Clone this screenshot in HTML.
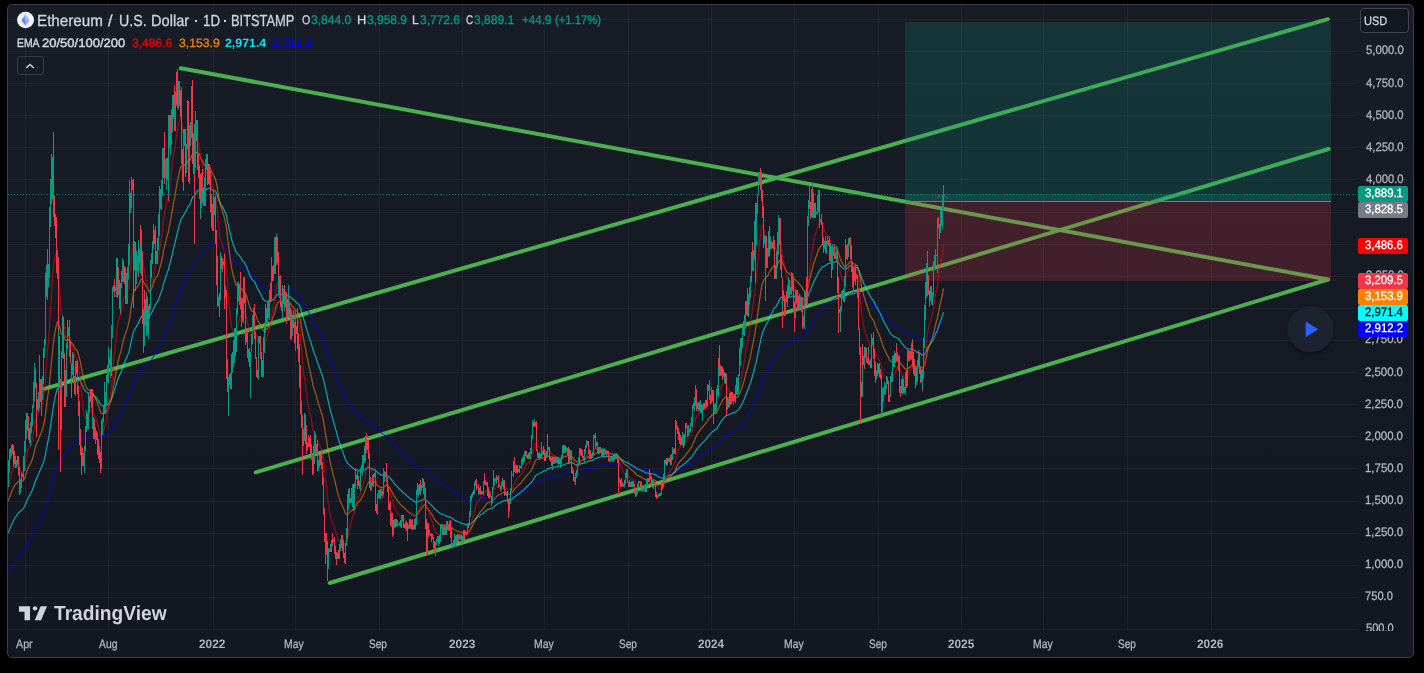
<!DOCTYPE html><html><head><meta charset="utf-8"><title>ETHUSD</title><style>
html,body{margin:0;padding:0;background:#000;}
body{width:1424px;height:673px;overflow:hidden;position:relative;font-family:"Liberation Sans",sans-serif;}
#chart{position:absolute;left:7px;top:4px;width:1405px;height:652px;border:1px solid #3a3e4a;border-radius:5px;background:linear-gradient(#181c27,#131722);}
.t{position:absolute;white-space:nowrap;line-height:1;text-rendering:geometricPrecision;-webkit-text-stroke:0.3px currentColor;}
.lb{position:absolute;left:1358px;width:50px;height:16px;border-radius:2px;}
</style></head><body>
<div id="chart"></div>
<svg width="1424" height="673" viewBox="0 0 1424 673" style="position:absolute;left:0;top:0">
<defs><clipPath id="pane"><rect x="8" y="5" width="1349" height="625"/></clipPath></defs>
<g clip-path="url(#pane)">
<g fill="#ffffff" fill-opacity="0.047" shape-rendering="crispEdges"><rect x="8" y="629" width="1349" height="1"/><rect x="8" y="597" width="1349" height="1"/><rect x="8" y="565" width="1349" height="1"/><rect x="8" y="533" width="1349" height="1"/><rect x="8" y="501" width="1349" height="1"/><rect x="8" y="468" width="1349" height="1"/><rect x="8" y="436" width="1349" height="1"/><rect x="8" y="404" width="1349" height="1"/><rect x="8" y="372" width="1349" height="1"/><rect x="8" y="340" width="1349" height="1"/><rect x="8" y="308" width="1349" height="1"/><rect x="8" y="276" width="1349" height="1"/><rect x="8" y="244" width="1349" height="1"/><rect x="8" y="212" width="1349" height="1"/><rect x="8" y="179" width="1349" height="1"/><rect x="8" y="147" width="1349" height="1"/><rect x="8" y="115" width="1349" height="1"/><rect x="8" y="83" width="1349" height="1"/><rect x="8" y="51" width="1349" height="1"/><rect x="8" y="19" width="1349" height="1"/><rect x="25" y="5" width="1" height="625"/><rect x="108" y="5" width="1" height="625"/><rect x="213" y="5" width="1" height="625"/><rect x="295" y="5" width="1" height="625"/><rect x="379" y="5" width="1" height="625"/><rect x="462" y="5" width="1" height="625"/><rect x="544" y="5" width="1" height="625"/><rect x="628" y="5" width="1" height="625"/><rect x="711" y="5" width="1" height="625"/><rect x="794" y="5" width="1" height="625"/><rect x="878" y="5" width="1" height="625"/><rect x="961" y="5" width="1" height="625"/><rect x="1043" y="5" width="1" height="625"/><rect x="1127" y="5" width="1" height="625"/><rect x="1211" y="5" width="1" height="625"/></g>
<g stroke="#4caf50" stroke-width="4" stroke-linecap="round" fill="none">
<line x1="180.8" y1="68.3" x2="1327.9" y2="279.5"/>
<line x1="44.1" y1="388.8" x2="1327.9" y2="19.2"/>
<line x1="255.7" y1="472.3" x2="1328.7" y2="149.0"/>
<line x1="329.7" y1="583.0" x2="1327.9" y2="279.5"/>
</g>
<rect x="905" y="22" width="426" height="179.5" fill="#089981" fill-opacity="0.2"/>
<rect x="905" y="194" width="426" height="7.5" fill="#089981" fill-opacity="0.2"/>
<rect x="905" y="201.5" width="426" height="79.5" fill="#f23645" fill-opacity="0.2"/>
<rect x="905" y="201" width="426" height="1" fill="#787b86"/>
<polyline points="5.5,575.7 6.2,574.9 6.9,574.1 7.6,573.3 8.3,572.3 9.0,571.2 9.6,570.0 10.3,568.8 11.0,567.6 11.7,566.4 12.4,565.2 13.1,564.1 13.7,563.0 14.4,562.0 15.1,561.0 15.8,560.0 16.5,559.1 17.2,558.1 17.8,557.2 18.5,556.3 19.2,555.5 19.9,554.9 20.6,554.1 21.2,553.4 21.9,552.6 22.6,551.8 23.3,551.0 24.0,550.1 24.7,549.1 25.3,547.8 26.0,546.5 26.7,545.3 27.4,544.0 28.1,542.8 28.8,541.7 29.4,540.7 30.1,539.7 30.8,538.6 31.5,537.4 32.2,536.2 32.9,534.9 33.5,533.5 34.2,532.0 34.9,530.4 35.6,529.0 36.3,527.6 37.0,526.4 37.6,525.2 38.3,524.0 39.0,522.7 39.7,521.4 40.4,520.1 41.1,518.9 41.7,517.7 42.4,516.3 43.1,514.8 43.8,513.2 44.5,511.5 45.2,509.5 45.8,507.4 46.5,505.0 47.2,502.5 47.9,500.2 48.6,498.0 49.3,495.5 49.9,492.7 50.6,489.7 51.3,486.7 52.0,483.7 52.7,480.5 53.4,477.7 54.0,475.1 54.7,472.6 55.4,470.1 56.1,467.9 56.8,466.0 57.5,463.9 58.1,463.1 58.8,461.8 59.5,461.0 60.2,460.4 60.9,460.1 61.6,459.0 62.2,457.8 62.9,456.5 63.6,455.5 64.3,454.8 65.0,454.2 65.7,453.4 66.3,452.3 67.0,451.1 67.7,450.0 68.4,448.7 69.1,447.7 69.7,446.7 70.4,445.9 71.1,445.1 71.8,444.4 72.5,443.6 73.2,442.8 73.8,442.1 74.5,441.6 75.2,441.0 75.9,440.2 76.6,439.4 77.3,438.9 77.9,438.4 78.6,438.1 79.3,437.8 80.0,437.8 80.7,438.0 81.4,438.1 82.0,438.3 82.7,438.6 83.4,438.8 84.1,439.0 84.8,439.1 85.5,438.9 86.1,438.7 86.8,438.5 87.5,438.3 88.2,438.0 88.9,437.6 89.6,437.2 90.2,436.8 90.9,436.4 91.6,436.0 92.3,435.9 93.0,435.7 93.7,435.6 94.3,435.6 95.0,435.6 95.7,435.5 96.4,435.6 97.1,435.7 97.8,435.8 98.4,435.9 99.1,436.1 99.8,436.4 100.5,436.6 101.2,436.6 101.9,436.5 102.5,436.3 103.2,436.1 103.9,435.9 104.6,435.6 105.3,435.3 106.0,434.9 106.6,434.3 107.3,433.7 108.0,433.1 108.7,432.4 109.4,431.7 110.1,431.1 110.7,430.3 111.4,429.3 112.1,428.1 112.8,426.7 113.5,425.3 114.2,423.9 114.8,422.5 115.5,421.2 116.2,419.7 116.9,418.2 117.6,416.8 118.2,415.5 118.9,414.2 119.6,413.0 120.3,412.0 121.0,410.8 121.7,409.4 122.3,408.0 123.0,406.7 123.7,405.3 124.4,404.0 125.1,402.9 125.8,401.8 126.4,400.5 127.1,399.3 127.8,398.1 128.5,396.7 129.2,395.2 129.9,393.3 130.5,391.3 131.2,389.3 131.9,387.3 132.6,385.3 133.3,383.3 134.0,382.0 134.6,380.6 135.3,379.5 136.0,378.5 136.7,377.4 137.4,376.2 138.1,375.2 138.7,374.0 139.4,372.8 140.1,371.4 140.8,370.1 141.5,368.9 142.2,368.0 142.8,367.5 143.5,367.2 144.2,366.5 144.9,365.9 145.6,365.4 146.3,364.9 146.9,364.2 147.6,363.8 148.3,363.5 149.0,363.0 149.7,362.4 150.4,361.5 151.0,360.6 151.7,359.6 152.4,358.4 153.1,357.2 153.8,355.9 154.5,354.7 155.1,353.6 155.8,352.6 156.5,351.6 157.2,350.5 157.9,349.5 158.6,348.3 159.2,346.9 159.9,345.4 160.6,343.9 161.3,342.5 162.0,341.0 162.7,339.2 163.3,337.4 164.0,335.8 164.7,334.2 165.4,332.6 166.1,331.0 166.7,329.3 167.4,327.8 168.1,326.4 168.8,324.6 169.5,322.6 170.2,320.9 170.8,319.1 171.5,317.0 172.2,314.9 172.9,312.8 173.6,310.8 174.3,308.9 174.9,306.9 175.6,304.8 176.3,302.5 177.0,300.4 177.7,298.4 178.4,296.3 179.0,294.3 179.7,292.4 180.4,290.5 181.1,288.9 181.8,287.6 182.5,286.4 183.1,285.4 183.8,283.9 184.5,282.5 185.2,281.2 185.9,280.1 186.6,278.7 187.2,277.4 187.9,275.8 188.6,274.8 189.3,273.5 190.0,272.2 190.7,270.8 191.3,269.1 192.0,267.5 192.7,266.2 193.4,265.1 194.1,264.1 194.8,263.0 195.4,261.7 196.1,260.5 196.8,259.1 197.5,258.2 198.2,257.2 198.9,256.4 199.5,255.6 200.2,255.2 200.9,254.6 201.6,253.9 202.3,253.3 203.0,252.7 203.6,252.2 204.3,251.6 205.0,251.0 205.7,250.1 206.4,249.2 207.1,248.4 207.7,247.7 208.4,247.0 209.1,246.3 209.8,245.6 210.5,245.2 211.2,244.9 211.8,244.6 212.5,244.4 213.2,243.9 213.9,243.5 214.6,243.1 215.2,242.7 215.9,242.7 216.6,242.9 217.3,243.3 218.0,243.8 218.7,244.4 219.3,244.9 220.0,245.2 220.7,245.4 221.4,245.6 222.1,245.8 222.8,245.9 223.4,246.1 224.1,246.5 224.8,246.9 225.5,247.4 226.2,248.0 226.9,249.1 227.5,250.5 228.2,251.8 228.9,253.1 229.6,254.4 230.3,255.7 231.0,256.9 231.6,258.0 232.3,259.0 233.0,259.9 233.7,260.7 234.4,261.5 235.1,262.3 235.7,263.1 236.4,263.6 237.1,263.9 237.8,264.2 238.5,264.5 239.2,264.8 239.8,265.1 240.5,265.4 241.2,265.9 241.9,266.4 242.6,267.0 243.3,267.4 243.9,267.6 244.6,267.8 245.3,268.4 246.0,269.1 246.7,269.8 247.4,270.7 248.0,271.5 248.7,272.4 249.4,273.3 250.1,274.1 250.8,274.9 251.5,275.5 252.1,276.0 252.8,276.5 253.5,276.8 254.2,277.2 254.9,277.7 255.6,278.5 256.2,279.3 256.9,280.2 257.6,281.2 258.3,281.9 259.0,282.5 259.7,283.1 260.3,283.9 261.0,284.6 261.7,285.4 262.4,286.2 263.1,286.9 263.7,287.5 264.4,287.9 265.1,288.2 265.8,288.5 266.5,288.8 267.2,289.0 267.8,289.3 268.5,289.5 269.2,289.5 269.9,289.6 270.6,289.7 271.3,289.6 271.9,289.4 272.6,289.3 273.3,289.1 274.0,289.0 274.7,288.6 275.4,288.2 276.0,287.7 276.7,287.4 277.4,287.1 278.1,287.1 278.8,287.1 279.5,287.1 280.1,287.0 280.8,287.2 281.5,287.5 282.2,287.7 282.9,287.7 283.6,287.8 284.2,288.0 284.9,288.1 285.6,288.2 286.3,288.3 287.0,288.6 287.7,288.8 288.3,289.0 289.0,289.2 289.7,289.4 290.4,289.7 291.1,290.2 291.8,290.6 292.4,291.0 293.1,291.2 293.8,291.5 294.5,292.0 295.2,292.4 295.9,292.8 296.5,293.1 297.2,293.3 297.9,293.8 298.6,294.4 299.3,295.0 300.0,295.9 300.6,297.0 301.3,298.2 302.0,299.5 302.7,300.9 303.4,302.3 304.1,303.6 304.7,304.7 305.4,306.0 306.1,307.4 306.8,308.8 307.5,310.2 308.2,311.5 308.8,312.8 309.5,314.1 310.2,315.3 310.9,316.7 311.6,318.0 312.2,319.5 312.9,321.0 313.6,322.3 314.3,323.6 315.0,324.7 315.7,325.9 316.3,327.1 317.0,328.4 317.7,329.8 318.4,331.1 319.1,332.4 319.8,333.6 320.4,334.9 321.1,336.2 321.8,337.5 322.5,338.9 323.2,340.4 323.9,342.1 324.5,344.1 325.2,346.0 325.9,347.9 326.6,349.9 327.3,351.9 328.0,354.1 328.6,356.0 329.3,357.9 330.0,359.8 330.7,361.7 331.4,363.6 332.1,365.3 332.7,367.0 333.4,368.8 334.1,370.5 334.8,372.2 335.5,374.1 336.2,375.9 336.8,377.7 337.5,379.4 338.2,381.2 338.9,382.9 339.6,384.6 340.3,386.2 340.9,387.8 341.6,389.3 342.3,390.7 343.0,392.3 343.7,393.9 344.4,395.6 345.0,397.1 345.7,398.6 346.4,399.9 347.1,401.1 347.8,402.1 348.5,403.0 349.1,403.9 349.8,404.9 350.5,405.8 351.2,406.7 351.9,407.6 352.6,408.4 353.2,409.3 353.9,410.3 354.6,411.1 355.3,411.7 356.0,412.3 356.7,412.9 357.3,413.6 358.0,414.2 358.7,414.9 359.4,415.6 360.1,416.3 360.7,416.9 361.4,417.4 362.1,418.0 362.8,418.4 363.5,418.8 364.2,419.2 364.8,419.5 365.5,419.7 366.2,419.9 366.9,420.1 367.6,420.4 368.3,420.7 368.9,421.1 369.6,421.7 370.3,422.3 371.0,423.0 371.7,423.6 372.4,424.2 373.0,424.7 373.7,425.3 374.4,425.8 375.1,426.5 375.8,427.3 376.5,428.1 377.1,428.9 377.8,429.6 378.5,430.2 379.2,430.8 379.9,431.5 380.6,432.1 381.2,432.7 381.9,433.3 382.6,433.9 383.3,434.4 384.0,434.8 384.7,435.2 385.3,435.5 386.0,435.9 386.7,436.3 387.4,436.9 388.1,437.5 388.8,438.1 389.4,438.8 390.1,439.6 390.8,440.4 391.5,441.2 392.2,442.0 392.9,442.9 393.5,443.7 394.2,444.5 394.9,445.3 395.6,446.1 396.3,446.8 397.0,447.6 397.6,448.4 398.3,449.1 399.0,449.8 399.7,450.6 400.4,451.3 401.1,452.0 401.7,452.7 402.4,453.3 403.1,454.0 403.8,454.7 404.5,455.4 405.2,456.1 405.8,456.8 406.5,457.5 407.2,458.2 407.9,458.9 408.6,459.6 409.2,460.3 409.9,460.9 410.6,461.5 411.3,462.1 412.0,462.7 412.7,463.3 413.3,464.0 414.0,464.6 414.7,465.1 415.4,465.7 416.1,466.1 416.8,466.3 417.4,466.6 418.1,466.9 418.8,467.1 419.5,467.2 420.2,467.5 420.9,467.7 421.5,467.9 422.2,468.1 422.9,468.2 423.6,468.4 424.3,468.6 425.0,468.8 425.6,469.4 426.3,470.2 427.0,470.8 427.7,471.3 428.4,471.9 429.1,472.6 429.7,473.2 430.4,473.8 431.1,474.4 431.8,475.1 432.5,475.7 433.2,476.4 433.8,477.1 434.5,477.8 435.2,478.5 435.9,479.2 436.6,479.8 437.3,480.3 437.9,480.9 438.6,481.5 439.3,482.1 440.0,482.7 440.7,483.1 441.4,483.5 442.0,484.0 442.7,484.4 443.4,484.9 444.1,485.3 444.8,485.8 445.5,486.2 446.1,486.7 446.8,487.1 447.5,487.5 448.2,487.9 448.9,488.3 449.6,488.6 450.2,489.0 450.9,489.4 451.6,490.0 452.3,490.5 453.0,491.0 453.7,491.6 454.3,492.1 455.0,492.5 455.7,493.0 456.4,493.4 457.1,493.8 457.7,494.3 458.4,494.7 459.1,495.1 459.8,495.6 460.5,496.0 461.2,496.4 461.8,496.8 462.5,497.2 463.2,497.6 463.9,497.9 464.6,498.3 465.3,498.6 465.9,498.9 466.6,499.3 467.3,499.5 468.0,499.8 468.7,500.1 469.4,500.2 470.0,500.3 470.7,500.3 471.4,500.2 472.1,500.1 472.8,500.1 473.5,500.0 474.1,499.9 474.8,499.7 475.5,499.5 476.2,499.4 476.9,499.3 477.6,499.1 478.2,499.1 478.9,499.0 479.6,498.9 480.3,498.8 481.0,498.7 481.7,498.7 482.3,498.6 483.0,498.5 483.7,498.3 484.4,498.2 485.1,498.0 485.8,497.9 486.4,497.7 487.1,497.6 487.8,497.6 488.5,497.5 489.2,497.5 489.9,497.5 490.5,497.5 491.2,497.5 491.9,497.5 492.6,497.4 493.3,497.2 494.0,497.1 494.6,496.9 495.3,496.7 496.0,496.5 496.7,496.4 497.4,496.2 498.1,496.0 498.7,496.0 499.4,495.9 500.1,495.8 500.8,495.7 501.5,495.6 502.2,495.5 502.8,495.3 503.5,495.2 504.2,495.2 504.9,495.2 505.6,495.1 506.2,495.1 506.9,495.1 507.6,495.2 508.3,495.3 509.0,495.5 509.7,495.5 510.3,495.4 511.0,495.3 511.7,495.1 512.4,494.9 513.1,494.6 513.8,494.3 514.4,494.1 515.1,493.8 515.8,493.6 516.5,493.3 517.2,493.1 517.9,492.9 518.5,492.7 519.2,492.4 519.9,492.2 520.6,491.9 521.3,491.7 522.0,491.4 522.6,491.0 523.3,490.7 524.0,490.4 524.7,490.0 525.4,489.7 526.1,489.3 526.7,489.0 527.4,488.7 528.1,488.4 528.8,488.0 529.5,487.7 530.2,487.4 530.8,487.0 531.5,486.5 532.2,486.0 532.9,485.4 533.6,484.8 534.3,484.2 534.9,483.6 535.6,483.0 536.3,482.6 537.0,482.3 537.7,482.0 538.4,481.8 539.0,481.5 539.7,481.3 540.4,481.0 541.1,480.7 541.8,480.5 542.5,480.2 543.1,479.9 543.8,479.6 544.5,479.4 545.2,479.2 545.9,479.0 546.6,478.7 547.2,478.3 547.9,478.0 548.6,477.7 549.3,477.5 550.0,477.3 550.7,477.1 551.3,477.0 552.0,476.8 552.7,476.7 553.4,476.5 554.1,476.3 554.8,476.2 555.4,476.0 556.1,475.8 556.8,475.7 557.5,475.5 558.2,475.4 558.8,475.2 559.5,475.1 560.2,475.0 560.9,474.8 561.6,474.7 562.3,474.4 562.9,474.2 563.6,473.9 564.3,473.7 565.0,473.4 565.7,473.2 566.4,473.0 567.0,472.8 567.7,472.6 568.4,472.5 569.1,472.3 569.8,472.1 570.5,471.9 571.1,471.8 571.8,471.7 572.5,471.8 573.2,471.8 573.9,471.9 574.6,472.0 575.2,472.1 575.9,472.1 576.6,472.1 577.3,472.1 578.0,472.1 578.7,471.9 579.3,471.7 580.0,471.5 580.7,471.3 581.4,471.1 582.1,470.9 582.8,470.8 583.4,470.7 584.1,470.6 584.8,470.4 585.5,470.1 586.2,469.9 586.9,469.6 587.5,469.3 588.2,469.1 588.9,468.9 589.6,468.8 590.3,468.6 591.0,468.5 591.6,468.4 592.3,468.2 593.0,468.0 593.7,467.7 594.4,467.4 595.1,467.2 595.7,466.9 596.4,466.7 597.1,466.5 597.8,466.3 598.5,466.1 599.2,466.0 599.8,465.8 600.5,465.6 601.2,465.5 601.9,465.3 602.6,465.2 603.3,465.1 603.9,464.9 604.6,464.8 605.3,464.7 606.0,464.6 606.7,464.5 607.3,464.4 608.0,464.3 608.7,464.3 609.4,464.2 610.1,464.2 610.8,464.1 611.4,464.1 612.1,464.0 612.8,464.0 613.5,463.9 614.2,463.8 614.9,463.7 615.5,463.7 616.2,463.6 616.9,463.5 617.6,463.5 618.3,463.7 619.0,463.8 619.6,464.0 620.3,464.2 621.0,464.4 621.7,464.6 622.4,464.8 623.1,465.0 623.7,465.2 624.4,465.4 625.1,465.5 625.8,465.6 626.5,465.6 627.2,465.7 627.8,465.9 628.5,466.1 629.2,466.3 629.9,466.5 630.6,466.6 631.3,466.8 631.9,467.0 632.6,467.1 633.3,467.3 634.0,467.5 634.7,467.7 635.4,468.0 636.0,468.2 636.7,468.5 637.4,468.6 638.1,468.8 638.8,468.9 639.5,469.0 640.1,469.2 640.8,469.3 641.5,469.5 642.2,469.7 642.9,469.9 643.6,470.1 644.2,470.3 644.9,470.5 645.6,470.6 646.3,470.8 647.0,470.9 647.7,471.0 648.3,471.1 649.0,471.1 649.7,471.1 650.4,471.2 651.1,471.3 651.8,471.4 652.4,471.5 653.1,471.6 653.8,471.7 654.5,471.9 655.2,472.0 655.8,472.2 656.5,472.4 657.2,472.7 657.9,472.9 658.6,473.1 659.3,473.3 659.9,473.6 660.6,473.7 661.3,473.9 662.0,474.0 662.7,474.1 663.4,474.1 664.0,474.1 664.7,473.9 665.4,473.8 666.1,473.7 666.8,473.6 667.5,473.5 668.1,473.3 668.8,473.2 669.5,473.1 670.2,472.9 670.9,472.8 671.6,472.7 672.2,472.5 672.9,472.3 673.6,472.1 674.3,471.9 675.0,471.7 675.7,471.2 676.3,470.7 677.0,470.3 677.7,470.0 678.4,469.6 679.1,469.3 679.8,469.0 680.4,468.7 681.1,468.5 681.8,468.2 682.5,467.9 683.2,467.7 683.9,467.4 684.5,467.1 685.2,466.8 685.9,466.4 686.6,466.0 687.3,465.6 688.0,465.3 688.6,465.0 689.3,464.6 690.0,464.2 690.7,463.8 691.4,463.4 692.1,462.9 692.7,462.3 693.4,461.8 694.1,461.2 694.8,460.6 695.5,459.9 696.2,459.3 696.8,458.7 697.5,458.2 698.2,457.7 698.9,457.2 699.6,456.7 700.3,456.2 700.9,455.7 701.6,455.3 702.3,454.8 703.0,454.3 703.7,453.9 704.3,453.4 705.0,452.9 705.7,452.4 706.4,451.9 707.1,451.4 707.8,450.8 708.4,450.2 709.1,449.6 709.8,449.1 710.5,448.6 711.2,448.1 711.9,447.5 712.5,447.0 713.2,446.7 713.9,446.3 714.6,445.9 715.3,445.5 716.0,445.2 716.6,444.7 717.3,444.1 718.0,443.3 718.7,442.5 719.4,441.8 720.1,441.1 720.7,440.4 721.4,439.7 722.1,439.0 722.8,438.4 723.5,437.7 724.2,437.2 724.8,436.6 725.5,436.0 726.2,435.6 726.9,435.3 727.6,435.0 728.3,434.7 728.9,434.3 729.6,434.0 730.3,433.6 731.0,433.3 731.7,432.9 732.4,432.6 733.0,432.3 733.7,431.9 734.4,431.6 735.1,431.3 735.8,430.9 736.5,430.4 737.1,430.0 737.8,429.6 738.5,429.1 739.2,428.4 739.9,427.7 740.6,426.9 741.2,426.2 741.9,425.3 742.6,424.4 743.3,423.4 744.0,422.4 744.7,421.4 745.3,420.3 746.0,419.2 746.7,418.1 747.4,417.0 748.1,415.9 748.8,414.7 749.4,413.5 750.1,412.3 750.8,411.0 751.5,409.4 752.2,408.0 752.8,406.6 753.5,405.1 754.2,403.5 754.9,401.7 755.6,400.1 756.3,398.3 756.9,396.3 757.6,394.3 758.3,392.2 759.0,390.0 759.7,387.9 760.4,385.8 761.0,383.8 761.7,381.9 762.4,380.2 763.1,378.8 763.8,377.5 764.5,376.1 765.1,375.3 765.8,373.9 766.5,372.7 767.2,371.7 767.9,370.5 768.6,369.2 769.2,367.9 769.9,366.6 770.6,365.4 771.3,364.2 772.0,363.0 772.7,361.8 773.3,360.6 774.0,359.5 774.7,358.6 775.4,357.8 776.1,356.8 776.8,355.8 777.4,354.7 778.1,353.5 778.8,352.2 779.5,351.0 780.2,349.9 780.9,349.0 781.5,348.2 782.2,347.8 782.9,347.4 783.6,346.9 784.3,346.4 785.0,346.1 785.6,345.6 786.3,345.1 787.0,344.7 787.7,344.2 788.4,343.6 789.1,343.0 789.7,342.5 790.4,342.0 791.1,341.4 791.8,340.8 792.5,340.2 793.2,339.7 793.8,339.4 794.5,339.1 795.2,338.7 795.9,338.3 796.6,337.9 797.3,337.5 797.9,337.1 798.6,336.8 799.3,336.5 800.0,336.1 800.7,335.8 801.3,335.5 802.0,335.3 802.7,335.2 803.4,335.1 804.1,334.8 804.8,334.4 805.4,334.1 806.1,333.7 806.8,333.3 807.5,332.3 808.2,331.0 808.9,329.8 809.5,328.5 810.2,327.4 810.9,326.2 811.6,325.0 812.3,323.7 813.0,322.5 813.6,321.3 814.3,320.2 815.0,319.1 815.7,318.1 816.4,317.0 817.1,316.0 817.7,314.8 818.4,313.6 819.1,312.7 819.8,311.8 820.5,310.8 821.2,309.9 821.8,309.1 822.5,308.4 823.2,307.8 823.9,307.2 824.6,306.6 825.3,306.1 825.9,305.5 826.6,304.9 827.3,304.2 828.0,303.6 828.7,303.0 829.4,302.5 830.0,302.0 830.7,301.6 831.4,301.2 832.1,300.8 832.8,300.3 833.5,299.8 834.1,299.3 834.8,298.8 835.5,298.4 836.2,297.9 836.9,297.5 837.6,297.4 838.2,297.4 838.9,297.5 839.6,297.7 840.3,297.9 841.0,298.0 841.7,297.9 842.3,297.9 843.0,297.9 843.7,297.8 844.4,297.7 845.1,297.5 845.8,297.0 846.4,296.6 847.1,296.2 847.8,295.7 848.5,295.2 849.2,294.6 849.8,294.0 850.5,293.6 851.2,293.4 851.9,293.1 852.6,293.0 853.3,292.8 853.9,292.7 854.6,292.5 855.3,292.3 856.0,292.1 856.7,292.0 857.4,292.0 858.0,292.2 858.7,292.5 859.4,293.1 860.1,294.0 860.8,294.9 861.5,295.9 862.1,296.4 862.8,297.0 863.5,297.7 864.2,298.3 864.9,298.9 865.6,299.4 866.2,300.0 866.9,300.6 867.6,301.1 868.3,301.7 869.0,302.3 869.7,302.9 870.3,303.5 871.0,304.0 871.7,304.4 872.4,304.7 873.1,305.0 873.8,305.5 874.4,306.2 875.1,306.9 875.8,307.6 876.5,308.2 877.2,308.8 877.9,309.4 878.5,310.0 879.2,310.6 879.9,311.2 880.6,311.9 881.3,312.7 882.0,313.7 882.6,314.5 883.3,315.3 884.0,316.0 884.7,316.7 885.4,317.4 886.1,318.1 886.7,318.7 887.4,319.4 888.1,320.1 888.8,320.9 889.5,321.6 890.2,322.3 890.8,322.8 891.5,323.3 892.2,323.7 892.9,324.1 893.6,324.5 894.3,324.8 894.9,325.0 895.6,325.4 896.3,325.6 897.0,325.9 897.7,326.2 898.3,326.5 899.0,327.0 899.7,327.6 900.4,328.2 901.1,328.8 901.8,329.4 902.4,329.9 903.1,330.5 903.8,331.1 904.5,331.6 905.2,332.2 905.9,332.6 906.5,333.0 907.2,333.4 907.9,333.6 908.6,333.8 909.3,334.0 910.0,334.2 910.6,334.4 911.3,334.6 912.0,334.7 912.7,334.9 913.4,335.2 914.1,335.6 914.7,335.9 915.4,336.4 916.1,336.8 916.8,337.2 917.5,337.5 918.2,337.6 918.8,337.8 919.5,338.1 920.2,338.5 920.9,338.9 921.6,339.3 922.3,339.8 922.9,340.1 923.6,340.1 924.3,339.9 925.0,339.6 925.7,339.2 926.4,338.6 927.0,337.8 927.7,337.2 928.4,336.8 929.1,336.4 929.8,336.0 930.5,335.6 931.1,335.2 931.8,334.8 932.5,334.4 933.2,333.8 933.9,333.1 934.6,332.4 935.2,331.6 935.9,330.8 936.6,330.1 937.3,329.5 938.0,328.4 938.7,327.4 939.3,326.5 940.0,325.5 940.7,324.4 941.4,323.4 942.1,322.5 942.8,321.3 943.4,320.0" fill="none" stroke="#0000ff" stroke-width="1.25" stroke-opacity="0.6" stroke-linejoin="round"/>
<polyline points="5.5,535.9 6.2,535.1 6.9,534.3 7.6,533.4 8.3,532.2 9.0,530.8 9.6,529.3 10.3,527.7 11.0,526.2 11.7,524.6 12.4,523.0 13.1,521.6 13.7,520.3 14.4,519.1 15.1,518.0 15.8,516.9 16.5,515.9 17.2,514.8 17.8,513.8 18.5,512.9 19.2,512.2 19.9,511.7 20.6,511.1 21.2,510.5 21.9,509.8 22.6,509.1 23.3,508.2 24.0,507.4 24.7,506.2 25.3,504.6 26.0,502.9 26.7,501.2 27.4,499.5 28.1,498.0 28.8,496.8 29.4,495.7 30.1,494.4 30.8,493.2 31.5,491.7 32.2,490.2 32.9,488.6 33.5,486.8 34.2,484.7 34.9,482.5 35.6,480.5 36.3,478.8 37.0,477.4 37.6,476.0 38.3,474.5 39.0,473.0 39.7,471.2 40.4,469.7 41.1,468.3 41.7,466.8 42.4,465.1 43.1,463.2 43.8,461.0 44.5,458.6 45.2,455.8 45.8,452.5 46.5,448.9 47.2,445.0 47.9,441.7 48.6,438.3 49.3,434.6 49.9,430.2 50.6,425.5 51.3,420.8 52.0,416.2 52.7,411.0 53.4,407.0 54.0,403.2 54.7,399.6 55.4,396.1 56.1,393.1 56.8,390.7 57.5,388.1 58.1,388.0 58.8,387.0 59.5,386.9 60.2,387.2 60.9,387.9 61.6,387.2 62.2,386.3 62.9,385.0 63.6,384.4 64.3,384.4 65.0,384.7 65.7,384.5 66.3,383.7 67.0,382.7 67.7,381.7 68.4,380.6 69.1,380.0 69.7,379.3 70.4,379.0 71.1,378.8 71.8,378.7 72.5,378.3 73.2,378.0 73.8,378.0 74.5,378.2 75.2,378.2 75.9,377.9 76.6,377.7 77.3,377.7 77.9,378.0 78.6,378.5 79.3,379.3 80.0,380.4 80.7,381.8 81.4,383.2 82.0,384.7 82.7,386.3 83.4,387.8 84.1,389.2 84.8,390.3 85.5,391.0 86.1,391.5 86.8,392.0 87.5,392.6 88.2,392.9 88.9,393.0 89.6,393.1 90.2,393.1 90.9,393.2 91.6,393.3 92.3,393.8 93.0,394.4 93.7,395.0 94.3,395.8 95.0,396.5 95.7,397.2 96.4,398.0 97.1,399.0 97.8,399.9 98.4,400.9 99.1,402.0 99.8,403.2 100.5,404.4 101.2,405.0 101.9,405.4 102.5,405.6 103.2,405.8 103.9,405.9 104.6,405.9 105.3,406.0 106.0,405.8 106.6,405.2 107.3,404.5 108.0,403.8 108.7,403.1 109.4,402.3 110.1,401.6 110.7,400.6 111.4,399.2 112.1,397.4 112.8,395.2 113.5,393.0 114.2,390.9 114.8,388.9 115.5,386.9 116.2,384.7 116.9,382.4 117.6,380.3 118.2,378.4 118.9,376.6 119.6,375.0 120.3,373.6 121.0,372.0 121.7,370.0 122.3,368.0 123.0,366.1 123.7,364.2 124.4,362.5 125.1,361.0 125.8,359.7 126.4,358.0 127.1,356.5 127.8,355.0 128.5,352.9 129.2,350.9 129.9,347.9 130.5,344.9 131.2,341.8 131.9,338.7 132.6,335.6 133.3,332.7 134.0,331.2 134.6,329.4 135.3,328.2 136.0,327.3 136.7,326.0 137.4,324.7 138.1,323.6 138.7,322.3 139.4,320.9 140.1,319.2 140.8,317.6 141.5,316.4 142.2,315.6 142.8,315.6 143.5,316.0 144.2,315.7 144.9,315.4 145.6,315.5 146.3,315.4 146.9,315.1 147.6,315.3 148.3,315.6 149.0,315.5 149.7,315.4 150.4,314.5 151.0,313.6 151.7,312.4 152.4,311.1 153.1,309.5 153.8,308.0 154.5,306.6 155.1,305.2 155.8,304.2 156.5,303.3 157.2,302.1 157.9,300.9 158.6,299.4 159.2,297.8 159.9,295.8 160.6,293.7 161.3,291.9 162.0,289.9 162.7,287.4 163.3,284.8 164.0,282.6 164.7,280.5 165.4,278.4 166.1,276.2 166.7,274.1 167.4,272.1 168.1,270.5 168.8,268.0 169.5,265.2 170.2,262.8 170.8,260.4 171.5,257.5 172.2,254.4 172.9,251.4 173.6,248.6 174.3,246.0 174.9,243.4 175.6,240.4 176.3,237.2 177.0,234.2 177.7,231.5 178.4,228.8 179.0,226.1 179.7,223.6 180.4,221.2 181.1,219.5 181.8,218.2 182.5,217.2 183.1,216.5 183.8,215.0 184.5,213.5 185.2,212.3 185.9,211.4 186.6,210.1 187.2,208.9 187.9,207.0 188.6,206.3 189.3,205.2 190.0,203.9 190.7,202.5 191.3,200.5 192.0,198.6 192.7,197.4 193.4,196.5 194.1,195.9 194.8,195.1 195.4,193.9 196.1,192.8 196.8,191.4 197.5,190.9 198.2,190.3 198.9,189.9 199.5,189.8 200.2,190.1 200.9,190.4 201.6,190.1 202.3,190.3 203.0,190.4 203.6,190.5 204.3,190.6 205.0,190.6 205.7,190.0 206.4,189.4 207.1,189.0 207.7,188.7 208.4,188.5 209.1,188.3 209.8,188.0 210.5,188.4 211.2,188.9 211.8,189.5 212.5,190.1 213.2,190.3 213.9,190.5 214.6,190.7 215.2,191.0 215.9,191.9 216.6,193.4 217.3,195.2 218.0,197.2 218.7,199.2 219.3,201.2 220.0,202.7 220.7,203.8 221.4,205.1 222.1,206.2 222.8,207.3 223.4,208.5 224.1,209.9 224.8,211.4 225.5,213.1 226.2,215.0 226.9,218.0 227.5,221.3 228.2,224.6 228.9,227.6 229.6,230.6 230.3,233.7 231.0,236.7 231.6,239.2 232.3,241.6 233.0,243.6 233.7,245.6 234.4,247.4 235.1,249.2 235.7,251.2 236.4,252.4 237.1,253.3 237.8,254.1 238.5,254.8 239.2,255.5 239.8,256.4 240.5,257.3 241.2,258.3 241.9,259.5 242.6,260.7 243.3,261.7 243.9,262.1 244.6,262.8 245.3,264.0 246.0,265.5 246.7,267.0 247.4,268.7 248.0,270.5 248.7,272.2 249.4,274.0 250.1,275.7 250.8,277.2 251.5,278.4 252.1,279.4 252.8,280.1 253.5,280.8 254.2,281.4 254.9,282.4 255.6,283.9 256.2,285.4 256.9,287.1 257.6,288.8 258.3,290.1 259.0,291.2 259.7,292.2 260.3,293.5 261.0,294.7 261.7,296.2 262.4,297.6 263.1,298.7 263.7,299.7 264.4,300.3 265.1,300.6 265.8,301.0 266.5,301.3 267.2,301.5 267.8,301.7 268.5,301.9 269.2,301.8 269.9,301.7 270.6,301.6 271.3,301.3 271.9,300.6 272.6,300.1 273.3,299.6 274.0,299.0 274.7,298.2 275.4,297.2 276.0,296.1 276.7,295.2 277.4,294.5 278.1,294.3 278.8,294.1 279.5,293.9 280.1,293.8 280.8,294.0 281.5,294.4 282.2,294.6 282.9,294.6 283.6,294.6 284.2,294.8 284.9,294.9 285.6,295.0 286.3,295.1 287.0,295.4 287.7,295.8 288.3,296.1 289.0,296.3 289.7,296.6 290.4,297.0 291.1,297.8 291.8,298.5 292.4,299.1 293.1,299.4 293.8,299.8 294.5,300.7 295.2,301.3 295.9,301.8 296.5,302.4 297.2,302.6 297.9,303.4 298.6,304.4 299.3,305.4 300.0,307.0 300.6,308.9 301.3,311.1 302.0,313.4 302.7,316.0 303.4,318.3 304.1,320.6 304.7,322.5 305.4,324.8 306.1,327.2 306.8,329.6 307.5,331.8 308.2,334.0 308.8,336.2 309.5,338.3 310.2,340.3 310.9,342.4 311.6,344.7 312.2,347.0 312.9,349.5 313.6,351.6 314.3,353.5 315.0,355.1 315.7,356.9 316.3,358.7 317.0,360.7 317.7,362.8 318.4,364.8 319.1,366.7 319.8,368.4 320.4,370.3 321.1,372.1 321.8,373.9 322.5,376.0 323.2,378.4 323.9,381.0 324.5,384.2 325.2,387.2 325.9,390.2 326.6,393.3 327.3,396.5 328.0,399.8 328.6,402.8 329.3,405.7 330.0,408.6 330.7,411.4 331.4,414.0 332.1,416.4 332.7,418.9 333.4,421.3 334.1,423.7 334.8,426.1 335.5,428.7 336.2,431.2 336.8,433.7 337.5,436.1 338.2,438.5 338.9,440.8 339.6,442.9 340.3,445.0 340.9,447.0 341.6,448.8 342.3,450.5 343.0,452.4 343.7,454.4 344.4,456.5 345.0,458.4 345.7,460.1 346.4,461.6 347.1,462.8 347.8,463.5 348.5,464.0 349.1,464.7 349.8,465.4 350.5,466.0 351.2,466.6 351.9,467.2 352.6,467.7 353.2,468.3 353.9,469.1 354.6,469.4 355.3,469.5 356.0,469.6 356.7,469.7 357.3,469.9 358.0,470.1 358.7,470.4 359.4,470.6 360.1,471.0 360.7,471.0 361.4,471.0 362.1,471.0 362.8,470.9 363.5,470.6 364.2,470.3 364.8,469.9 365.5,469.3 366.2,468.7 366.9,468.2 367.6,467.8 368.3,467.5 368.9,467.3 369.6,467.6 370.3,468.0 371.0,468.3 371.7,468.6 372.4,469.0 373.0,469.2 373.7,469.3 374.4,469.4 375.1,470.0 375.8,470.7 376.5,471.5 377.1,472.2 377.8,472.7 378.5,473.2 379.2,473.6 379.9,474.0 380.6,474.4 381.2,474.7 381.9,475.1 382.6,475.4 383.3,475.6 384.0,475.6 384.7,475.5 385.3,475.5 386.0,475.3 386.7,475.4 387.4,475.7 388.1,476.2 388.8,476.8 389.4,477.4 390.1,478.1 390.8,479.0 391.5,479.7 392.2,480.6 392.9,481.7 393.5,482.5 394.2,483.3 394.9,484.1 395.6,484.9 396.3,485.6 397.0,486.4 397.6,487.1 398.3,487.9 399.0,488.5 399.7,489.2 400.4,489.9 401.1,490.6 401.7,491.2 402.4,491.7 403.1,492.3 403.8,493.0 404.5,493.6 405.2,494.2 405.8,494.8 406.5,495.5 407.2,496.1 407.9,496.7 408.6,497.3 409.2,497.9 409.9,498.4 410.6,498.9 411.3,499.3 412.0,499.8 412.7,500.3 413.3,500.9 414.0,501.3 414.7,501.7 415.4,502.1 416.1,502.2 416.8,502.0 417.4,501.8 418.1,501.6 418.8,501.3 419.5,501.0 420.2,500.8 420.9,500.6 421.5,500.3 422.2,500.0 422.9,499.7 423.6,499.4 424.3,499.2 425.0,499.1 425.6,499.5 426.3,500.6 427.0,501.1 427.7,501.7 428.4,502.3 429.1,502.9 429.7,503.5 430.4,504.1 431.1,504.8 431.8,505.5 432.5,506.1 433.2,506.9 433.8,507.7 434.5,508.5 435.2,509.3 435.9,510.0 436.6,510.6 437.3,511.1 437.9,511.7 438.6,512.2 439.3,512.8 440.0,513.3 440.7,513.6 441.4,513.8 442.0,514.1 442.7,514.4 443.4,514.7 444.1,515.0 444.8,515.3 445.5,515.7 446.1,515.9 446.8,516.2 447.5,516.4 448.2,516.6 448.9,516.8 449.6,516.9 450.2,517.1 450.9,517.4 451.6,518.0 452.3,518.5 453.0,519.0 453.7,519.5 454.3,519.9 455.0,520.3 455.7,520.6 456.4,521.0 457.1,521.3 457.7,521.6 458.4,521.9 459.1,522.2 459.8,522.5 460.5,522.8 461.2,523.1 461.8,523.5 462.5,523.7 463.2,523.9 463.9,524.0 464.6,524.2 465.3,524.4 465.9,524.5 466.6,524.7 467.3,524.7 468.0,524.8 468.7,524.7 469.4,524.6 470.0,524.2 470.7,523.7 471.4,523.1 472.1,522.6 472.8,522.0 473.5,521.4 474.1,520.7 474.8,520.0 475.5,519.2 476.2,518.5 476.9,517.9 477.6,517.3 478.2,516.8 478.9,516.3 479.6,515.8 480.3,515.2 481.0,514.8 481.7,514.4 482.3,513.9 483.0,513.4 483.7,512.8 484.4,512.2 485.1,511.6 485.8,511.0 486.4,510.5 487.1,510.0 487.8,509.6 488.5,509.3 489.2,509.1 489.9,508.8 490.5,508.5 491.2,508.3 491.9,508.2 492.6,507.7 493.3,507.2 494.0,506.7 494.6,506.2 495.3,505.6 496.0,505.1 496.7,504.6 497.4,504.0 498.1,503.6 498.7,503.3 499.4,503.0 500.1,502.7 500.8,502.4 501.5,502.0 502.2,501.6 502.8,501.2 503.5,500.9 504.2,500.7 504.9,500.5 505.6,500.4 506.2,500.3 506.9,500.2 507.6,500.2 508.3,500.4 509.0,500.6 509.7,500.5 510.3,500.3 511.0,499.9 511.7,499.4 512.4,498.9 513.1,498.3 513.8,497.6 514.4,497.0 515.1,496.5 515.8,496.0 516.5,495.5 517.2,495.0 517.9,494.5 518.5,494.0 519.2,493.5 519.9,493.0 520.6,492.5 521.3,491.9 522.0,491.3 522.6,490.7 523.3,490.1 524.0,489.4 524.7,488.8 525.4,488.1 526.1,487.4 526.7,486.8 527.4,486.2 528.1,485.6 528.8,485.0 529.5,484.4 530.2,483.8 530.8,483.2 531.5,482.3 532.2,481.4 532.9,480.2 533.6,479.1 534.3,478.0 534.9,476.9 535.6,475.9 536.3,475.3 537.0,474.8 537.7,474.4 538.4,474.0 539.0,473.7 539.7,473.3 540.4,473.0 541.1,472.6 541.8,472.3 542.5,471.9 543.1,471.4 543.8,471.0 544.5,470.8 545.2,470.6 545.9,470.3 546.6,469.9 547.2,469.3 547.9,468.9 548.6,468.5 549.3,468.3 550.0,468.1 550.7,467.9 551.3,467.8 552.0,467.7 552.7,467.5 553.4,467.4 554.1,467.2 554.8,467.0 555.4,466.9 556.1,466.7 556.8,466.6 557.5,466.4 558.2,466.3 558.8,466.2 559.5,466.2 560.2,466.1 560.9,466.0 561.6,465.8 562.3,465.6 562.9,465.2 563.6,464.9 564.3,464.6 565.0,464.3 565.7,464.0 566.4,463.7 567.0,463.5 567.7,463.3 568.4,463.3 569.1,463.0 569.8,462.9 570.5,462.7 571.1,462.6 571.8,462.7 572.5,462.9 573.2,463.3 573.9,463.6 574.6,464.0 575.2,464.3 575.9,464.5 576.6,464.6 577.3,464.8 578.0,464.8 578.7,464.7 579.3,464.4 580.0,464.1 580.7,463.9 581.4,463.6 582.1,463.5 582.8,463.3 583.4,463.2 584.1,463.2 584.8,462.9 585.5,462.5 586.2,462.2 586.9,461.8 587.5,461.5 588.2,461.1 588.9,460.9 589.6,460.8 590.3,460.7 591.0,460.6 591.6,460.5 592.3,460.3 593.0,460.1 593.7,459.6 594.4,459.1 595.1,458.8 595.7,458.6 596.4,458.3 597.1,458.0 597.8,457.8 598.5,457.6 599.2,457.5 599.8,457.3 600.5,457.1 601.2,457.0 601.9,456.9 602.6,456.7 603.3,456.7 603.9,456.6 604.6,456.6 605.3,456.5 606.0,456.4 606.7,456.3 607.3,456.3 608.0,456.3 608.7,456.4 609.4,456.4 610.1,456.5 610.8,456.6 611.4,456.6 612.1,456.7 612.8,456.7 613.5,456.7 614.2,456.7 614.9,456.6 615.5,456.7 616.2,456.7 616.9,456.7 617.6,456.8 618.3,457.2 619.0,457.7 619.6,458.1 620.3,458.7 621.0,459.1 621.7,459.6 622.4,460.1 623.1,460.6 623.7,461.1 624.4,461.5 625.1,461.8 625.8,462.1 626.5,462.3 627.2,462.5 627.8,462.9 628.5,463.4 629.2,463.8 629.9,464.2 630.6,464.6 631.3,465.0 631.9,465.4 632.6,465.7 633.3,466.1 634.0,466.4 634.7,466.9 635.4,467.5 636.0,468.0 636.7,468.5 637.4,468.8 638.1,469.1 638.8,469.3 639.5,469.6 640.1,469.9 640.8,470.2 641.5,470.5 642.2,470.9 642.9,471.3 643.6,471.6 644.2,471.9 644.9,472.2 645.6,472.6 646.3,472.9 647.0,473.0 647.7,473.2 648.3,473.3 649.0,473.2 649.7,473.3 650.4,473.4 651.1,473.5 651.8,473.7 652.4,473.9 653.1,474.0 653.8,474.2 654.5,474.4 655.2,474.7 655.8,475.0 656.5,475.4 657.2,475.9 657.9,476.3 658.6,476.6 659.3,477.0 659.9,477.3 660.6,477.6 661.3,477.9 662.0,478.0 662.7,478.1 663.4,478.1 664.0,477.9 664.7,477.5 665.4,477.3 666.1,477.0 666.8,476.7 667.5,476.3 668.1,476.0 668.8,475.7 669.5,475.4 670.2,475.1 670.9,474.8 671.6,474.5 672.2,474.2 672.9,473.7 673.6,473.2 674.3,472.8 675.0,472.3 675.7,471.3 676.3,470.5 677.0,469.7 677.7,468.9 678.4,468.2 679.1,467.7 679.8,467.1 680.4,466.6 681.1,466.2 681.8,465.7 682.5,465.1 683.2,464.7 683.9,464.3 684.5,463.7 685.2,463.1 685.9,462.3 686.6,461.7 687.3,461.1 688.0,460.5 688.6,459.9 689.3,459.3 690.0,458.7 690.7,458.0 691.4,457.3 692.1,456.3 692.7,455.3 693.4,454.4 694.1,453.5 694.8,452.4 695.5,451.2 696.2,450.1 696.8,449.2 697.5,448.3 698.2,447.6 698.9,446.7 699.6,445.9 700.3,445.2 700.9,444.4 701.6,443.7 702.3,443.1 703.0,442.3 703.7,441.6 704.3,440.9 705.0,440.2 705.7,439.4 706.4,438.7 707.1,437.9 707.8,437.0 708.4,436.0 709.1,435.2 709.8,434.4 710.5,433.7 711.2,433.1 711.9,432.3 712.5,431.5 713.2,431.1 713.9,430.7 714.6,430.2 715.3,429.8 716.0,429.4 716.6,428.7 717.3,428.0 718.0,426.7 718.7,425.4 719.4,424.3 720.1,423.2 720.7,422.2 721.4,421.2 722.1,420.2 722.8,419.3 723.5,418.4 724.2,417.6 724.8,416.8 725.5,416.1 726.2,415.7 726.9,415.5 727.6,415.3 728.3,415.0 728.9,414.8 729.6,414.5 730.3,414.1 731.0,413.8 731.7,413.4 732.4,413.2 733.0,412.9 733.7,412.6 734.4,412.4 735.1,412.1 735.8,411.7 736.5,411.2 737.1,410.8 737.8,410.3 738.5,409.6 739.2,408.7 739.9,407.7 740.6,406.6 741.2,405.5 741.9,404.2 742.6,402.7 743.3,401.2 744.0,399.7 744.7,398.2 745.3,396.3 746.0,394.6 746.7,392.9 747.4,391.3 748.1,389.6 748.8,387.7 749.4,385.8 750.1,384.0 750.8,381.9 751.5,379.5 752.2,377.2 752.8,375.0 753.5,372.6 754.2,370.0 754.9,367.2 755.6,364.7 756.3,361.8 756.9,358.6 757.6,355.4 758.3,351.9 759.0,348.4 759.7,344.9 760.4,341.7 761.0,338.5 761.7,335.6 762.4,333.2 763.1,331.4 763.8,329.7 764.5,327.9 765.1,327.1 765.8,325.5 766.5,324.0 767.2,322.9 767.9,321.5 768.6,319.9 769.2,318.2 769.9,316.7 770.6,315.3 771.3,313.9 772.0,312.5 772.7,311.2 773.3,309.8 774.0,308.5 774.7,307.7 775.4,307.1 776.1,306.3 776.8,305.2 777.4,304.0 778.1,302.6 778.8,301.0 779.5,299.6 780.2,298.4 780.9,297.6 781.5,297.2 782.2,297.4 782.9,297.5 783.6,297.5 784.3,297.6 785.0,297.8 785.6,297.9 786.3,297.9 787.0,297.9 787.7,297.8 788.4,297.5 789.1,297.4 789.7,297.2 790.4,297.1 791.1,296.9 791.8,296.4 792.5,296.2 793.2,296.1 793.8,296.3 794.5,296.6 795.2,296.7 795.9,296.7 796.6,296.7 797.3,296.7 797.9,296.8 798.6,297.0 799.3,297.1 800.0,297.2 800.7,297.3 801.3,297.4 802.0,297.8 802.7,298.3 803.4,298.8 804.1,298.9 804.8,299.0 805.4,298.9 806.1,298.9 806.8,298.9 807.5,297.4 808.2,295.6 808.9,293.8 809.5,292.1 810.2,290.5 810.9,289.0 811.6,287.2 812.3,285.4 813.0,283.7 813.6,282.3 814.3,280.8 815.0,279.4 815.7,278.1 816.4,276.8 817.1,275.5 817.7,274.0 818.4,272.5 819.1,271.4 819.8,270.4 820.5,269.3 821.2,268.4 821.8,267.5 822.5,267.0 823.2,266.6 823.9,266.3 824.6,265.9 825.3,265.6 825.9,265.2 826.6,264.8 827.3,264.3 828.0,263.9 828.7,263.4 829.4,263.3 830.0,263.1 830.7,262.9 831.4,262.9 832.1,262.9 832.8,262.6 833.5,262.4 834.1,262.1 834.8,262.0 835.5,261.8 836.2,261.6 836.9,261.5 837.6,262.0 838.2,262.7 838.9,263.7 839.6,264.6 840.3,265.7 841.0,266.5 841.7,267.0 842.3,267.6 843.0,268.1 843.7,268.7 844.4,269.0 845.1,269.1 845.8,268.7 846.4,268.4 847.1,268.2 847.8,267.9 848.5,267.3 849.2,266.7 849.8,266.2 850.5,265.9 851.2,265.9 851.9,265.9 852.6,266.3 853.3,266.4 853.9,266.6 854.6,266.8 855.3,266.9 856.0,267.1 856.7,267.3 857.4,267.8 858.0,268.6 858.7,269.8 859.4,271.4 860.1,273.6 860.8,275.8 861.5,278.1 862.1,279.5 862.8,281.1 863.5,282.7 864.2,284.4 864.9,285.7 865.6,287.1 866.2,288.4 866.9,289.8 867.6,291.1 868.3,292.5 869.0,293.9 869.7,295.3 870.3,296.6 871.0,297.7 871.7,298.5 872.4,299.3 873.1,300.1 873.8,301.2 874.4,302.5 875.1,304.0 875.8,305.5 876.5,306.8 877.2,308.0 877.9,309.2 878.5,310.5 879.2,311.6 879.9,312.8 880.6,314.1 881.3,315.7 882.0,317.5 882.6,319.1 883.3,320.5 884.0,321.9 884.7,323.2 885.4,324.5 886.1,325.7 886.7,326.8 887.4,327.9 888.1,329.2 888.8,330.6 889.5,331.9 890.2,333.0 890.8,333.8 891.5,334.6 892.2,335.2 892.9,335.7 893.6,336.2 894.3,336.5 894.9,336.9 895.6,337.2 896.3,337.5 897.0,337.8 897.7,338.1 898.3,338.6 899.0,339.4 899.7,340.3 900.4,341.3 901.1,342.3 901.8,343.1 902.4,343.9 903.1,344.7 903.8,345.6 904.5,346.4 905.2,347.2 905.9,347.7 906.5,348.3 907.2,348.7 907.9,348.8 908.6,349.0 909.3,349.1 910.0,349.2 910.6,349.3 911.3,349.3 912.0,349.2 912.7,349.4 913.4,349.7 914.1,350.1 914.7,350.5 915.4,351.1 916.1,351.7 916.8,352.2 917.5,352.4 918.2,352.5 918.8,352.5 919.5,352.9 920.2,353.4 920.9,353.8 921.6,354.3 922.3,354.9 922.9,355.3 923.6,355.1 924.3,354.4 925.0,353.5 925.7,352.3 926.4,350.9 927.0,349.1 927.7,347.6 928.4,346.6 929.1,345.7 929.8,344.7 930.5,343.7 931.1,342.8 931.8,341.8 932.5,340.9 933.2,339.6 933.9,338.1 934.6,336.5 935.2,334.9 935.9,333.3 936.6,331.8 937.3,330.5 938.0,328.4 938.7,326.4 939.3,324.5 940.0,322.6 940.7,320.5 941.4,318.6 942.1,316.8 942.8,314.5 943.4,312.1" fill="none" stroke="#00ffff" stroke-width="1.25" stroke-opacity="0.6" stroke-linejoin="round"/>
<polyline points="5.5,502.7 6.2,502.4 6.9,502.2 7.6,501.6 8.3,500.4 9.0,498.9 9.6,497.1 10.3,495.3 11.0,493.5 11.7,491.6 12.4,489.9 13.1,488.4 13.7,487.0 14.4,486.1 15.1,485.1 15.8,484.3 16.5,483.5 17.2,482.6 17.8,481.9 18.5,481.4 19.2,481.2 19.9,481.5 20.6,481.5 21.2,481.3 21.9,481.1 22.6,480.9 23.3,480.3 24.0,479.7 24.7,478.4 25.3,476.3 26.0,474.0 26.7,471.9 27.4,469.7 28.1,467.9 28.8,466.6 29.4,465.6 30.1,464.4 30.8,463.1 31.5,461.4 32.2,459.6 32.9,457.5 33.5,455.2 34.2,452.4 34.9,449.1 35.6,446.6 36.3,444.5 37.0,443.0 37.6,441.6 38.3,440.1 39.0,438.3 39.7,436.3 40.4,434.6 41.1,433.1 41.7,431.7 42.4,429.7 43.1,427.3 43.8,424.3 44.5,421.0 45.2,416.9 45.8,411.9 46.5,406.3 47.2,400.3 47.9,395.5 48.6,390.7 49.3,385.1 49.9,378.4 50.6,371.1 51.3,364.0 52.0,357.0 52.7,349.2 53.4,343.5 54.0,338.5 54.7,333.9 55.4,329.7 56.1,326.3 56.8,324.2 57.5,321.7 58.1,324.0 58.8,324.5 59.5,326.8 60.2,329.7 60.9,333.4 61.6,334.2 62.2,334.4 62.9,333.9 63.6,334.7 64.3,336.7 65.0,339.2 65.7,340.4 66.3,340.7 67.0,340.3 67.7,340.0 68.4,339.6 69.1,339.9 69.7,340.1 70.4,341.0 71.1,342.2 71.8,343.3 72.5,344.0 73.2,344.7 73.8,346.1 74.5,347.8 75.2,348.9 75.9,349.4 76.6,350.1 77.3,351.3 77.9,352.8 78.6,354.9 79.3,357.3 80.0,360.5 80.7,364.0 81.4,367.5 82.0,371.1 82.7,374.7 83.4,378.1 84.1,381.2 84.8,383.8 85.5,385.5 86.1,386.7 86.8,387.8 87.5,389.1 88.2,389.9 88.9,390.2 89.6,390.4 90.2,390.7 90.9,391.0 91.6,391.1 92.3,392.3 93.0,393.4 93.7,394.7 94.3,396.3 95.0,397.7 95.7,399.0 96.4,400.6 97.1,402.4 97.8,404.1 98.4,405.8 99.1,407.9 99.8,409.9 100.5,412.1 101.2,413.1 101.9,413.4 102.5,413.7 103.2,413.6 103.9,413.5 104.6,413.3 105.3,413.1 106.0,412.6 106.6,411.1 107.3,409.5 108.0,407.9 108.7,406.2 109.4,404.5 110.1,403.2 110.7,401.1 111.4,398.4 112.1,394.7 112.8,390.5 113.5,386.4 114.2,382.5 114.8,378.9 115.5,375.3 116.2,371.3 116.9,367.3 117.6,363.8 118.2,360.6 118.9,357.8 119.6,355.3 120.3,353.4 121.0,350.8 121.7,347.8 122.3,344.8 123.0,341.9 123.7,339.0 124.4,336.6 125.1,334.7 125.8,333.2 126.4,330.9 127.1,328.9 127.8,327.0 128.5,323.9 129.2,321.2 129.9,316.5 130.5,311.7 131.2,306.8 131.9,302.0 132.6,297.5 133.3,293.2 134.0,291.6 134.6,289.8 135.3,288.9 136.0,288.6 136.7,287.7 137.4,286.5 138.1,285.9 138.7,284.7 139.4,283.4 140.1,281.5 140.8,279.9 141.5,278.9 142.2,278.9 142.8,280.2 143.5,282.5 144.2,283.1 144.9,283.9 145.6,285.2 146.3,286.3 146.9,286.9 147.6,288.3 148.3,290.1 149.0,290.8 149.7,291.5 150.4,290.6 151.0,289.8 151.7,288.4 152.4,286.8 153.1,284.6 153.8,282.6 154.5,280.8 155.1,279.0 155.8,278.2 156.5,277.2 157.2,275.9 157.9,274.7 158.6,272.7 159.2,270.5 159.9,267.6 160.6,264.7 161.3,262.1 162.0,259.3 162.7,255.5 163.3,251.8 164.0,248.7 164.7,245.8 165.4,243.0 166.1,240.2 166.7,237.3 167.4,234.9 168.1,233.1 168.8,229.5 169.5,225.5 170.2,222.3 170.8,219.2 171.5,215.0 172.2,210.7 172.9,206.4 173.6,202.7 174.3,199.4 174.9,196.0 175.6,191.9 176.3,187.4 177.0,183.4 177.7,180.1 178.4,176.7 179.0,173.5 179.7,170.6 180.4,167.8 181.1,166.6 181.8,166.0 182.5,166.3 183.1,166.8 183.8,165.8 184.5,164.7 185.2,164.3 185.9,164.4 186.6,163.7 187.2,163.0 187.9,161.0 188.6,161.6 189.3,161.1 190.0,160.3 190.7,159.3 191.3,156.9 192.0,154.9 192.7,154.3 193.4,154.2 194.1,154.6 194.8,154.7 195.4,153.9 196.1,153.2 196.8,152.0 197.5,152.5 198.2,152.9 198.9,153.6 199.5,154.8 200.2,156.8 200.9,158.6 201.6,159.3 202.3,160.9 203.0,162.2 203.6,163.6 204.3,164.8 205.0,165.7 205.7,165.6 206.4,165.5 207.1,165.5 207.7,165.9 208.4,166.4 209.1,166.8 209.8,167.1 210.5,168.6 211.2,170.5 211.8,172.3 212.5,174.2 213.2,175.2 213.9,176.2 214.6,177.1 215.2,178.3 215.9,180.6 216.6,184.1 217.3,187.9 218.0,192.3 218.7,196.4 219.3,200.3 220.0,203.4 220.7,205.7 221.4,208.0 222.1,210.2 222.8,212.2 223.4,214.3 224.1,216.9 224.8,219.7 225.5,222.6 226.2,226.0 226.9,231.4 227.5,237.5 228.2,243.4 228.9,248.7 229.6,253.8 230.3,259.0 231.0,263.8 231.6,267.8 232.3,271.4 233.0,274.3 233.7,277.0 234.4,279.3 235.1,281.7 235.7,284.3 236.4,285.4 237.1,285.8 237.8,286.1 238.5,286.3 239.2,286.6 239.8,287.1 240.5,287.5 241.2,288.4 241.9,289.6 242.6,290.9 243.3,291.6 243.9,291.3 244.6,291.5 245.3,292.7 246.0,294.5 246.7,296.3 247.4,298.7 248.0,301.1 248.7,303.2 249.4,305.5 250.1,307.6 250.8,309.4 251.5,310.4 252.1,311.1 252.8,311.4 253.5,311.5 254.2,311.4 254.9,312.3 255.6,314.1 256.2,315.9 256.9,318.1 257.6,320.3 258.3,321.6 259.0,322.5 259.7,323.3 260.3,324.6 261.0,325.8 261.7,327.5 262.4,329.0 263.1,330.1 263.7,330.8 264.4,330.8 265.1,330.2 265.8,329.7 266.5,329.3 267.2,328.5 267.8,327.9 268.5,327.1 269.2,326.0 269.9,324.8 270.6,323.8 271.3,322.3 271.9,320.1 272.6,318.3 273.3,316.6 274.0,314.9 274.7,312.6 275.4,310.0 276.0,307.3 276.7,305.2 277.4,303.3 278.1,302.6 278.8,301.9 279.5,301.2 280.1,300.7 280.8,300.9 281.5,301.3 282.2,301.5 282.9,301.1 283.6,301.0 284.2,301.1 284.9,301.1 285.6,301.0 286.3,301.0 287.0,301.4 287.7,301.8 288.3,302.2 289.0,302.4 289.7,302.7 290.4,303.4 291.1,304.6 291.8,305.7 292.4,306.6 293.1,306.9 293.8,307.5 294.5,308.9 295.2,309.9 295.9,310.5 296.5,311.2 297.2,311.4 297.9,312.5 298.6,314.3 299.3,315.9 300.0,318.5 300.6,322.0 301.3,325.8 302.0,329.8 302.7,334.2 303.4,338.1 304.1,341.8 304.7,344.8 305.4,348.4 306.1,352.2 306.8,356.0 307.5,359.4 308.2,362.7 308.8,365.8 309.5,368.9 310.2,371.7 310.9,374.7 311.6,377.8 312.2,381.2 312.9,384.8 313.6,387.5 314.3,389.8 315.0,391.7 315.7,393.7 316.3,395.9 317.0,398.3 317.7,401.0 318.4,403.5 319.1,405.7 319.8,407.6 320.4,409.8 321.1,411.9 321.8,413.9 322.5,416.5 323.2,419.7 323.9,423.2 324.5,427.8 325.2,432.1 325.9,436.2 326.6,440.5 327.3,445.0 328.0,449.8 328.6,453.7 329.3,457.4 330.0,461.0 330.7,464.5 331.4,467.7 332.1,470.4 332.7,473.2 333.4,475.8 334.1,478.4 334.8,481.0 335.5,484.0 336.2,486.8 336.8,489.5 337.5,492.1 338.2,494.6 338.9,497.1 339.6,499.1 340.3,501.0 340.9,502.7 341.6,504.0 342.3,505.4 343.0,506.9 343.7,508.8 344.4,510.8 345.0,512.4 345.7,513.7 346.4,514.6 347.1,514.8 347.8,514.2 348.5,513.2 349.1,512.6 349.8,512.1 350.5,511.5 351.2,510.9 351.9,510.4 352.6,509.5 353.2,509.3 353.9,509.2 354.6,508.2 355.3,506.8 356.0,505.6 356.7,504.4 357.3,503.5 358.0,502.5 358.7,501.8 359.4,501.0 360.1,500.5 360.7,499.3 361.4,498.2 362.1,497.2 362.8,496.0 363.5,494.5 364.2,493.0 364.8,491.3 365.5,489.2 366.2,487.2 366.9,485.6 367.6,484.1 368.3,482.8 368.9,481.8 369.6,481.8 370.3,482.0 371.0,482.1 371.7,482.2 372.4,482.4 373.0,482.2 373.7,482.0 374.4,481.8 375.1,482.5 375.8,483.4 376.5,484.4 377.1,485.3 377.8,485.8 378.5,486.1 379.2,486.4 379.9,486.8 380.6,487.1 381.2,487.3 381.9,487.4 382.6,487.7 383.3,487.5 384.0,487.0 384.7,486.4 385.3,485.9 386.0,485.2 386.7,485.0 387.4,485.3 388.1,485.8 388.8,486.5 389.4,487.4 390.1,488.4 390.8,489.8 391.5,490.8 392.2,492.2 392.9,493.8 393.5,495.0 394.2,496.1 394.9,497.2 395.6,498.1 396.3,499.1 397.0,500.1 397.6,501.0 398.3,501.9 399.0,502.7 399.7,503.6 400.4,504.4 401.1,505.1 401.7,505.7 402.4,506.2 403.1,506.8 403.8,507.5 404.5,508.2 405.2,508.8 405.8,509.4 406.5,510.2 407.2,510.9 407.9,511.6 408.6,512.1 409.2,512.7 409.9,513.1 410.6,513.5 411.3,513.8 412.0,514.1 412.7,514.7 413.3,515.1 414.0,515.5 414.7,515.7 415.4,515.9 416.1,515.5 416.8,514.6 417.4,513.8 418.1,512.9 418.8,511.9 419.5,510.9 420.2,510.1 420.9,509.4 421.5,508.4 422.2,507.5 422.9,506.5 423.6,505.6 424.3,505.1 425.0,504.6 425.6,505.3 426.3,507.1 427.0,507.9 427.7,508.7 428.4,509.7 429.1,510.6 429.7,511.5 430.4,512.5 431.1,513.5 431.8,514.4 432.5,515.3 433.2,516.5 433.8,517.7 434.5,519.0 435.2,520.1 435.9,521.0 436.6,521.8 437.3,522.4 437.9,523.1 438.6,523.7 439.3,524.4 440.0,524.9 440.7,525.0 441.4,525.1 442.0,525.3 442.7,525.4 443.4,525.5 444.1,525.7 444.8,525.9 445.5,526.2 446.1,526.3 446.8,526.3 447.5,526.3 448.2,526.3 448.9,526.4 449.6,526.3 450.2,526.3 450.9,526.6 451.6,527.3 452.3,528.0 453.0,528.6 453.7,529.2 454.3,529.6 455.0,530.0 455.7,530.3 456.4,530.6 457.1,530.8 457.7,531.0 458.4,531.3 459.1,531.6 459.8,531.8 460.5,532.0 461.2,532.3 461.8,532.6 462.5,532.8 463.2,532.7 463.9,532.7 464.6,532.7 465.3,532.6 465.9,532.6 466.6,532.6 467.3,532.4 468.0,532.2 468.7,531.8 469.4,531.2 470.0,530.2 470.7,529.0 471.4,527.7 472.1,526.4 472.8,525.1 473.5,523.8 474.1,522.4 474.8,520.9 475.5,519.3 476.2,517.9 476.9,516.7 477.6,515.5 478.2,514.7 478.9,513.8 479.6,512.8 480.3,511.8 481.0,511.1 481.7,510.4 482.3,509.7 483.0,508.8 483.7,507.8 484.4,506.8 485.1,505.8 485.8,504.9 486.4,504.0 487.1,503.4 487.8,502.9 488.5,502.6 489.2,502.3 489.9,502.0 490.5,501.8 491.2,501.6 491.9,501.6 492.6,501.0 493.3,500.1 494.0,499.4 494.6,498.7 495.3,497.9 496.0,497.1 496.7,496.4 497.4,495.7 498.1,495.2 498.7,494.9 499.4,494.6 500.1,494.3 500.8,494.0 501.5,493.7 502.2,493.2 502.8,492.7 503.5,492.4 504.2,492.4 504.9,492.4 505.6,492.5 506.2,492.5 506.9,492.6 507.6,493.0 508.3,493.6 509.0,494.2 509.7,494.4 510.3,494.2 511.0,493.7 511.7,493.0 512.4,492.3 513.1,491.3 513.8,490.2 514.4,489.3 515.1,488.6 515.8,487.8 516.5,487.1 517.2,486.5 517.9,485.9 518.5,485.3 519.2,484.7 519.9,483.9 520.6,483.3 521.3,482.6 522.0,481.7 522.6,480.8 523.3,480.0 524.0,479.1 524.7,478.2 525.4,477.2 526.1,476.3 526.7,475.5 527.4,474.8 528.1,474.1 528.8,473.4 529.5,472.6 530.2,471.9 530.8,471.1 531.5,469.9 532.2,468.5 532.9,466.8 533.6,465.1 534.3,463.4 534.9,461.9 535.6,460.4 536.3,459.8 537.0,459.4 537.7,459.3 538.4,459.1 539.0,459.0 539.7,458.9 540.4,458.8 541.1,458.6 541.8,458.5 542.5,458.2 543.1,457.9 543.8,457.7 544.5,457.7 545.2,457.8 545.9,457.7 546.6,457.5 547.2,456.7 547.9,456.4 548.6,456.2 549.3,456.2 550.0,456.2 550.7,456.3 551.3,456.6 552.0,456.8 552.7,457.0 553.4,457.0 554.1,457.1 554.8,457.2 555.4,457.2 556.1,457.4 556.8,457.4 557.5,457.5 558.2,457.6 558.8,457.8 559.5,458.0 560.2,458.1 560.9,458.3 561.6,458.2 562.3,458.0 562.9,457.6 563.6,457.3 564.3,457.0 565.0,456.7 565.7,456.5 566.4,456.2 567.0,456.0 567.7,455.9 568.4,456.1 569.1,455.9 569.8,455.9 570.5,455.8 571.1,455.9 571.8,456.4 572.5,457.1 573.2,458.0 573.9,458.9 574.6,459.8 575.2,460.6 575.9,461.1 576.6,461.5 577.3,462.0 578.0,462.1 578.7,461.9 579.3,461.5 580.0,461.1 580.7,460.7 581.4,460.4 582.1,460.1 582.8,460.0 583.4,460.0 584.1,459.9 584.8,459.5 585.5,458.9 586.2,458.4 586.9,457.9 587.5,457.3 588.2,456.7 588.9,456.5 589.6,456.5 590.3,456.4 591.0,456.4 591.6,456.4 592.3,456.2 593.0,455.8 593.7,455.1 594.4,454.3 595.1,453.9 595.7,453.6 596.4,453.2 597.1,452.8 597.8,452.7 598.5,452.5 599.2,452.4 599.8,452.2 600.5,452.2 601.2,452.1 601.9,452.0 602.6,452.0 603.3,452.0 603.9,452.1 604.6,452.1 605.3,452.2 606.0,452.2 606.7,452.2 607.3,452.2 608.0,452.5 608.7,452.8 609.4,453.0 610.1,453.3 610.8,453.6 611.4,453.8 612.1,454.0 612.8,454.1 613.5,454.2 614.2,454.2 614.9,454.3 615.5,454.4 616.2,454.5 616.9,454.7 617.6,454.9 618.3,455.8 619.0,456.8 619.6,457.7 620.3,458.8 621.0,459.7 621.7,460.7 622.4,461.7 623.1,462.6 623.7,463.5 624.4,464.2 625.1,464.7 625.8,465.1 626.5,465.4 627.2,465.8 627.8,466.4 628.5,467.1 629.2,467.9 629.9,468.5 630.6,469.1 631.3,469.7 631.9,470.3 632.6,470.8 633.3,471.3 634.0,471.8 634.7,472.5 635.4,473.4 636.0,474.2 636.7,474.9 637.4,475.3 638.1,475.6 638.8,475.9 639.5,476.1 640.1,476.4 640.8,476.8 641.5,477.2 642.2,477.7 642.9,478.1 643.6,478.5 644.2,478.9 644.9,479.2 645.6,479.6 646.3,479.9 647.0,480.0 647.7,479.9 648.3,479.9 649.0,479.6 649.7,479.4 650.4,479.4 651.1,479.5 651.8,479.6 652.4,479.7 653.1,479.8 653.8,479.9 654.5,480.1 655.2,480.3 655.8,480.8 656.5,481.4 657.2,482.0 657.9,482.6 658.6,483.0 659.3,483.5 659.9,483.9 660.6,484.3 661.3,484.5 662.0,484.4 662.7,484.4 663.4,484.1 664.0,483.5 664.7,482.6 665.4,481.8 666.1,481.1 666.8,480.4 667.5,479.6 668.1,478.8 668.8,478.0 669.5,477.4 670.2,476.7 670.9,476.1 671.6,475.4 672.2,474.7 672.9,473.8 673.6,472.8 674.3,471.9 675.0,471.1 675.7,469.2 676.3,467.5 677.0,466.1 677.7,464.7 678.4,463.5 679.1,462.6 679.8,461.7 680.4,460.9 681.1,460.2 681.8,459.5 682.5,458.6 683.2,458.0 683.9,457.5 684.5,456.6 685.2,455.6 685.9,454.5 686.6,453.5 687.3,452.6 688.0,451.8 688.6,451.0 689.3,450.2 690.0,449.2 690.7,448.3 691.4,447.2 692.1,445.8 692.7,444.2 693.4,442.8 694.1,441.4 694.8,439.7 695.5,437.8 696.2,436.1 696.8,434.9 697.5,433.8 698.2,432.9 698.9,431.7 699.6,430.8 700.3,429.9 700.9,429.0 701.6,428.2 702.3,427.5 703.0,426.7 703.7,425.8 704.3,425.1 705.0,424.2 705.7,423.3 706.4,422.5 707.1,421.7 707.8,420.5 708.4,419.2 709.1,418.2 709.8,417.4 710.5,416.7 711.2,416.0 711.9,415.1 712.5,414.3 713.2,414.2 713.9,414.0 714.6,413.7 715.3,413.6 716.0,413.4 716.6,412.6 717.3,411.8 718.0,409.9 718.7,408.0 719.4,406.5 720.1,405.0 720.7,403.7 721.4,402.5 722.1,401.2 722.8,400.1 723.5,399.2 724.2,398.4 724.8,397.6 725.5,396.9 726.2,396.9 726.9,397.2 727.6,397.4 728.3,397.7 728.9,397.9 729.6,398.0 730.3,397.9 731.0,397.8 731.7,397.7 732.4,397.8 733.0,398.0 733.7,398.0 734.4,398.0 735.1,398.1 735.8,397.8 736.5,397.4 737.1,397.2 737.8,396.7 738.5,395.8 739.2,394.6 739.9,393.1 740.6,391.5 741.2,389.9 741.9,387.9 742.6,385.7 743.3,383.3 744.0,381.1 744.7,378.8 745.3,375.9 746.0,373.2 746.7,370.7 747.4,368.5 748.1,365.9 748.8,363.1 749.4,360.4 750.1,357.9 750.8,354.7 751.5,350.9 752.2,347.5 752.8,344.3 753.5,340.8 754.2,337.0 754.9,332.7 755.6,329.0 756.3,324.7 756.9,319.9 757.6,314.9 758.3,309.6 759.0,304.4 759.7,299.2 760.4,294.6 761.0,290.1 761.7,286.4 762.4,283.5 763.1,281.9 763.8,280.4 764.5,278.8 765.1,279.2 765.8,277.8 766.5,276.8 767.2,276.4 767.9,275.4 768.6,274.2 769.2,272.5 769.9,271.4 770.6,270.4 771.3,269.4 772.0,268.3 772.7,267.4 773.3,266.4 774.0,265.5 774.7,265.7 775.4,266.1 776.1,266.1 776.8,265.6 777.4,264.8 778.1,263.6 778.8,261.8 779.5,260.7 780.2,259.8 780.9,259.8 781.5,260.5 782.2,262.3 782.9,263.8 783.6,265.0 784.3,266.5 785.0,268.3 785.6,269.5 786.3,270.7 787.0,271.7 787.7,272.6 788.4,273.0 789.1,273.7 789.7,274.3 790.4,274.9 791.1,275.3 791.8,275.3 792.5,275.8 793.2,276.3 793.8,277.5 794.5,278.9 795.2,279.7 795.9,280.4 796.6,281.0 797.3,281.7 797.9,282.4 798.6,283.3 799.3,284.0 800.0,284.8 800.7,285.5 801.3,286.1 802.0,287.4 802.7,288.9 803.4,290.2 804.1,290.8 804.8,291.2 805.4,291.4 806.1,291.6 806.8,291.9 807.5,289.3 808.2,286.0 808.9,282.8 809.5,279.9 810.2,277.2 810.9,274.6 811.6,271.7 812.3,268.7 813.0,266.1 813.6,263.9 814.3,261.7 815.0,259.7 815.7,257.8 816.4,256.1 817.1,254.3 817.7,252.1 818.4,250.0 819.1,248.7 819.8,247.6 820.5,246.5 821.2,245.5 821.8,244.6 822.5,244.6 823.2,244.7 823.9,244.9 824.6,244.9 825.3,245.1 825.9,245.2 826.6,245.1 827.3,245.0 828.0,244.8 828.7,244.8 829.4,245.2 830.0,245.5 830.7,245.9 831.4,246.6 832.1,247.0 832.8,247.2 833.5,247.3 834.1,247.4 834.8,247.7 835.5,247.9 836.2,248.1 836.9,248.4 837.6,249.8 838.2,251.8 838.9,254.1 839.6,256.4 840.3,258.8 841.0,260.6 841.7,261.9 842.3,263.2 843.0,264.5 843.7,265.7 844.4,266.4 845.1,266.8 845.8,266.0 846.4,265.6 847.1,265.2 847.8,264.8 848.5,263.7 849.2,262.7 849.8,261.8 850.5,261.4 851.2,261.6 851.9,261.8 852.6,262.7 853.3,263.2 853.9,263.7 854.6,264.2 855.3,264.3 856.0,264.9 856.7,265.4 857.4,266.4 858.0,268.1 858.7,270.6 859.4,273.6 860.1,277.9 860.8,282.1 861.5,286.4 862.1,288.9 862.8,291.6 863.5,294.5 864.2,297.2 864.9,299.4 865.6,301.6 866.2,303.5 866.9,305.7 867.6,307.8 868.3,309.8 869.0,311.9 869.7,314.0 870.3,315.9 871.0,317.2 871.7,318.2 872.4,319.0 873.1,319.7 873.8,321.1 874.4,322.9 875.1,325.1 875.8,327.2 876.5,328.9 877.2,330.5 877.9,332.1 878.5,333.6 879.2,334.9 879.9,336.3 880.6,338.0 881.3,340.3 882.0,342.9 882.6,345.0 883.3,346.8 884.0,348.5 884.7,350.1 885.4,351.6 886.1,352.9 886.7,354.0 887.4,355.1 888.1,356.6 888.8,358.3 889.5,359.8 890.2,360.8 890.8,361.4 891.5,361.9 892.2,362.0 892.9,362.0 893.6,361.8 894.3,361.5 894.9,361.3 895.6,361.0 896.3,360.5 897.0,360.2 897.7,360.1 898.3,360.1 899.0,360.8 899.7,361.8 900.4,363.0 901.1,364.0 901.8,364.9 902.4,365.5 903.1,366.2 903.8,367.2 904.5,368.0 905.2,368.8 905.9,368.9 906.5,369.2 907.2,369.1 907.9,368.6 908.6,368.1 909.3,367.6 910.0,367.1 910.6,366.6 911.3,366.0 912.0,365.0 912.7,364.8 913.4,364.8 914.1,365.0 914.7,365.3 915.4,365.9 916.1,366.5 916.8,366.8 917.5,366.7 918.2,366.2 918.8,365.8 919.5,366.0 920.2,366.4 920.9,366.9 921.6,367.3 922.3,368.0 922.9,368.2 923.6,367.3 924.3,365.5 925.0,363.3 925.7,360.5 926.4,357.3 927.0,353.5 927.7,350.5 928.4,348.3 929.1,346.4 929.8,344.5 930.5,342.5 931.1,340.8 931.8,338.9 932.5,337.2 933.2,334.8 933.9,332.0 934.6,329.0 935.2,326.2 935.9,323.4 936.6,320.7 937.3,318.6 938.0,314.9 938.7,311.5 939.3,308.4 940.0,305.2 940.7,301.7 941.4,298.7 942.1,296.0 942.8,292.2 943.4,288.4" fill="none" stroke="#ff8000" stroke-width="1.25" stroke-opacity="0.6" stroke-linejoin="round"/>
<polyline points="5.5,488.1 6.2,488.6 6.9,489.5 7.6,489.2 8.3,487.6 9.0,485.2 9.6,482.2 10.3,479.2 11.0,476.4 11.7,473.4 12.4,470.9 13.1,469.1 13.7,467.6 14.4,467.1 15.1,466.5 15.8,466.3 16.5,466.1 17.2,465.6 17.8,465.5 18.5,465.9 19.2,466.9 19.9,469.1 20.6,470.2 21.2,470.9 21.9,471.3 22.6,471.8 23.3,471.2 24.0,470.6 24.7,468.3 25.3,464.1 26.0,459.8 26.7,455.9 27.4,452.2 28.1,449.5 28.8,448.1 29.4,447.4 30.1,446.1 30.8,444.7 31.5,442.4 32.2,439.8 32.9,436.6 33.5,433.0 34.2,428.2 34.9,422.7 35.6,419.1 36.3,416.7 37.0,415.7 37.6,414.9 38.3,413.6 39.0,411.9 39.7,409.4 40.4,407.9 41.1,406.9 41.7,405.8 42.4,403.6 43.1,400.2 43.8,395.6 44.5,390.3 45.2,383.1 45.8,374.3 46.5,364.3 47.2,353.7 47.9,346.4 48.6,339.4 49.3,330.8 49.9,319.6 50.6,307.5 51.3,296.3 52.0,285.8 52.7,273.5 53.4,267.1 54.0,262.2 54.7,258.3 55.4,255.1 56.1,254.1 56.8,255.9 57.5,256.2 58.1,268.0 58.8,274.7 59.5,284.9 60.2,296.0 60.9,308.2 61.6,312.6 62.2,315.0 62.9,315.8 63.6,319.5 64.3,325.6 65.0,332.8 65.7,336.5 66.3,337.5 67.0,336.7 67.7,336.5 68.4,335.7 69.1,336.9 69.7,337.7 70.4,340.1 71.1,343.1 71.8,345.8 72.5,347.1 73.2,348.5 73.8,351.4 74.5,355.1 75.2,357.1 75.9,357.6 76.6,358.6 77.3,360.7 77.9,363.3 78.6,367.5 79.3,372.1 80.0,378.4 80.7,385.3 81.4,391.7 82.0,398.1 82.7,404.3 83.4,409.7 84.1,414.3 84.8,417.4 85.5,418.3 86.1,418.1 86.8,417.7 87.5,418.2 88.2,417.4 88.9,415.5 89.6,413.6 90.2,412.0 90.9,410.6 91.6,409.2 92.3,410.4 93.0,411.3 93.7,412.8 94.3,414.8 95.0,416.6 95.7,418.0 96.4,419.9 97.1,422.4 97.8,424.6 98.4,427.0 99.1,430.0 99.8,432.8 100.5,435.8 101.2,436.0 101.9,434.6 102.5,433.2 103.2,431.2 103.9,429.4 104.6,427.3 105.3,425.6 106.0,423.0 106.6,418.4 107.3,413.9 108.0,409.6 108.7,405.3 109.4,401.3 110.1,398.4 110.7,393.8 111.4,387.8 112.1,379.9 112.8,371.1 113.5,362.9 114.2,355.8 114.8,349.5 115.5,343.6 116.2,337.0 116.9,330.4 117.6,325.5 118.2,321.3 118.9,318.2 119.6,316.0 120.3,315.1 121.0,312.6 121.7,308.8 122.3,305.2 123.0,302.0 123.7,298.7 124.4,296.8 125.1,295.9 125.8,295.9 126.4,294.0 127.1,292.6 127.8,291.3 128.5,287.4 129.2,284.2 129.9,276.3 130.5,268.5 131.2,260.8 131.9,253.4 132.6,247.0 133.3,241.5 134.0,242.6 134.6,242.8 135.3,245.2 136.0,248.6 136.7,250.1 137.4,250.8 138.1,252.7 138.7,252.9 139.4,252.9 140.1,251.2 140.8,250.3 141.5,250.6 142.2,253.4 142.8,258.8 143.5,266.5 144.2,269.5 144.9,272.7 145.6,277.0 146.3,280.4 146.9,282.3 147.6,286.3 148.3,290.7 149.0,292.5 149.7,294.0 150.4,291.6 151.0,289.6 151.7,286.2 152.4,282.4 153.1,277.5 153.8,273.4 154.5,269.8 155.1,266.6 155.8,265.7 156.5,264.6 157.2,262.5 157.9,260.9 158.6,257.5 159.2,253.4 159.9,248.0 160.6,242.8 161.3,238.7 162.0,234.2 162.7,227.4 163.3,220.9 164.0,216.3 164.7,212.4 165.4,208.9 166.1,205.2 166.7,201.5 167.4,199.1 168.1,198.3 168.8,192.9 169.5,186.6 170.2,182.5 170.8,178.7 171.5,172.4 172.2,165.9 172.9,159.9 173.6,155.2 174.3,151.7 174.9,148.0 175.6,142.7 176.3,136.4 177.0,131.6 177.7,128.5 178.4,125.2 179.0,122.3 179.7,120.1 180.4,118.2 181.1,119.9 181.8,123.0 182.5,127.7 183.1,132.6 183.8,133.5 184.5,133.9 185.2,135.8 185.9,138.9 186.6,139.6 187.2,140.1 187.9,137.5 188.6,141.1 189.3,141.8 190.0,141.8 190.7,141.1 191.3,137.1 192.0,134.0 192.7,134.5 193.4,136.1 194.1,138.8 194.8,140.6 195.4,140.0 196.1,139.6 196.8,138.0 197.5,140.7 198.2,142.8 198.9,145.3 199.5,148.9 200.2,154.6 200.9,159.0 201.6,160.8 202.3,164.4 203.0,167.3 203.6,170.3 204.3,172.6 205.0,174.0 205.7,172.9 206.4,171.9 207.1,171.3 207.7,171.7 208.4,172.3 209.1,172.9 209.8,173.1 210.5,176.2 211.2,179.9 211.8,183.4 212.5,187.0 213.2,188.1 213.9,189.4 214.6,190.3 215.2,191.9 215.9,196.4 216.6,203.2 217.3,210.8 218.0,219.1 218.7,226.5 219.3,233.3 220.0,237.6 220.7,239.8 221.4,242.3 222.1,244.2 222.8,246.1 223.4,247.7 224.1,250.9 224.8,254.4 225.5,258.3 226.2,263.1 226.9,272.8 227.5,283.5 228.2,293.4 228.9,301.7 229.6,309.1 230.3,316.3 231.0,322.6 231.6,326.6 232.3,329.7 233.0,331.3 233.7,332.5 234.4,332.8 235.1,333.5 235.7,334.9 236.4,332.6 237.1,329.3 237.8,325.8 238.5,322.4 239.2,319.7 239.8,317.7 240.5,316.0 241.2,315.5 241.9,315.8 242.6,316.3 243.3,315.5 243.9,312.6 244.6,311.1 245.3,312.2 246.0,314.7 246.7,317.1 247.4,321.0 248.0,324.6 248.7,327.5 249.4,330.7 250.1,333.5 250.8,335.3 251.5,335.4 252.1,334.7 252.8,333.2 253.5,331.2 254.2,329.2 254.9,329.8 255.6,332.4 256.2,334.9 256.9,338.5 257.6,341.8 258.3,343.2 259.0,343.1 259.7,343.0 260.3,344.4 261.0,345.5 261.7,347.8 262.4,349.4 263.1,350.1 263.7,350.0 264.4,348.0 265.1,345.0 265.8,342.4 266.5,340.2 267.2,337.3 267.8,334.9 268.5,332.4 269.2,329.1 269.9,325.9 270.6,323.3 271.3,319.8 271.9,314.6 272.6,310.9 273.3,307.5 274.0,304.1 274.7,299.7 275.4,294.4 276.0,289.4 276.7,286.1 277.4,283.2 278.1,283.5 278.8,283.7 279.5,283.7 280.1,284.0 280.8,286.1 281.5,288.5 282.2,290.2 282.9,290.4 283.6,291.1 284.2,292.2 284.9,293.2 285.6,293.8 286.3,294.4 287.0,295.9 287.7,297.5 288.3,298.7 289.0,299.7 289.7,300.7 290.4,302.5 291.1,305.6 291.8,308.2 292.4,310.0 293.1,310.6 293.8,311.6 294.5,314.6 295.2,316.4 295.9,317.3 296.5,318.4 297.2,318.2 297.9,320.3 298.6,323.8 299.3,326.7 300.0,332.1 300.6,339.2 301.3,346.9 302.0,354.5 302.7,362.8 303.4,369.7 304.1,375.6 304.7,379.7 305.4,385.0 306.1,390.9 306.8,396.4 307.5,400.9 308.2,404.8 308.8,408.5 309.5,411.8 310.2,414.6 310.9,417.7 311.6,421.3 312.2,425.3 312.9,429.9 313.6,432.2 314.3,433.5 315.0,433.8 315.7,434.8 316.3,436.3 317.0,438.3 317.7,440.9 318.4,443.2 319.1,444.7 319.8,445.6 320.4,447.3 321.1,448.8 321.8,450.2 322.5,453.1 323.2,457.3 323.9,462.3 324.5,469.7 325.2,476.2 325.9,481.9 326.6,488.1 327.3,494.4 328.0,501.3 328.6,505.8 329.3,510.1 330.0,513.8 330.7,517.2 331.4,519.9 332.1,521.5 332.7,523.3 333.4,524.9 334.1,526.5 334.8,528.4 335.5,531.1 336.2,533.5 336.8,535.5 337.5,537.6 338.2,539.3 338.9,540.9 339.6,541.6 340.3,542.2 340.9,542.4 341.6,541.9 342.3,541.5 343.0,541.7 343.7,543.1 344.4,544.8 345.0,545.3 345.7,545.4 346.4,544.5 347.1,542.1 347.8,538.0 348.5,533.5 349.1,530.1 349.8,527.1 350.5,524.3 351.2,521.7 351.9,519.4 352.6,516.4 353.2,515.1 353.9,514.4 354.6,511.5 355.3,507.8 356.0,504.8 356.7,502.0 357.3,499.9 358.0,497.8 358.7,496.5 359.4,495.3 360.1,494.5 360.7,492.2 361.4,490.2 362.1,488.5 362.8,486.3 363.5,483.7 364.2,481.0 364.8,478.1 365.5,474.3 366.2,470.9 366.9,468.5 367.6,466.5 368.3,465.0 368.9,464.3 369.6,465.9 370.3,467.9 371.0,469.6 371.7,471.0 372.4,472.4 373.0,473.0 373.7,473.3 374.4,473.6 375.1,476.1 375.8,478.9 376.5,481.9 377.1,484.4 377.8,485.6 378.5,486.4 379.2,487.0 379.9,487.9 380.6,488.4 381.2,488.8 381.9,489.1 382.6,489.5 383.3,489.0 384.0,487.6 384.7,486.2 385.3,484.8 386.0,483.2 386.7,483.0 387.4,483.8 388.1,485.2 388.8,487.1 389.4,489.1 390.1,491.5 390.8,494.4 391.5,496.6 392.2,499.3 392.9,502.5 393.5,504.7 394.2,506.4 394.9,508.0 395.6,509.3 396.3,510.7 397.0,511.8 397.6,513.0 398.3,514.0 399.0,514.9 399.7,515.7 400.4,516.5 401.1,517.2 401.7,517.4 402.4,517.5 403.1,518.0 403.8,518.6 404.5,519.2 405.2,519.7 405.8,520.1 406.5,521.0 407.2,521.6 407.9,522.2 408.6,522.6 409.2,523.0 409.9,523.0 410.6,523.0 411.3,522.9 412.0,522.8 412.7,523.2 413.3,523.6 414.0,523.6 414.7,523.3 415.4,523.1 416.1,521.4 416.8,518.7 417.4,516.3 418.1,514.0 418.8,511.3 419.5,509.0 420.2,507.4 420.9,505.7 421.5,503.8 422.2,501.9 422.9,500.1 423.6,498.6 424.3,498.0 425.0,497.5 425.6,499.8 426.3,504.8 427.0,506.9 427.7,509.0 428.4,511.2 429.1,513.3 429.7,515.3 430.4,517.2 431.1,519.3 431.8,521.0 432.5,522.6 433.2,524.8 433.8,526.8 434.5,529.1 435.2,530.9 435.9,532.1 436.6,532.8 437.3,533.3 437.9,533.8 438.6,534.3 439.3,535.2 440.0,535.3 440.7,534.5 441.4,534.0 442.0,533.5 442.7,532.9 443.4,532.5 444.1,532.4 444.8,532.2 445.5,532.2 446.1,532.0 446.8,531.5 447.5,531.0 448.2,530.6 448.9,530.3 449.6,529.7 450.2,529.3 450.9,529.8 451.6,531.2 452.3,532.4 453.0,533.5 453.7,534.5 454.3,535.1 455.0,535.5 455.7,535.7 456.4,535.8 457.1,535.9 457.7,536.0 458.4,536.2 459.1,536.4 459.8,536.5 460.5,536.6 461.2,536.7 461.8,537.0 462.5,537.1 463.2,536.5 463.9,536.1 464.6,535.7 465.3,535.4 465.9,535.0 466.6,534.8 467.3,534.2 468.0,533.4 468.7,532.5 469.4,530.8 470.0,528.5 470.7,525.7 471.4,522.8 472.1,520.1 472.8,517.5 473.5,515.2 474.1,512.5 474.8,509.8 475.5,507.0 476.2,504.9 476.9,503.1 477.6,501.6 478.2,500.9 478.9,500.0 479.6,499.0 480.3,497.9 481.0,497.4 481.7,497.1 482.3,496.6 483.0,495.7 483.7,494.4 484.4,493.3 485.1,492.2 485.8,491.2 486.4,490.5 487.1,490.4 487.8,490.3 488.5,490.7 489.2,491.1 489.9,491.5 490.5,492.0 491.2,492.5 491.9,493.2 492.6,492.6 493.3,491.3 494.0,490.5 494.6,489.5 495.3,488.5 496.0,487.5 496.7,486.7 497.4,485.9 498.1,485.6 498.7,485.7 499.4,485.8 500.1,486.1 500.8,486.2 501.5,486.0 502.2,485.6 502.8,485.1 503.5,485.1 504.2,485.7 504.9,486.5 505.6,487.2 506.2,487.9 506.9,488.4 507.6,489.7 508.3,491.5 509.0,493.3 509.7,493.9 510.3,493.5 511.0,492.3 511.7,490.6 512.4,489.1 513.1,487.1 513.8,484.8 514.4,483.2 515.1,482.0 515.8,480.8 516.5,479.7 517.2,478.8 517.9,478.1 518.5,477.4 519.2,476.7 519.9,475.7 520.6,474.8 521.3,473.9 522.0,472.7 522.6,471.4 523.3,470.3 524.0,469.1 524.7,467.7 525.4,466.4 526.1,465.1 526.7,464.3 527.4,463.6 528.1,463.0 528.8,462.3 529.5,461.5 530.2,461.0 530.8,460.0 531.5,458.0 532.2,455.9 532.9,452.8 533.6,450.2 534.3,447.4 534.9,445.2 535.6,443.1 536.3,443.3 537.0,444.0 537.7,445.2 538.4,446.1 539.0,447.0 539.7,448.0 540.4,448.9 541.1,449.4 541.8,449.8 542.5,450.0 543.1,449.9 543.8,450.2 544.5,451.0 545.2,451.8 545.9,452.2 546.6,452.3 547.2,450.8 547.9,450.7 548.6,450.6 549.3,451.1 550.0,451.8 550.7,452.4 551.3,453.4 552.0,454.2 552.7,454.9 553.4,455.3 554.1,455.6 554.8,455.9 555.4,456.2 556.1,456.6 556.8,456.8 557.5,457.1 558.2,457.5 558.8,457.8 559.5,458.3 560.2,458.7 560.9,459.0 561.6,458.7 562.3,458.1 562.9,457.2 563.6,456.6 564.3,455.9 565.0,455.2 565.7,454.7 566.4,454.2 567.0,454.0 567.7,453.9 568.4,454.6 569.1,454.3 569.8,454.5 570.5,454.4 571.1,454.6 571.8,456.0 572.5,457.7 573.2,459.8 573.9,461.8 574.6,463.7 575.2,465.3 575.9,466.1 576.6,466.6 577.3,467.2 578.0,467.1 578.7,466.2 579.3,464.8 580.0,463.4 580.7,462.2 581.4,461.3 582.1,460.7 582.8,460.3 583.4,460.2 584.1,460.0 584.8,459.0 585.5,457.7 586.2,456.6 586.9,455.4 587.5,454.2 588.2,453.1 588.9,452.9 589.6,453.2 590.3,453.3 591.0,453.6 591.6,453.9 592.3,453.7 593.0,452.9 593.7,451.4 594.4,450.0 595.1,449.4 595.7,449.0 596.4,448.4 597.1,448.0 597.8,448.2 598.5,448.2 599.2,448.3 599.8,448.3 600.5,448.5 601.2,448.8 601.9,448.9 602.6,449.0 603.3,449.4 603.9,449.9 604.6,450.1 605.3,450.4 606.0,450.6 606.7,450.8 607.3,451.1 608.0,451.7 608.7,452.5 609.4,453.1 610.1,453.8 610.8,454.4 611.4,454.9 612.1,455.2 612.8,455.5 613.5,455.4 614.2,455.5 614.9,455.5 615.5,455.7 616.2,455.8 616.9,456.0 617.6,456.6 618.3,458.6 619.0,460.7 619.6,462.6 620.3,464.7 621.0,466.4 621.7,468.1 622.4,469.8 623.1,471.2 623.7,472.5 624.4,473.4 625.1,473.7 625.8,474.0 626.5,473.8 627.2,473.9 627.8,474.7 628.5,475.7 629.2,476.6 629.9,477.4 630.6,478.0 631.3,478.5 631.9,479.1 632.6,479.5 633.3,479.9 634.0,480.3 634.7,481.2 635.4,482.5 636.0,483.6 636.7,484.3 637.4,484.4 638.1,484.3 638.8,484.1 639.5,484.0 640.1,484.0 640.8,484.1 641.5,484.4 642.2,484.9 642.9,485.3 643.6,485.5 644.2,485.8 644.9,486.0 645.6,486.3 646.3,486.4 647.0,485.9 647.7,485.3 648.3,484.7 649.0,483.4 649.7,482.7 650.4,482.2 651.1,482.2 651.8,482.2 652.4,482.2 653.1,482.1 653.8,482.3 654.5,482.6 655.2,482.8 655.8,483.8 656.5,484.9 657.2,486.0 657.9,487.1 658.6,487.7 659.3,488.4 659.9,489.0 660.6,489.3 661.3,489.3 662.0,488.8 662.7,488.4 663.4,487.3 664.0,485.4 664.7,483.1 665.4,481.2 666.1,479.4 666.8,477.8 667.5,476.1 668.1,474.6 668.8,473.2 669.5,472.0 670.2,470.8 670.9,470.0 671.6,469.0 672.2,467.8 672.9,466.2 673.6,464.6 674.3,463.2 675.0,462.1 675.7,458.2 676.3,455.3 677.0,453.0 677.7,450.9 678.4,449.3 679.1,448.3 679.8,447.6 680.4,447.1 681.1,446.6 681.8,446.3 682.5,445.2 683.2,445.1 683.9,445.1 684.5,444.1 685.2,443.0 685.9,441.4 686.6,440.1 687.3,439.3 688.0,438.7 688.6,437.9 689.3,437.1 690.0,436.1 690.7,435.1 691.4,433.7 692.1,431.5 692.7,429.0 693.4,427.1 694.1,425.2 694.8,422.7 695.5,419.6 696.2,417.3 696.8,416.1 697.5,415.3 698.2,414.7 698.9,413.6 699.6,413.0 700.3,412.6 700.9,412.1 701.6,411.9 702.3,411.6 703.0,411.2 703.7,410.6 704.3,410.2 705.0,409.5 705.7,408.8 706.4,408.2 707.1,407.6 707.8,406.0 708.4,404.3 709.1,403.1 709.8,402.6 710.5,402.3 711.2,402.2 711.9,401.2 712.5,400.7 713.2,401.6 713.9,402.3 714.6,402.8 715.3,403.6 716.0,404.1 716.6,403.0 717.3,402.0 718.0,398.2 718.7,394.8 719.4,392.4 720.1,390.1 720.7,388.4 721.4,386.8 722.1,385.2 722.8,384.1 723.5,383.4 724.2,383.1 724.8,382.5 725.5,382.1 726.2,383.5 726.9,385.7 727.6,387.3 728.3,388.8 728.9,390.2 729.6,391.2 730.3,391.6 731.0,392.0 731.7,392.3 732.4,393.1 733.0,394.0 733.7,394.3 734.4,394.8 735.1,395.1 735.8,394.7 736.5,394.2 737.1,393.8 737.8,393.1 738.5,391.3 739.2,388.7 739.9,385.6 740.6,382.4 741.2,379.5 741.9,375.6 742.6,371.3 743.3,367.0 744.0,363.1 744.7,359.4 745.3,354.2 746.0,349.6 746.7,345.9 747.4,342.7 748.1,338.9 748.8,334.8 749.4,330.9 750.1,327.5 750.8,322.7 751.5,316.6 752.2,311.7 752.8,307.2 753.5,302.2 754.2,296.6 754.9,290.0 755.6,285.1 756.3,278.8 756.9,271.6 757.6,264.2 758.3,256.1 759.0,248.4 759.7,241.1 760.4,235.5 761.0,230.2 761.7,226.9 762.4,225.6 763.1,227.1 763.8,228.7 764.5,229.9 765.1,235.4 765.8,236.1 766.5,237.8 767.2,240.5 767.9,241.5 768.6,241.7 769.2,240.9 769.9,241.2 770.6,241.5 771.3,241.8 772.0,241.9 772.7,242.2 773.3,242.0 774.0,242.2 774.7,245.0 775.4,247.8 776.1,249.6 776.8,250.0 777.4,249.5 778.1,248.0 778.8,245.3 779.5,244.1 780.2,243.5 780.9,245.0 781.5,248.1 782.2,253.8 782.9,258.2 783.6,261.7 784.3,265.7 785.0,269.9 785.6,272.7 786.3,275.4 787.0,277.4 787.7,279.1 788.4,279.5 789.1,280.4 789.7,281.4 790.4,282.0 791.1,282.5 791.8,281.8 792.5,282.3 793.2,282.9 793.8,285.2 794.5,287.7 795.2,289.0 795.9,289.7 796.6,290.3 797.3,291.1 797.9,292.0 798.6,293.3 799.3,294.0 800.0,295.0 800.7,295.6 801.3,296.3 802.0,298.3 802.7,300.9 803.4,303.1 804.1,303.1 804.8,303.0 805.4,302.4 806.1,301.9 806.8,301.7 807.5,294.2 808.2,285.9 808.9,278.2 809.5,271.5 810.2,265.6 810.9,260.5 811.6,254.8 812.3,249.0 813.0,244.6 813.6,241.3 814.3,238.1 815.0,235.5 815.7,233.4 816.4,231.4 817.1,229.4 817.7,226.6 818.4,223.8 819.1,223.1 819.8,222.9 820.5,222.5 821.2,222.3 821.8,222.4 822.5,224.5 823.2,226.7 823.9,228.8 824.6,230.5 825.3,232.3 825.9,233.8 826.6,234.7 827.3,235.4 828.0,235.9 828.7,236.6 829.4,238.4 830.0,239.8 830.7,241.2 831.4,243.3 832.1,244.8 832.8,245.4 833.5,245.9 834.1,246.2 834.8,247.0 835.5,247.5 836.2,248.2 836.9,248.8 837.6,252.2 838.2,256.8 838.9,262.0 839.6,266.8 840.3,271.6 841.0,274.9 841.7,276.7 842.3,278.3 843.0,279.9 843.7,281.6 844.4,281.7 845.1,281.3 845.8,277.9 846.4,275.8 847.1,273.9 847.8,272.0 848.5,268.7 849.2,265.7 849.8,263.3 850.5,262.2 851.2,262.7 851.9,262.9 852.6,265.1 853.3,266.0 853.9,267.0 854.6,267.9 855.3,267.9 856.0,268.9 856.7,269.8 857.4,271.8 858.0,275.4 858.7,280.6 859.4,287.1 860.1,296.2 860.8,304.6 861.5,313.0 862.1,316.5 862.8,320.5 863.5,324.6 864.2,328.5 864.9,330.8 865.6,333.0 866.2,334.9 866.9,337.2 867.6,339.3 868.3,341.1 869.0,343.3 869.7,345.3 870.3,347.0 871.0,347.3 871.7,346.7 872.4,345.9 873.1,345.2 873.8,346.0 874.4,348.2 875.1,351.0 875.8,353.6 876.5,355.2 877.2,356.5 877.9,357.9 878.5,359.1 879.2,359.9 879.9,361.0 880.6,362.7 881.3,365.9 882.0,369.9 882.6,372.3 883.3,374.2 884.0,375.8 884.7,377.0 885.4,378.1 886.1,378.6 886.7,378.8 887.4,379.1 888.1,380.6 888.8,382.4 889.5,383.7 890.2,383.9 890.8,383.3 891.5,382.3 892.2,380.6 892.9,378.9 893.6,376.8 894.3,374.7 894.9,372.7 895.6,371.1 896.3,368.9 897.0,367.4 897.7,366.4 898.3,365.8 899.0,367.0 899.7,368.8 900.4,371.0 901.1,372.7 901.8,374.0 902.4,374.6 903.1,375.5 903.8,376.9 904.5,378.1 905.2,379.0 905.9,378.4 906.5,378.2 907.2,377.1 907.9,375.1 908.6,373.3 909.3,371.5 910.0,369.8 910.6,368.4 911.3,366.7 912.0,364.3 912.7,364.0 913.4,364.1 914.1,364.6 914.7,365.4 915.4,366.8 916.1,368.2 916.8,368.7 917.5,368.3 918.2,367.0 918.8,365.8 919.5,366.3 920.2,367.4 920.9,368.3 921.6,369.3 922.3,370.8 922.9,371.0 923.6,368.5 924.3,364.0 925.0,358.7 925.7,352.4 926.4,345.5 927.0,337.5 927.7,331.7 928.4,328.1 929.1,325.5 929.8,322.9 930.5,319.9 931.1,317.9 931.8,315.7 932.5,313.6 933.2,310.2 933.9,305.6 934.6,300.8 935.2,296.7 935.9,292.8 936.6,289.2 937.3,287.0 938.0,281.0 938.7,275.9 939.3,271.8 940.0,267.5 940.7,262.7 941.4,259.1 942.1,256.3 942.8,250.9 943.4,245.5" fill="none" stroke="#ff0000" stroke-width="1.25" stroke-opacity="0.55" stroke-linejoin="round"/>
<g shape-rendering="crispEdges"><rect x="6" y="488.3" width="1" height="13.2" fill="#f23645"/><rect x="6" y="492.9" width="1" height="4.5" fill="#f23645"/><rect x="7" y="485.3" width="1" height="14.6" fill="#089981"/><rect x="8" y="459.8" width="1" height="27.5" fill="#089981"/><rect x="8" y="461.5" width="1" height="12.2" fill="#089981"/><rect x="9" y="448.5" width="1" height="24.7" fill="#089981"/><rect x="10" y="447.9" width="1" height="10.9" fill="#089981"/><rect x="11" y="445.9" width="1" height="5.5" fill="#089981"/><rect x="11" y="445.4" width="1" height="10.1" fill="#089981"/><rect x="12" y="443.9" width="1" height="9.9" fill="#f23645"/><rect x="13" y="445.4" width="1" height="9.3" fill="#f23645"/><rect x="13" y="449.0" width="1" height="17.8" fill="#f23645"/><rect x="14" y="451.4" width="1" height="12.1" fill="#f23645"/><rect x="15" y="458.1" width="1" height="9.5" fill="#089981"/><rect x="15" y="456.1" width="1" height="9.6" fill="#f23645"/><rect x="16" y="459.5" width="1" height="8.1" fill="#089981"/><rect x="17" y="456.1" width="1" height="8.2" fill="#089981"/><rect x="17" y="460.6" width="1" height="4.5" fill="#f23645"/><rect x="18" y="456.1" width="1" height="18.5" fill="#f23645"/><rect x="19" y="466.8" width="1" height="11.0" fill="#f23645"/><rect x="19" y="474.8" width="1" height="19.9" fill="#f23645"/><rect x="20" y="479.3" width="1" height="14.1" fill="#089981"/><rect x="21" y="477.1" width="1" height="10.9" fill="#089981"/><rect x="21" y="471.9" width="1" height="8.4" fill="#089981"/><rect x="22" y="473.6" width="1" height="3.1" fill="#f23645"/><rect x="23" y="456.0" width="1" height="24.6" fill="#089981"/><rect x="23" y="456.5" width="1" height="17.3" fill="#089981"/><rect x="24" y="440.6" width="1" height="30.6" fill="#089981"/><rect x="25" y="420.3" width="1" height="31.3" fill="#089981"/><rect x="26" y="414.5" width="1" height="24.5" fill="#089981"/><rect x="26" y="412.8" width="1" height="10.4" fill="#089981"/><rect x="27" y="412.8" width="1" height="17.7" fill="#089981"/><rect x="28" y="416.4" width="1" height="16.4" fill="#f23645"/><rect x="28" y="419.7" width="1" height="20.2" fill="#f23645"/><rect x="29" y="428.1" width="1" height="14.8" fill="#f23645"/><rect x="30" y="427.7" width="1" height="15.3" fill="#089981"/><rect x="30" y="422.1" width="1" height="24.2" fill="#089981"/><rect x="31" y="413.0" width="1" height="19.5" fill="#089981"/><rect x="32" y="414.7" width="1" height="11.0" fill="#089981"/><rect x="32" y="404.5" width="1" height="13.9" fill="#089981"/><rect x="33" y="381.9" width="1" height="25.8" fill="#089981"/><rect x="34" y="374.3" width="1" height="26.6" fill="#089981"/><rect x="34" y="363.2" width="1" height="23.2" fill="#089981"/><rect x="35" y="368.5" width="1" height="19.4" fill="#f23645"/><rect x="36" y="382.9" width="1" height="17.6" fill="#f23645"/><rect x="36" y="392.3" width="1" height="44.5" fill="#f23645"/><rect x="37" y="399.4" width="1" height="10.8" fill="#f23645"/><rect x="38" y="392.4" width="1" height="19.9" fill="#089981"/><rect x="39" y="391.0" width="1" height="13.3" fill="#089981"/><rect x="39" y="354.6" width="1" height="53.0" fill="#089981"/><rect x="40" y="378.7" width="1" height="23.6" fill="#f23645"/><rect x="41" y="378.8" width="1" height="23.5" fill="#f23645"/><rect x="41" y="387.1" width="1" height="29.1" fill="#089981"/><rect x="42" y="376.2" width="1" height="23.6" fill="#089981"/><rect x="43" y="368.0" width="1" height="15.7" fill="#089981"/><rect x="43" y="347.9" width="1" height="26.6" fill="#089981"/><rect x="44" y="338.6" width="1" height="19.7" fill="#089981"/><rect x="45" y="309.1" width="1" height="35.5" fill="#089981"/><rect x="45" y="272.8" width="1" height="55.3" fill="#089981"/><rect x="46" y="264.6" width="1" height="32.0" fill="#089981"/><rect x="47" y="250.0" width="1" height="50.2" fill="#089981"/><rect x="47" y="249.4" width="1" height="30.9" fill="#f23645"/><rect x="48" y="264.0" width="1" height="22.7" fill="#089981"/><rect x="49" y="245.7" width="1" height="32.5" fill="#089981"/><rect x="49" y="206.8" width="1" height="57.7" fill="#089981"/><rect x="50" y="178.8" width="1" height="48.1" fill="#089981"/><rect x="51" y="180.8" width="1" height="16.5" fill="#089981"/><rect x="51" y="154.3" width="1" height="49.6" fill="#089981"/><rect x="52" y="156.8" width="1" height="41.7" fill="#089981"/><rect x="53" y="132.2" width="1" height="84.5" fill="#f23645"/><rect x="54" y="194.9" width="1" height="25.8" fill="#f23645"/><rect x="54" y="205.4" width="1" height="21.0" fill="#f23645"/><rect x="55" y="213.7" width="1" height="24.2" fill="#f23645"/><rect x="56" y="217.1" width="1" height="33.3" fill="#f23645"/><rect x="56" y="243.0" width="1" height="29.8" fill="#f23645"/><rect x="57" y="250.0" width="1" height="29.4" fill="#089981"/><rect x="58" y="256.7" width="1" height="193.0" fill="#f23645"/><rect x="58" y="330.1" width="1" height="58.4" fill="#089981"/><rect x="59" y="336.1" width="1" height="48.8" fill="#f23645"/><rect x="60" y="379.1" width="1" height="25.9" fill="#f23645"/><rect x="60" y="401.0" width="1" height="70.5" fill="#f23645"/><rect x="61" y="350.8" width="1" height="79.1" fill="#089981"/><rect x="62" y="325.3" width="1" height="32.5" fill="#089981"/><rect x="62" y="315.7" width="1" height="27.3" fill="#089981"/><rect x="63" y="317.1" width="1" height="41.7" fill="#f23645"/><rect x="64" y="353.4" width="1" height="37.3" fill="#f23645"/><rect x="64" y="380.9" width="1" height="26.4" fill="#f23645"/><rect x="65" y="370.2" width="1" height="37.1" fill="#089981"/><rect x="66" y="343.2" width="1" height="54.2" fill="#089981"/><rect x="67" y="321.7" width="1" height="27.6" fill="#089981"/><rect x="67" y="319.6" width="1" height="18.6" fill="#f23645"/><rect x="68" y="326.7" width="1" height="9.0" fill="#089981"/><rect x="69" y="319.6" width="1" height="30.7" fill="#f23645"/><rect x="69" y="344.5" width="1" height="12.6" fill="#089981"/><rect x="70" y="340.6" width="1" height="22.8" fill="#f23645"/><rect x="71" y="362.8" width="1" height="12.1" fill="#f23645"/><rect x="71" y="366.4" width="1" height="31.9" fill="#f23645"/><rect x="72" y="352.4" width="1" height="22.9" fill="#089981"/><rect x="73" y="354.3" width="1" height="9.4" fill="#f23645"/><rect x="73" y="354.1" width="1" height="28.4" fill="#f23645"/><rect x="74" y="376.4" width="1" height="17.1" fill="#f23645"/><rect x="75" y="375.3" width="1" height="20.7" fill="#089981"/><rect x="75" y="361.2" width="1" height="17.5" fill="#089981"/><rect x="76" y="361.1" width="1" height="12.9" fill="#f23645"/><rect x="77" y="360.3" width="1" height="21.5" fill="#f23645"/><rect x="77" y="375.6" width="1" height="18.7" fill="#f23645"/><rect x="78" y="385.7" width="1" height="29.9" fill="#f23645"/><rect x="79" y="401.0" width="1" height="29.5" fill="#f23645"/><rect x="79" y="406.8" width="1" height="38.2" fill="#f23645"/><rect x="80" y="429.1" width="1" height="25.7" fill="#f23645"/><rect x="81" y="445.6" width="1" height="29.7" fill="#f23645"/><rect x="82" y="447.6" width="1" height="14.3" fill="#f23645"/><rect x="82" y="447.6" width="1" height="18.8" fill="#f23645"/><rect x="83" y="452.8" width="1" height="13.0" fill="#089981"/><rect x="84" y="457.9" width="1" height="14.9" fill="#089981"/><rect x="84" y="445.8" width="1" height="18.1" fill="#089981"/><rect x="85" y="426.0" width="1" height="25.3" fill="#089981"/><rect x="86" y="415.6" width="1" height="16.8" fill="#089981"/><rect x="86" y="410.2" width="1" height="18.5" fill="#089981"/><rect x="87" y="412.5" width="1" height="16.1" fill="#f23645"/><rect x="88" y="401.2" width="1" height="27.4" fill="#089981"/><rect x="88" y="392.6" width="1" height="21.9" fill="#089981"/><rect x="89" y="395.6" width="1" height="16.7" fill="#089981"/><rect x="90" y="394.2" width="1" height="8.0" fill="#f23645"/><rect x="90" y="389.2" width="1" height="10.1" fill="#f23645"/><rect x="91" y="389.2" width="1" height="19.1" fill="#089981"/><rect x="92" y="389.2" width="1" height="37.0" fill="#f23645"/><rect x="92" y="415.4" width="1" height="13.4" fill="#089981"/><rect x="93" y="416.5" width="1" height="22.2" fill="#f23645"/><rect x="94" y="418.8" width="1" height="19.9" fill="#f23645"/><rect x="95" y="430.0" width="1" height="7.8" fill="#089981"/><rect x="95" y="427.2" width="1" height="16.5" fill="#089981"/><rect x="96" y="430.9" width="1" height="8.7" fill="#f23645"/><rect x="97" y="432.5" width="1" height="22.6" fill="#f23645"/><rect x="97" y="432.5" width="1" height="14.7" fill="#089981"/><rect x="98" y="439.0" width="1" height="19.5" fill="#f23645"/><rect x="99" y="446.4" width="1" height="14.2" fill="#f23645"/><rect x="99" y="457.2" width="1" height="5.3" fill="#f23645"/><rect x="100" y="452.4" width="1" height="20.4" fill="#f23645"/><rect x="101" y="435.1" width="1" height="33.8" fill="#089981"/><rect x="101" y="419.7" width="1" height="18.6" fill="#089981"/><rect x="102" y="418.4" width="1" height="16.6" fill="#089981"/><rect x="103" y="411.6" width="1" height="10.1" fill="#089981"/><rect x="103" y="406.3" width="1" height="6.3" fill="#089981"/><rect x="104" y="381.6" width="1" height="31.9" fill="#089981"/><rect x="105" y="391.8" width="1" height="20.4" fill="#f23645"/><rect x="105" y="391.5" width="1" height="22.1" fill="#089981"/><rect x="106" y="375.0" width="1" height="29.7" fill="#089981"/><rect x="107" y="364.6" width="1" height="17.5" fill="#089981"/><rect x="108" y="362.9" width="1" height="20.2" fill="#089981"/><rect x="108" y="346.9" width="1" height="31.5" fill="#089981"/><rect x="109" y="358.3" width="1" height="6.6" fill="#089981"/><rect x="110" y="356.4" width="1" height="22.0" fill="#f23645"/><rect x="110" y="349.0" width="1" height="26.6" fill="#089981"/><rect x="111" y="324.5" width="1" height="51.3" fill="#089981"/><rect x="112" y="292.2" width="1" height="46.0" fill="#089981"/><rect x="112" y="286.8" width="1" height="25.2" fill="#089981"/><rect x="113" y="284.8" width="1" height="7.3" fill="#089981"/><rect x="114" y="278.9" width="1" height="12.5" fill="#f23645"/><rect x="114" y="278.9" width="1" height="17.9" fill="#f23645"/><rect x="115" y="286.8" width="1" height="4.2" fill="#089981"/><rect x="116" y="267.8" width="1" height="29.0" fill="#089981"/><rect x="116" y="257.9" width="1" height="20.3" fill="#089981"/><rect x="117" y="257.9" width="1" height="40.1" fill="#f23645"/><rect x="118" y="267.0" width="1" height="27.1" fill="#f23645"/><rect x="118" y="273.4" width="1" height="21.5" fill="#f23645"/><rect x="119" y="280.2" width="1" height="28.5" fill="#f23645"/><rect x="120" y="286.4" width="1" height="27.5" fill="#f23645"/><rect x="120" y="283.2" width="1" height="27.3" fill="#089981"/><rect x="121" y="271.2" width="1" height="17.2" fill="#089981"/><rect x="122" y="257.9" width="1" height="23.8" fill="#089981"/><rect x="123" y="270.6" width="1" height="11.0" fill="#f23645"/><rect x="123" y="261.0" width="1" height="17.2" fill="#089981"/><rect x="124" y="265.5" width="1" height="18.5" fill="#f23645"/><rect x="125" y="267.8" width="1" height="35.9" fill="#f23645"/><rect x="125" y="284.5" width="1" height="13.0" fill="#f23645"/><rect x="126" y="272.6" width="1" height="31.7" fill="#089981"/><rect x="127" y="269.7" width="1" height="21.6" fill="#f23645"/><rect x="127" y="266.6" width="1" height="37.7" fill="#089981"/><rect x="128" y="243.5" width="1" height="35.5" fill="#089981"/><rect x="129" y="241.5" width="1" height="23.2" fill="#f23645"/><rect x="129" y="179.6" width="1" height="83.3" fill="#089981"/><rect x="130" y="192.8" width="1" height="19.8" fill="#089981"/><rect x="131" y="176.5" width="1" height="31.8" fill="#089981"/><rect x="131" y="179.7" width="1" height="19.1" fill="#089981"/><rect x="132" y="179.6" width="1" height="9.9" fill="#f23645"/><rect x="133" y="181.0" width="1" height="19.0" fill="#f23645"/><rect x="133" y="178.5" width="1" height="129.9" fill="#f23645"/><rect x="134" y="241.3" width="1" height="28.6" fill="#089981"/><rect x="135" y="241.8" width="1" height="48.7" fill="#f23645"/><rect x="136" y="250.5" width="1" height="33.9" fill="#f23645"/><rect x="136" y="250.7" width="1" height="32.5" fill="#089981"/><rect x="137" y="255.8" width="1" height="14.8" fill="#089981"/><rect x="138" y="244.2" width="1" height="33.2" fill="#f23645"/><rect x="138" y="240.4" width="1" height="33.0" fill="#089981"/><rect x="139" y="248.6" width="1" height="14.6" fill="#089981"/><rect x="140" y="225.1" width="1" height="47.7" fill="#089981"/><rect x="140" y="225.1" width="1" height="21.2" fill="#f23645"/><rect x="141" y="229.9" width="1" height="46.0" fill="#f23645"/><rect x="142" y="250.9" width="1" height="31.6" fill="#f23645"/><rect x="142" y="265.4" width="1" height="59.0" fill="#f23645"/><rect x="143" y="308.9" width="1" height="44.4" fill="#f23645"/><rect x="144" y="293.4" width="1" height="52.6" fill="#089981"/><rect x="144" y="290.1" width="1" height="19.3" fill="#f23645"/><rect x="145" y="299.1" width="1" height="26.5" fill="#f23645"/><rect x="146" y="308.7" width="1" height="9.9" fill="#089981"/><rect x="146" y="292.0" width="1" height="43.5" fill="#089981"/><rect x="147" y="296.9" width="1" height="37.5" fill="#f23645"/><rect x="148" y="306.3" width="1" height="28.9" fill="#f23645"/><rect x="148" y="309.4" width="1" height="29.4" fill="#089981"/><rect x="149" y="304.1" width="1" height="14.8" fill="#089981"/><rect x="150" y="260.0" width="1" height="49.5" fill="#089981"/><rect x="151" y="261.3" width="1" height="16.7" fill="#f23645"/><rect x="151" y="252.8" width="1" height="19.1" fill="#089981"/><rect x="152" y="241.3" width="1" height="22.8" fill="#089981"/><rect x="153" y="223.8" width="1" height="25.2" fill="#089981"/><rect x="153" y="229.3" width="1" height="14.6" fill="#f23645"/><rect x="154" y="229.7" width="1" height="13.9" fill="#f23645"/><rect x="155" y="232.4" width="1" height="8.8" fill="#f23645"/><rect x="155" y="226.4" width="1" height="37.7" fill="#f23645"/><rect x="156" y="250.6" width="1" height="13.5" fill="#089981"/><rect x="157" y="238.0" width="1" height="26.1" fill="#089981"/><rect x="157" y="239.9" width="1" height="8.2" fill="#f23645"/><rect x="158" y="213.8" width="1" height="36.0" fill="#089981"/><rect x="159" y="212.0" width="1" height="24.0" fill="#089981"/><rect x="159" y="185.7" width="1" height="39.7" fill="#089981"/><rect x="160" y="188.6" width="1" height="20.0" fill="#089981"/><rect x="161" y="179.9" width="1" height="30.2" fill="#f23645"/><rect x="161" y="183.7" width="1" height="19.6" fill="#089981"/><rect x="162" y="147.6" width="1" height="48.2" fill="#089981"/><rect x="163" y="147.6" width="1" height="30.7" fill="#089981"/><rect x="164" y="131.8" width="1" height="45.3" fill="#f23645"/><rect x="164" y="171.7" width="1" height="12.0" fill="#f23645"/><rect x="165" y="159.2" width="1" height="19.2" fill="#089981"/><rect x="166" y="158.1" width="1" height="31.6" fill="#089981"/><rect x="166" y="158.1" width="1" height="14.6" fill="#089981"/><rect x="167" y="158.1" width="1" height="22.3" fill="#f23645"/><rect x="168" y="169.0" width="1" height="32.2" fill="#f23645"/><rect x="168" y="114.8" width="1" height="80.7" fill="#089981"/><rect x="169" y="114.8" width="1" height="33.4" fill="#089981"/><rect x="170" y="114.8" width="1" height="30.4" fill="#f23645"/><rect x="170" y="130.8" width="1" height="24.1" fill="#089981"/><rect x="171" y="109.1" width="1" height="36.2" fill="#089981"/><rect x="172" y="95.4" width="1" height="36.1" fill="#089981"/><rect x="172" y="99.5" width="1" height="31.4" fill="#089981"/><rect x="173" y="94.5" width="1" height="23.5" fill="#f23645"/><rect x="174" y="84.5" width="1" height="46.4" fill="#f23645"/><rect x="174" y="107.8" width="1" height="14.6" fill="#089981"/><rect x="175" y="92.0" width="1" height="39.0" fill="#089981"/><rect x="176" y="72.2" width="1" height="28.9" fill="#089981"/><rect x="176" y="72.2" width="1" height="32.6" fill="#f23645"/><rect x="177" y="68.5" width="1" height="39.0" fill="#f23645"/><rect x="178" y="80.7" width="1" height="29.1" fill="#089981"/><rect x="179" y="80.7" width="1" height="14.2" fill="#089981"/><rect x="179" y="87.5" width="1" height="18.6" fill="#f23645"/><rect x="180" y="89.6" width="1" height="27.8" fill="#f23645"/><rect x="181" y="87.3" width="1" height="50.0" fill="#f23645"/><rect x="181" y="133.7" width="1" height="30.7" fill="#f23645"/><rect x="182" y="148.7" width="1" height="33.3" fill="#f23645"/><rect x="183" y="160.5" width="1" height="30.7" fill="#f23645"/><rect x="183" y="129.3" width="1" height="51.8" fill="#089981"/><rect x="184" y="129.3" width="1" height="16.3" fill="#089981"/><rect x="185" y="129.3" width="1" height="44.6" fill="#f23645"/><rect x="185" y="147.1" width="1" height="30.0" fill="#f23645"/><rect x="186" y="144.4" width="1" height="28.7" fill="#089981"/><rect x="187" y="131.1" width="1" height="18.1" fill="#089981"/><rect x="187" y="100.4" width="1" height="49.0" fill="#089981"/><rect x="188" y="101.4" width="1" height="80.3" fill="#f23645"/><rect x="189" y="145.4" width="1" height="38.9" fill="#089981"/><rect x="189" y="124.5" width="1" height="33.5" fill="#089981"/><rect x="190" y="121.7" width="1" height="23.9" fill="#089981"/><rect x="191" y="85.9" width="1" height="51.9" fill="#089981"/><rect x="192" y="79.8" width="1" height="31.4" fill="#f23645"/><rect x="192" y="101.4" width="1" height="62.2" fill="#f23645"/><rect x="193" y="132.7" width="1" height="41.6" fill="#f23645"/><rect x="194" y="145.4" width="1" height="98.8" fill="#f23645"/><rect x="194" y="123.9" width="1" height="50.3" fill="#089981"/><rect x="195" y="110.9" width="1" height="56.9" fill="#089981"/><rect x="196" y="119.7" width="1" height="21.4" fill="#f23645"/><rect x="196" y="120.2" width="1" height="18.9" fill="#089981"/><rect x="197" y="119.8" width="1" height="50.3" fill="#f23645"/><rect x="198" y="154.8" width="1" height="16.3" fill="#089981"/><rect x="198" y="154.2" width="1" height="24.1" fill="#f23645"/><rect x="199" y="164.5" width="1" height="34.5" fill="#f23645"/><rect x="200" y="174.2" width="1" height="44.7" fill="#f23645"/><rect x="200" y="198.6" width="1" height="18.5" fill="#089981"/><rect x="201" y="173.2" width="1" height="34.8" fill="#089981"/><rect x="202" y="169.3" width="1" height="33.9" fill="#f23645"/><rect x="202" y="190.4" width="1" height="11.9" fill="#089981"/><rect x="203" y="188.2" width="1" height="18.1" fill="#f23645"/><rect x="204" y="176.8" width="1" height="29.5" fill="#089981"/><rect x="205" y="186.2" width="1" height="20.1" fill="#089981"/><rect x="205" y="159.0" width="1" height="36.4" fill="#089981"/><rect x="206" y="154.2" width="1" height="16.0" fill="#089981"/><rect x="207" y="154.2" width="1" height="18.8" fill="#f23645"/><rect x="207" y="163.0" width="1" height="22.1" fill="#f23645"/><rect x="208" y="164.3" width="1" height="20.0" fill="#f23645"/><rect x="209" y="170.6" width="1" height="10.7" fill="#089981"/><rect x="209" y="164.1" width="1" height="20.8" fill="#089981"/><rect x="210" y="170.6" width="1" height="41.5" fill="#f23645"/><rect x="211" y="194.9" width="1" height="32.8" fill="#f23645"/><rect x="211" y="212.7" width="1" height="6.6" fill="#f23645"/><rect x="212" y="203.6" width="1" height="27.8" fill="#f23645"/><rect x="213" y="195.8" width="1" height="35.6" fill="#089981"/><rect x="213" y="191.0" width="1" height="18.8" fill="#f23645"/><rect x="214" y="196.8" width="1" height="18.6" fill="#089981"/><rect x="215" y="196.0" width="1" height="16.6" fill="#f23645"/><rect x="215" y="204.0" width="1" height="40.4" fill="#f23645"/><rect x="216" y="229.5" width="1" height="55.6" fill="#f23645"/><rect x="217" y="255.6" width="1" height="32.0" fill="#f23645"/><rect x="217" y="280.3" width="1" height="26.2" fill="#f23645"/><rect x="218" y="296.9" width="1" height="9.5" fill="#089981"/><rect x="219" y="292.8" width="1" height="24.6" fill="#f23645"/><rect x="220" y="256.6" width="1" height="43.6" fill="#089981"/><rect x="220" y="251.8" width="1" height="34.7" fill="#089981"/><rect x="221" y="255.6" width="1" height="13.8" fill="#f23645"/><rect x="222" y="259.4" width="1" height="13.0" fill="#089981"/><rect x="222" y="258.0" width="1" height="11.8" fill="#f23645"/><rect x="223" y="260.6" width="1" height="4.2" fill="#f23645"/><rect x="224" y="254.4" width="1" height="42.0" fill="#f23645"/><rect x="224" y="266.7" width="1" height="42.4" fill="#f23645"/><rect x="225" y="286.0" width="1" height="12.1" fill="#f23645"/><rect x="226" y="289.8" width="1" height="28.2" fill="#f23645"/><rect x="226" y="308.1" width="1" height="71.0" fill="#f23645"/><rect x="227" y="358.7" width="1" height="33.2" fill="#f23645"/><rect x="228" y="384.5" width="1" height="5.8" fill="#f23645"/><rect x="228" y="376.9" width="1" height="39.4" fill="#089981"/><rect x="229" y="373.7" width="1" height="11.2" fill="#089981"/><rect x="230" y="373.7" width="1" height="15.7" fill="#f23645"/><rect x="230" y="373.3" width="1" height="13.6" fill="#089981"/><rect x="231" y="354.1" width="1" height="35.3" fill="#089981"/><rect x="232" y="352.0" width="1" height="20.9" fill="#089981"/><rect x="233" y="341.2" width="1" height="25.6" fill="#089981"/><rect x="233" y="340.4" width="1" height="10.8" fill="#089981"/><rect x="234" y="327.8" width="1" height="35.0" fill="#089981"/><rect x="235" y="327.8" width="1" height="27.6" fill="#f23645"/><rect x="235" y="333.2" width="1" height="22.3" fill="#f23645"/><rect x="236" y="308.3" width="1" height="43.5" fill="#089981"/><rect x="237" y="293.8" width="1" height="20.7" fill="#089981"/><rect x="237" y="281.9" width="1" height="16.0" fill="#089981"/><rect x="238" y="281.9" width="1" height="18.6" fill="#089981"/><rect x="239" y="283.7" width="1" height="21.0" fill="#f23645"/><rect x="239" y="283.7" width="1" height="16.0" fill="#f23645"/><rect x="240" y="272.4" width="1" height="36.9" fill="#f23645"/><rect x="241" y="297.9" width="1" height="17.8" fill="#f23645"/><rect x="241" y="309.4" width="1" height="17.2" fill="#f23645"/><rect x="242" y="298.1" width="1" height="23.2" fill="#f23645"/><rect x="243" y="284.4" width="1" height="38.9" fill="#089981"/><rect x="243" y="276.7" width="1" height="33.2" fill="#089981"/><rect x="244" y="276.7" width="1" height="26.7" fill="#f23645"/><rect x="245" y="294.5" width="1" height="44.1" fill="#f23645"/><rect x="245" y="318.4" width="1" height="26.2" fill="#f23645"/><rect x="246" y="329.5" width="1" height="12.6" fill="#f23645"/><rect x="247" y="333.0" width="1" height="25.0" fill="#f23645"/><rect x="248" y="354.3" width="1" height="7.3" fill="#f23645"/><rect x="248" y="348.9" width="1" height="13.5" fill="#089981"/><rect x="249" y="347.5" width="1" height="19.3" fill="#f23645"/><rect x="250" y="359.0" width="1" height="39.3" fill="#089981"/><rect x="250" y="351.7" width="1" height="15.1" fill="#089981"/><rect x="251" y="333.9" width="1" height="18.4" fill="#089981"/><rect x="252" y="317.7" width="1" height="26.4" fill="#089981"/><rect x="252" y="315.1" width="1" height="21.7" fill="#089981"/><rect x="253" y="308.1" width="1" height="20.9" fill="#089981"/><rect x="254" y="309.2" width="1" height="3.8" fill="#089981"/><rect x="254" y="304.2" width="1" height="34.3" fill="#f23645"/><rect x="255" y="331.8" width="1" height="27.5" fill="#f23645"/><rect x="256" y="356.7" width="1" height="16.4" fill="#f23645"/><rect x="256" y="356.8" width="1" height="19.9" fill="#f23645"/><rect x="257" y="369.7" width="1" height="8.0" fill="#f23645"/><rect x="258" y="353.5" width="1" height="26.3" fill="#089981"/><rect x="258" y="335.7" width="1" height="41.8" fill="#089981"/><rect x="259" y="335.7" width="1" height="7.6" fill="#089981"/><rect x="260" y="335.7" width="1" height="23.3" fill="#f23645"/><rect x="261" y="351.5" width="1" height="25.3" fill="#089981"/><rect x="261" y="354.9" width="1" height="21.9" fill="#f23645"/><rect x="262" y="360.4" width="1" height="16.4" fill="#089981"/><rect x="263" y="348.4" width="1" height="28.4" fill="#089981"/><rect x="263" y="336.6" width="1" height="27.6" fill="#089981"/><rect x="264" y="326.2" width="1" height="27.1" fill="#089981"/><rect x="265" y="304.2" width="1" height="28.4" fill="#089981"/><rect x="265" y="315.9" width="1" height="7.8" fill="#f23645"/><rect x="266" y="307.5" width="1" height="16.5" fill="#089981"/><rect x="267" y="304.2" width="1" height="19.8" fill="#089981"/><rect x="267" y="300.9" width="1" height="23.1" fill="#f23645"/><rect x="268" y="300.0" width="1" height="18.1" fill="#089981"/><rect x="269" y="289.7" width="1" height="30.6" fill="#089981"/><rect x="269" y="289.5" width="1" height="14.9" fill="#089981"/><rect x="270" y="283.1" width="1" height="18.0" fill="#f23645"/><rect x="271" y="281.3" width="1" height="18.5" fill="#089981"/><rect x="271" y="257.0" width="1" height="33.2" fill="#089981"/><rect x="272" y="265.7" width="1" height="15.5" fill="#f23645"/><rect x="273" y="274.3" width="1" height="7.0" fill="#089981"/><rect x="273" y="264.6" width="1" height="12.6" fill="#089981"/><rect x="274" y="236.6" width="1" height="36.9" fill="#089981"/><rect x="275" y="237.3" width="1" height="37.0" fill="#089981"/><rect x="276" y="233.9" width="1" height="23.8" fill="#089981"/><rect x="276" y="236.9" width="1" height="28.1" fill="#f23645"/><rect x="277" y="236.6" width="1" height="26.8" fill="#f23645"/><rect x="278" y="251.9" width="1" height="37.2" fill="#f23645"/><rect x="278" y="275.4" width="1" height="19.7" fill="#089981"/><rect x="279" y="276.3" width="1" height="21.5" fill="#089981"/><rect x="280" y="275.4" width="1" height="27.4" fill="#f23645"/><rect x="280" y="275.4" width="1" height="31.4" fill="#f23645"/><rect x="281" y="301.6" width="1" height="9.8" fill="#f23645"/><rect x="282" y="302.0" width="1" height="17.0" fill="#089981"/><rect x="282" y="284.6" width="1" height="28.6" fill="#089981"/><rect x="283" y="289.3" width="1" height="14.2" fill="#f23645"/><rect x="284" y="285.3" width="1" height="26.1" fill="#f23645"/><rect x="284" y="296.4" width="1" height="12.7" fill="#089981"/><rect x="285" y="292.4" width="1" height="14.5" fill="#089981"/><rect x="286" y="295.5" width="1" height="28.3" fill="#f23645"/><rect x="286" y="292.4" width="1" height="26.6" fill="#f23645"/><rect x="287" y="298.8" width="1" height="20.2" fill="#f23645"/><rect x="288" y="285.3" width="1" height="31.9" fill="#089981"/><rect x="289" y="305.3" width="1" height="13.0" fill="#089981"/><rect x="289" y="302.9" width="1" height="10.5" fill="#f23645"/><rect x="290" y="307.6" width="1" height="31.5" fill="#f23645"/><rect x="291" y="310.8" width="1" height="29.6" fill="#f23645"/><rect x="291" y="324.0" width="1" height="16.4" fill="#089981"/><rect x="292" y="316.5" width="1" height="19.4" fill="#089981"/><rect x="293" y="309.7" width="1" height="18.2" fill="#089981"/><rect x="293" y="313.3" width="1" height="13.6" fill="#f23645"/><rect x="294" y="321.6" width="1" height="21.5" fill="#f23645"/><rect x="295" y="322.5" width="1" height="28.0" fill="#089981"/><rect x="295" y="309.5" width="1" height="28.2" fill="#089981"/><rect x="296" y="326.3" width="1" height="7.8" fill="#f23645"/><rect x="297" y="308.2" width="1" height="28.0" fill="#089981"/><rect x="297" y="308.9" width="1" height="40.1" fill="#f23645"/><rect x="298" y="333.1" width="1" height="28.7" fill="#f23645"/><rect x="299" y="344.3" width="1" height="20.7" fill="#089981"/><rect x="299" y="347.5" width="1" height="40.8" fill="#f23645"/><rect x="300" y="365.2" width="1" height="48.5" fill="#f23645"/><rect x="301" y="401.3" width="1" height="26.6" fill="#f23645"/><rect x="302" y="415.2" width="1" height="16.3" fill="#f23645"/><rect x="302" y="420.9" width="1" height="54.4" fill="#f23645"/><rect x="303" y="428.9" width="1" height="17.4" fill="#089981"/><rect x="304" y="418.4" width="1" height="22.5" fill="#089981"/><rect x="304" y="413.1" width="1" height="22.5" fill="#089981"/><rect x="305" y="415.3" width="1" height="28.2" fill="#f23645"/><rect x="306" y="425.4" width="1" height="25.4" fill="#f23645"/><rect x="306" y="439.3" width="1" height="14.2" fill="#f23645"/><rect x="307" y="443.4" width="1" height="6.7" fill="#089981"/><rect x="308" y="440.3" width="1" height="6.3" fill="#089981"/><rect x="308" y="435.4" width="1" height="11.9" fill="#f23645"/><rect x="309" y="438.2" width="1" height="9.1" fill="#089981"/><rect x="310" y="438.9" width="1" height="5.6" fill="#089981"/><rect x="310" y="435.4" width="1" height="18.2" fill="#f23645"/><rect x="311" y="443.7" width="1" height="16.0" fill="#f23645"/><rect x="312" y="455.4" width="1" height="13.4" fill="#f23645"/><rect x="312" y="458.0" width="1" height="16.5" fill="#f23645"/><rect x="313" y="445.8" width="1" height="28.2" fill="#089981"/><rect x="314" y="442.2" width="1" height="21.8" fill="#089981"/><rect x="314" y="431.4" width="1" height="25.9" fill="#089981"/><rect x="315" y="434.3" width="1" height="19.9" fill="#f23645"/><rect x="316" y="443.9" width="1" height="9.8" fill="#f23645"/><rect x="317" y="439.6" width="1" height="22.8" fill="#f23645"/><rect x="317" y="455.7" width="1" height="14.8" fill="#f23645"/><rect x="318" y="460.2" width="1" height="10.3" fill="#089981"/><rect x="319" y="456.5" width="1" height="10.8" fill="#089981"/><rect x="319" y="454.5" width="1" height="8.4" fill="#089981"/><rect x="320" y="454.0" width="1" height="11.1" fill="#f23645"/><rect x="321" y="461.1" width="1" height="7.5" fill="#089981"/><rect x="321" y="449.8" width="1" height="17.2" fill="#f23645"/><rect x="322" y="461.9" width="1" height="23.0" fill="#f23645"/><rect x="323" y="477.3" width="1" height="21.1" fill="#f23645"/><rect x="323" y="495.0" width="1" height="19.7" fill="#f23645"/><rect x="324" y="507.6" width="1" height="34.0" fill="#f23645"/><rect x="325" y="535.1" width="1" height="6.9" fill="#089981"/><rect x="325" y="532.5" width="1" height="31.4" fill="#089981"/><rect x="326" y="533.3" width="1" height="22.0" fill="#f23645"/><rect x="327" y="540.6" width="1" height="15.9" fill="#f23645"/><rect x="327" y="550.6" width="1" height="30.1" fill="#f23645"/><rect x="328" y="548.3" width="1" height="20.2" fill="#089981"/><rect x="329" y="549.0" width="1" height="3.2" fill="#f23645"/><rect x="330" y="543.9" width="1" height="8.2" fill="#089981"/><rect x="330" y="549.2" width="1" height="3.1" fill="#f23645"/><rect x="331" y="540.1" width="1" height="12.2" fill="#089981"/><rect x="332" y="533.1" width="1" height="13.3" fill="#089981"/><rect x="332" y="534.2" width="1" height="8.6" fill="#f23645"/><rect x="333" y="539.4" width="1" height="2.3" fill="#089981"/><rect x="334" y="537.2" width="1" height="9.5" fill="#f23645"/><rect x="334" y="536.6" width="1" height="17.4" fill="#f23645"/><rect x="335" y="546.4" width="1" height="12.4" fill="#f23645"/><rect x="336" y="552.0" width="1" height="13.3" fill="#f23645"/><rect x="336" y="554.9" width="1" height="4.2" fill="#089981"/><rect x="337" y="552.7" width="1" height="6.4" fill="#f23645"/><rect x="338" y="553.3" width="1" height="5.9" fill="#089981"/><rect x="338" y="549.8" width="1" height="8.7" fill="#f23645"/><rect x="339" y="544.0" width="1" height="14.5" fill="#089981"/><rect x="340" y="546.9" width="1" height="4.1" fill="#089981"/><rect x="340" y="538.6" width="1" height="11.3" fill="#089981"/><rect x="341" y="535.4" width="1" height="12.6" fill="#089981"/><rect x="342" y="536.3" width="1" height="5.1" fill="#f23645"/><rect x="342" y="534.7" width="1" height="16.0" fill="#f23645"/><rect x="343" y="540.3" width="1" height="17.2" fill="#f23645"/><rect x="344" y="553.0" width="1" height="9.9" fill="#f23645"/><rect x="345" y="548.2" width="1" height="15.8" fill="#089981"/><rect x="345" y="542.5" width="1" height="9.6" fill="#089981"/><rect x="346" y="527.6" width="1" height="18.7" fill="#089981"/><rect x="347" y="516.7" width="1" height="22.3" fill="#089981"/><rect x="347" y="493.9" width="1" height="29.4" fill="#089981"/><rect x="348" y="489.2" width="1" height="20.3" fill="#089981"/><rect x="349" y="488.4" width="1" height="14.2" fill="#f23645"/><rect x="349" y="493.0" width="1" height="9.6" fill="#f23645"/><rect x="350" y="497.7" width="1" height="4.9" fill="#089981"/><rect x="351" y="487.7" width="1" height="14.9" fill="#089981"/><rect x="351" y="496.1" width="1" height="4.6" fill="#f23645"/><rect x="352" y="483.9" width="1" height="22.8" fill="#089981"/><rect x="353" y="483.9" width="1" height="24.5" fill="#f23645"/><rect x="353" y="500.7" width="1" height="10.6" fill="#f23645"/><rect x="354" y="483.4" width="1" height="26.1" fill="#089981"/><rect x="355" y="468.1" width="1" height="20.0" fill="#089981"/><rect x="355" y="472.2" width="1" height="7.7" fill="#f23645"/><rect x="356" y="474.9" width="1" height="3.8" fill="#089981"/><rect x="357" y="470.8" width="1" height="18.0" fill="#f23645"/><rect x="358" y="475.9" width="1" height="9.6" fill="#089981"/><rect x="358" y="477.0" width="1" height="9.4" fill="#f23645"/><rect x="359" y="481.1" width="1" height="7.4" fill="#089981"/><rect x="360" y="476.1" width="1" height="11.0" fill="#f23645"/><rect x="360" y="467.8" width="1" height="22.7" fill="#089981"/><rect x="361" y="464.7" width="1" height="8.4" fill="#089981"/><rect x="362" y="460.9" width="1" height="14.6" fill="#f23645"/><rect x="362" y="454.8" width="1" height="20.2" fill="#089981"/><rect x="363" y="455.2" width="1" height="13.3" fill="#089981"/><rect x="364" y="452.2" width="1" height="10.6" fill="#089981"/><rect x="364" y="445.7" width="1" height="15.4" fill="#089981"/><rect x="365" y="436.2" width="1" height="24.9" fill="#089981"/><rect x="366" y="435.3" width="1" height="15.8" fill="#f23645"/><rect x="366" y="433.0" width="1" height="19.8" fill="#f23645"/><rect x="367" y="439.9" width="1" height="10.0" fill="#f23645"/><rect x="368" y="440.4" width="1" height="11.5" fill="#f23645"/><rect x="368" y="448.6" width="1" height="10.4" fill="#f23645"/><rect x="369" y="453.1" width="1" height="34.8" fill="#f23645"/><rect x="370" y="476.6" width="1" height="13.1" fill="#f23645"/><rect x="370" y="481.3" width="1" height="6.2" fill="#089981"/><rect x="371" y="483.0" width="1" height="8.3" fill="#089981"/><rect x="372" y="474.8" width="1" height="11.1" fill="#f23645"/><rect x="373" y="474.3" width="1" height="12.5" fill="#089981"/><rect x="373" y="473.9" width="1" height="5.5" fill="#089981"/><rect x="374" y="473.0" width="1" height="3.6" fill="#089981"/><rect x="375" y="471.4" width="1" height="30.5" fill="#f23645"/><rect x="375" y="498.3" width="1" height="12.2" fill="#f23645"/><rect x="376" y="503.6" width="1" height="9.7" fill="#f23645"/><rect x="377" y="504.6" width="1" height="8.4" fill="#089981"/><rect x="377" y="494.1" width="1" height="20.4" fill="#089981"/><rect x="378" y="489.8" width="1" height="7.8" fill="#089981"/><rect x="379" y="490.1" width="1" height="8.7" fill="#089981"/><rect x="379" y="491.4" width="1" height="7.4" fill="#f23645"/><rect x="380" y="489.1" width="1" height="9.7" fill="#089981"/><rect x="381" y="489.1" width="1" height="6.3" fill="#089981"/><rect x="381" y="489.1" width="1" height="6.7" fill="#089981"/><rect x="382" y="490.6" width="1" height="7.5" fill="#f23645"/><rect x="383" y="480.9" width="1" height="13.9" fill="#089981"/><rect x="383" y="468.1" width="1" height="17.1" fill="#089981"/><rect x="384" y="471.4" width="1" height="10.6" fill="#089981"/><rect x="385" y="471.7" width="1" height="5.7" fill="#089981"/><rect x="386" y="463.3" width="1" height="16.1" fill="#089981"/><rect x="386" y="462.9" width="1" height="18.6" fill="#f23645"/><rect x="387" y="478.0" width="1" height="14.3" fill="#f23645"/><rect x="388" y="487.2" width="1" height="19.8" fill="#f23645"/><rect x="388" y="496.5" width="1" height="13.5" fill="#f23645"/><rect x="389" y="503.0" width="1" height="7.1" fill="#f23645"/><rect x="390" y="504.1" width="1" height="16.5" fill="#f23645"/><rect x="390" y="500.9" width="1" height="23.8" fill="#f23645"/><rect x="391" y="513.4" width="1" height="13.2" fill="#089981"/><rect x="392" y="513.4" width="1" height="13.1" fill="#f23645"/><rect x="392" y="523.8" width="1" height="13.2" fill="#f23645"/><rect x="393" y="520.3" width="1" height="14.9" fill="#089981"/><rect x="394" y="522.0" width="1" height="6.4" fill="#089981"/><rect x="394" y="519.3" width="1" height="4.9" fill="#089981"/><rect x="395" y="519.3" width="1" height="7.2" fill="#089981"/><rect x="396" y="519.3" width="1" height="5.2" fill="#f23645"/><rect x="396" y="522.4" width="1" height="4.1" fill="#089981"/><rect x="397" y="519.6" width="1" height="6.8" fill="#f23645"/><rect x="398" y="523.5" width="1" height="1.0" fill="#089981"/><rect x="399" y="521.5" width="1" height="4.9" fill="#089981"/><rect x="399" y="522.4" width="1" height="1.9" fill="#f23645"/><rect x="400" y="520.2" width="1" height="6.3" fill="#089981"/><rect x="401" y="522.7" width="1" height="1.6" fill="#089981"/><rect x="401" y="515.4" width="1" height="12.2" fill="#089981"/><rect x="402" y="515.4" width="1" height="5.4" fill="#089981"/><rect x="403" y="515.4" width="1" height="13.0" fill="#f23645"/><rect x="403" y="516.6" width="1" height="8.6" fill="#f23645"/><rect x="404" y="523.7" width="1" height="4.3" fill="#f23645"/><rect x="405" y="521.3" width="1" height="6.1" fill="#f23645"/><rect x="405" y="521.3" width="1" height="7.3" fill="#089981"/><rect x="406" y="521.7" width="1" height="9.6" fill="#f23645"/><rect x="407" y="524.5" width="1" height="6.3" fill="#089981"/><rect x="407" y="523.3" width="1" height="17.6" fill="#f23645"/><rect x="408" y="524.7" width="1" height="3.9" fill="#089981"/><rect x="409" y="526.0" width="1" height="2.3" fill="#f23645"/><rect x="409" y="519.3" width="1" height="8.4" fill="#089981"/><rect x="410" y="519.4" width="1" height="9.8" fill="#f23645"/><rect x="411" y="521.4" width="1" height="8.0" fill="#089981"/><rect x="411" y="520.0" width="1" height="6.6" fill="#089981"/><rect x="412" y="519.3" width="1" height="10.9" fill="#f23645"/><rect x="413" y="525.4" width="1" height="3.3" fill="#089981"/><rect x="414" y="523.2" width="1" height="7.0" fill="#089981"/><rect x="414" y="519.3" width="1" height="9.4" fill="#089981"/><rect x="415" y="517.9" width="1" height="11.3" fill="#f23645"/><rect x="416" y="500.8" width="1" height="23.8" fill="#089981"/><rect x="416" y="490.4" width="1" height="16.3" fill="#089981"/><rect x="417" y="483.4" width="1" height="12.0" fill="#f23645"/><rect x="418" y="490.5" width="1" height="3.9" fill="#089981"/><rect x="418" y="484.9" width="1" height="12.0" fill="#089981"/><rect x="419" y="484.1" width="1" height="10.3" fill="#f23645"/><rect x="420" y="479.6" width="1" height="15.6" fill="#f23645"/><rect x="420" y="486.9" width="1" height="7.2" fill="#089981"/><rect x="421" y="485.1" width="1" height="6.2" fill="#089981"/><rect x="422" y="483.7" width="1" height="4.6" fill="#089981"/><rect x="422" y="478.0" width="1" height="7.3" fill="#089981"/><rect x="423" y="478.6" width="1" height="15.6" fill="#f23645"/><rect x="424" y="481.7" width="1" height="14.6" fill="#f23645"/><rect x="424" y="484.7" width="1" height="13.3" fill="#089981"/><rect x="425" y="487.8" width="1" height="40.8" fill="#f23645"/><rect x="426" y="518.6" width="1" height="37.6" fill="#f23645"/><rect x="427" y="523.2" width="1" height="32.0" fill="#089981"/><rect x="427" y="523.2" width="1" height="5.4" fill="#f23645"/><rect x="428" y="523.2" width="1" height="13.5" fill="#f23645"/><rect x="429" y="531.3" width="1" height="2.8" fill="#f23645"/><rect x="429" y="530.1" width="1" height="5.3" fill="#f23645"/><rect x="430" y="534.0" width="1" height="1.5" fill="#f23645"/><rect x="431" y="535.2" width="1" height="5.0" fill="#f23645"/><rect x="431" y="532.8" width="1" height="8.8" fill="#089981"/><rect x="432" y="534.4" width="1" height="4.4" fill="#f23645"/><rect x="433" y="536.7" width="1" height="11.4" fill="#f23645"/><rect x="433" y="543.7" width="1" height="3.1" fill="#089981"/><rect x="434" y="540.7" width="1" height="11.1" fill="#f23645"/><rect x="435" y="546.9" width="1" height="8.7" fill="#089981"/><rect x="435" y="542.3" width="1" height="8.7" fill="#089981"/><rect x="436" y="538.5" width="1" height="6.3" fill="#089981"/><rect x="437" y="536.3" width="1" height="5.8" fill="#089981"/><rect x="437" y="538.4" width="1" height="2.5" fill="#089981"/><rect x="438" y="536.3" width="1" height="9.3" fill="#089981"/><rect x="439" y="538.5" width="1" height="5.3" fill="#f23645"/><rect x="439" y="534.7" width="1" height="9.6" fill="#089981"/><rect x="440" y="525.3" width="1" height="16.8" fill="#089981"/><rect x="441" y="523.9" width="1" height="5.0" fill="#f23645"/><rect x="442" y="523.9" width="1" height="8.3" fill="#f23645"/><rect x="442" y="523.9" width="1" height="11.4" fill="#089981"/><rect x="443" y="526.8" width="1" height="8.5" fill="#f23645"/><rect x="444" y="523.9" width="1" height="11.4" fill="#f23645"/><rect x="444" y="529.7" width="1" height="3.2" fill="#089981"/><rect x="445" y="526.5" width="1" height="8.8" fill="#f23645"/><rect x="446" y="521.3" width="1" height="14.0" fill="#089981"/><rect x="446" y="523.2" width="1" height="9.5" fill="#089981"/><rect x="447" y="520.6" width="1" height="9.6" fill="#089981"/><rect x="448" y="525.8" width="1" height="4.5" fill="#f23645"/><rect x="448" y="524.4" width="1" height="6.3" fill="#f23645"/><rect x="449" y="521.3" width="1" height="8.9" fill="#089981"/><rect x="450" y="520.3" width="1" height="5.9" fill="#f23645"/><rect x="450" y="521.9" width="1" height="15.8" fill="#f23645"/><rect x="451" y="528.2" width="1" height="19.0" fill="#f23645"/><rect x="452" y="544.0" width="1" height="3.2" fill="#f23645"/><rect x="452" y="543.1" width="1" height="4.1" fill="#089981"/><rect x="453" y="540.3" width="1" height="4.1" fill="#f23645"/><rect x="454" y="534.4" width="1" height="12.8" fill="#089981"/><rect x="455" y="536.0" width="1" height="11.0" fill="#089981"/><rect x="455" y="536.3" width="1" height="10.9" fill="#089981"/><rect x="456" y="535.3" width="1" height="6.3" fill="#089981"/><rect x="457" y="534.4" width="1" height="7.0" fill="#089981"/><rect x="457" y="534.4" width="1" height="7.1" fill="#f23645"/><rect x="458" y="534.4" width="1" height="7.2" fill="#f23645"/><rect x="459" y="535.9" width="1" height="3.3" fill="#089981"/><rect x="459" y="535.0" width="1" height="4.4" fill="#089981"/><rect x="460" y="535.0" width="1" height="4.6" fill="#089981"/><rect x="461" y="535.0" width="1" height="7.3" fill="#f23645"/><rect x="461" y="533.5" width="1" height="10.0" fill="#f23645"/><rect x="462" y="536.3" width="1" height="4.7" fill="#089981"/><rect x="463" y="530.3" width="1" height="12.6" fill="#089981"/><rect x="463" y="529.6" width="1" height="2.1" fill="#089981"/><rect x="464" y="529.9" width="1" height="9.7" fill="#f23645"/><rect x="465" y="530.8" width="1" height="3.7" fill="#089981"/><rect x="465" y="530.5" width="1" height="3.9" fill="#f23645"/><rect x="466" y="532.0" width="1" height="2.5" fill="#f23645"/><rect x="467" y="528.0" width="1" height="6.4" fill="#089981"/><rect x="467" y="522.6" width="1" height="6.1" fill="#089981"/><rect x="468" y="522.8" width="1" height="5.5" fill="#089981"/><rect x="469" y="511.4" width="1" height="12.7" fill="#089981"/><rect x="470" y="502.9" width="1" height="14.4" fill="#089981"/><rect x="470" y="495.7" width="1" height="13.3" fill="#089981"/><rect x="471" y="494.3" width="1" height="6.2" fill="#089981"/><rect x="472" y="494.2" width="1" height="1.3" fill="#f23645"/><rect x="472" y="491.6" width="1" height="4.9" fill="#089981"/><rect x="473" y="490.0" width="1" height="5.0" fill="#f23645"/><rect x="474" y="482.3" width="1" height="11.3" fill="#089981"/><rect x="474" y="483.5" width="1" height="8.8" fill="#089981"/><rect x="475" y="479.8" width="1" height="5.8" fill="#089981"/><rect x="476" y="479.4" width="1" height="8.2" fill="#f23645"/><rect x="476" y="483.3" width="1" height="6.7" fill="#f23645"/><rect x="477" y="486.6" width="1" height="1.7" fill="#089981"/><rect x="478" y="484.3" width="1" height="10.9" fill="#f23645"/><rect x="478" y="491.5" width="1" height="3.1" fill="#089981"/><rect x="479" y="487.9" width="1" height="5.9" fill="#089981"/><rect x="480" y="485.7" width="1" height="7.6" fill="#089981"/><rect x="480" y="487.0" width="1" height="7.8" fill="#f23645"/><rect x="481" y="490.8" width="1" height="2.7" fill="#f23645"/><rect x="482" y="491.2" width="1" height="3.2" fill="#089981"/><rect x="483" y="484.9" width="1" height="10.3" fill="#089981"/><rect x="483" y="481.1" width="1" height="7.7" fill="#089981"/><rect x="484" y="473.4" width="1" height="10.1" fill="#f23645"/><rect x="485" y="479.9" width="1" height="2.9" fill="#089981"/><rect x="485" y="479.9" width="1" height="5.3" fill="#f23645"/><rect x="486" y="481.6" width="1" height="3.9" fill="#f23645"/><rect x="487" y="481.8" width="1" height="7.4" fill="#f23645"/><rect x="487" y="483.3" width="1" height="12.5" fill="#f23645"/><rect x="488" y="486.9" width="1" height="10.7" fill="#f23645"/><rect x="489" y="490.8" width="1" height="8.4" fill="#f23645"/><rect x="489" y="495.2" width="1" height="2.9" fill="#f23645"/><rect x="490" y="493.9" width="1" height="2.8" fill="#f23645"/><rect x="491" y="496.4" width="1" height="5.8" fill="#f23645"/><rect x="491" y="496.4" width="1" height="9.8" fill="#f23645"/><rect x="492" y="486.7" width="1" height="15.9" fill="#089981"/><rect x="493" y="477.8" width="1" height="11.3" fill="#089981"/><rect x="493" y="470.2" width="1" height="14.8" fill="#f23645"/><rect x="494" y="477.8" width="1" height="7.8" fill="#089981"/><rect x="495" y="477.9" width="1" height="2.9" fill="#089981"/><rect x="496" y="475.3" width="1" height="8.6" fill="#089981"/><rect x="496" y="477.8" width="1" height="2.2" fill="#f23645"/><rect x="497" y="477.3" width="1" height="2.6" fill="#089981"/><rect x="498" y="475.3" width="1" height="8.3" fill="#f23645"/><rect x="498" y="481.1" width="1" height="6.5" fill="#f23645"/><rect x="499" y="484.9" width="1" height="2.2" fill="#f23645"/><rect x="500" y="486.4" width="1" height="4.9" fill="#f23645"/><rect x="500" y="486.1" width="1" height="3.6" fill="#089981"/><rect x="501" y="481.9" width="1" height="7.7" fill="#089981"/><rect x="502" y="478.4" width="1" height="7.3" fill="#089981"/><rect x="502" y="477.8" width="1" height="5.3" fill="#089981"/><rect x="503" y="479.7" width="1" height="9.2" fill="#f23645"/><rect x="504" y="479.6" width="1" height="16.1" fill="#f23645"/><rect x="504" y="491.1" width="1" height="4.0" fill="#f23645"/><rect x="505" y="490.6" width="1" height="4.7" fill="#089981"/><rect x="506" y="493.9" width="1" height="1.8" fill="#089981"/><rect x="506" y="492.0" width="1" height="3.7" fill="#089981"/><rect x="507" y="491.4" width="1" height="11.9" fill="#f23645"/><rect x="508" y="499.4" width="1" height="10.7" fill="#f23645"/><rect x="508" y="508.6" width="1" height="9.1" fill="#f23645"/><rect x="509" y="497.5" width="1" height="13.3" fill="#089981"/><rect x="510" y="488.2" width="1" height="16.0" fill="#089981"/><rect x="511" y="479.8" width="1" height="10.9" fill="#089981"/><rect x="511" y="471.0" width="1" height="10.3" fill="#089981"/><rect x="512" y="474.3" width="1" height="1.0" fill="#089981"/><rect x="513" y="465.4" width="1" height="11.9" fill="#089981"/><rect x="513" y="461.0" width="1" height="7.3" fill="#089981"/><rect x="514" y="457.4" width="1" height="14.5" fill="#f23645"/><rect x="515" y="467.3" width="1" height="5.6" fill="#f23645"/><rect x="515" y="464.9" width="1" height="8.0" fill="#089981"/><rect x="516" y="464.9" width="1" height="8.0" fill="#f23645"/><rect x="517" y="464.9" width="1" height="7.1" fill="#f23645"/><rect x="517" y="468.2" width="1" height="4.7" fill="#f23645"/><rect x="518" y="469.3" width="1" height="2.9" fill="#089981"/><rect x="519" y="468.9" width="1" height="4.0" fill="#089981"/><rect x="519" y="465.4" width="1" height="5.0" fill="#089981"/><rect x="520" y="466.0" width="1" height="1.5" fill="#089981"/><rect x="521" y="464.0" width="1" height="2.9" fill="#089981"/><rect x="521" y="459.2" width="1" height="9.3" fill="#089981"/><rect x="522" y="457.1" width="1" height="8.3" fill="#089981"/><rect x="523" y="454.8" width="1" height="8.2" fill="#f23645"/><rect x="524" y="450.6" width="1" height="10.0" fill="#089981"/><rect x="524" y="454.4" width="1" height="6.8" fill="#089981"/><rect x="525" y="450.6" width="1" height="4.9" fill="#089981"/><rect x="526" y="450.6" width="1" height="3.4" fill="#f23645"/><rect x="526" y="451.7" width="1" height="6.6" fill="#f23645"/><rect x="527" y="455.4" width="1" height="3.5" fill="#f23645"/><rect x="528" y="453.0" width="1" height="3.9" fill="#089981"/><rect x="528" y="454.7" width="1" height="4.2" fill="#089981"/><rect x="529" y="451.8" width="1" height="7.1" fill="#089981"/><rect x="530" y="450.5" width="1" height="8.4" fill="#f23645"/><rect x="530" y="447.5" width="1" height="9.4" fill="#089981"/><rect x="531" y="434.9" width="1" height="18.9" fill="#089981"/><rect x="532" y="430.2" width="1" height="8.5" fill="#089981"/><rect x="532" y="420.1" width="1" height="18.5" fill="#089981"/><rect x="533" y="421.8" width="1" height="5.4" fill="#f23645"/><rect x="534" y="418.8" width="1" height="8.4" fill="#089981"/><rect x="534" y="421.4" width="1" height="5.2" fill="#f23645"/><rect x="535" y="422.0" width="1" height="4.1" fill="#089981"/><rect x="536" y="420.5" width="1" height="25.4" fill="#f23645"/><rect x="536" y="444.2" width="1" height="7.2" fill="#f23645"/><rect x="537" y="450.4" width="1" height="7.8" fill="#f23645"/><rect x="538" y="453.2" width="1" height="4.9" fill="#089981"/><rect x="539" y="453.2" width="1" height="6.1" fill="#089981"/><rect x="539" y="451.5" width="1" height="8.7" fill="#f23645"/><rect x="540" y="454.4" width="1" height="3.7" fill="#089981"/><rect x="541" y="442.0" width="1" height="16.4" fill="#089981"/><rect x="541" y="446.6" width="1" height="10.3" fill="#f23645"/><rect x="542" y="451.0" width="1" height="3.8" fill="#089981"/><rect x="543" y="448.3" width="1" height="6.2" fill="#089981"/><rect x="543" y="446.1" width="1" height="8.2" fill="#f23645"/><rect x="544" y="449.0" width="1" height="11.8" fill="#f23645"/><rect x="545" y="454.9" width="1" height="6.5" fill="#f23645"/><rect x="545" y="453.4" width="1" height="8.0" fill="#089981"/><rect x="546" y="450.9" width="1" height="6.8" fill="#089981"/><rect x="547" y="435.8" width="1" height="20.0" fill="#089981"/><rect x="547" y="434.3" width="1" height="22.8" fill="#f23645"/><rect x="548" y="447.1" width="1" height="3.1" fill="#089981"/><rect x="549" y="446.7" width="1" height="12.8" fill="#f23645"/><rect x="549" y="454.1" width="1" height="4.9" fill="#f23645"/><rect x="550" y="457.1" width="1" height="3.9" fill="#f23645"/><rect x="551" y="458.1" width="1" height="7.8" fill="#f23645"/><rect x="552" y="456.5" width="1" height="13.7" fill="#089981"/><rect x="552" y="456.5" width="1" height="7.5" fill="#f23645"/><rect x="553" y="456.5" width="1" height="7.5" fill="#089981"/><rect x="554" y="456.5" width="1" height="7.5" fill="#089981"/><rect x="554" y="456.5" width="1" height="3.1" fill="#f23645"/><rect x="555" y="456.5" width="1" height="6.3" fill="#089981"/><rect x="556" y="457.1" width="1" height="5.4" fill="#f23645"/><rect x="556" y="456.5" width="1" height="5.9" fill="#089981"/><rect x="557" y="458.1" width="1" height="5.6" fill="#f23645"/><rect x="558" y="457.6" width="1" height="4.1" fill="#f23645"/><rect x="558" y="457.1" width="1" height="8.1" fill="#089981"/><rect x="559" y="458.9" width="1" height="5.2" fill="#f23645"/><rect x="560" y="462.2" width="1" height="3.1" fill="#089981"/><rect x="560" y="458.8" width="1" height="8.9" fill="#089981"/><rect x="561" y="454.5" width="1" height="9.2" fill="#089981"/><rect x="562" y="452.1" width="1" height="7.0" fill="#089981"/><rect x="562" y="446.4" width="1" height="6.7" fill="#089981"/><rect x="563" y="445.4" width="1" height="7.2" fill="#f23645"/><rect x="564" y="445.4" width="1" height="7.2" fill="#089981"/><rect x="564" y="446.1" width="1" height="5.3" fill="#089981"/><rect x="565" y="446.1" width="1" height="6.5" fill="#f23645"/><rect x="566" y="446.9" width="1" height="4.5" fill="#089981"/><rect x="567" y="448.3" width="1" height="3.9" fill="#f23645"/><rect x="567" y="451.2" width="1" height="4.1" fill="#f23645"/><rect x="568" y="447.2" width="1" height="16.8" fill="#f23645"/><rect x="569" y="450.9" width="1" height="13.1" fill="#089981"/><rect x="569" y="448.7" width="1" height="11.5" fill="#f23645"/><rect x="570" y="450.2" width="1" height="10.0" fill="#089981"/><rect x="571" y="450.8" width="1" height="12.3" fill="#f23645"/><rect x="571" y="456.6" width="1" height="16.2" fill="#f23645"/><rect x="572" y="467.0" width="1" height="6.7" fill="#f23645"/><rect x="573" y="469.8" width="1" height="10.6" fill="#f23645"/><rect x="573" y="478.6" width="1" height="2.2" fill="#f23645"/><rect x="574" y="476.9" width="1" height="5.2" fill="#f23645"/><rect x="575" y="479.5" width="1" height="5.5" fill="#089981"/><rect x="575" y="473.4" width="1" height="6.5" fill="#089981"/><rect x="576" y="470.1" width="1" height="8.1" fill="#089981"/><rect x="577" y="469.6" width="1" height="3.2" fill="#f23645"/><rect x="577" y="465.0" width="1" height="10.4" fill="#089981"/><rect x="578" y="457.4" width="1" height="8.2" fill="#089981"/><rect x="579" y="448.0" width="1" height="15.7" fill="#089981"/><rect x="580" y="448.4" width="1" height="3.0" fill="#089981"/><rect x="580" y="448.1" width="1" height="6.4" fill="#f23645"/><rect x="581" y="449.1" width="1" height="7.2" fill="#f23645"/><rect x="582" y="450.1" width="1" height="4.8" fill="#f23645"/><rect x="582" y="453.2" width="1" height="4.6" fill="#f23645"/><rect x="583" y="456.4" width="1" height="3.7" fill="#f23645"/><rect x="584" y="454.8" width="1" height="6.7" fill="#089981"/><rect x="584" y="448.8" width="1" height="12.6" fill="#089981"/><rect x="585" y="444.7" width="1" height="8.0" fill="#089981"/><rect x="586" y="442.8" width="1" height="3.4" fill="#f23645"/><rect x="586" y="439.6" width="1" height="8.6" fill="#089981"/><rect x="587" y="440.5" width="1" height="4.0" fill="#089981"/><rect x="588" y="441.3" width="1" height="4.8" fill="#089981"/><rect x="588" y="442.1" width="1" height="12.1" fill="#f23645"/><rect x="589" y="449.7" width="1" height="9.3" fill="#f23645"/><rect x="590" y="450.1" width="1" height="8.6" fill="#089981"/><rect x="590" y="452.1" width="1" height="6.9" fill="#f23645"/><rect x="591" y="454.3" width="1" height="4.6" fill="#089981"/><rect x="592" y="452.0" width="1" height="6.0" fill="#089981"/><rect x="593" y="443.0" width="1" height="12.2" fill="#089981"/><rect x="593" y="435.1" width="1" height="12.3" fill="#089981"/><rect x="594" y="434.6" width="1" height="3.1" fill="#089981"/><rect x="595" y="433.0" width="1" height="13.6" fill="#f23645"/><rect x="595" y="444.2" width="1" height="4.3" fill="#089981"/><rect x="596" y="441.5" width="1" height="4.1" fill="#089981"/><rect x="597" y="441.5" width="1" height="3.5" fill="#f23645"/><rect x="597" y="443.3" width="1" height="9.4" fill="#f23645"/><rect x="598" y="446.7" width="1" height="7.1" fill="#089981"/><rect x="599" y="446.7" width="1" height="7.1" fill="#089981"/><rect x="599" y="447.9" width="1" height="3.9" fill="#089981"/><rect x="600" y="447.3" width="1" height="5.5" fill="#f23645"/><rect x="601" y="449.0" width="1" height="4.1" fill="#f23645"/><rect x="601" y="449.2" width="1" height="6.6" fill="#089981"/><rect x="602" y="448.1" width="1" height="7.6" fill="#089981"/><rect x="603" y="449.2" width="1" height="6.5" fill="#f23645"/><rect x="603" y="451.4" width="1" height="4.3" fill="#089981"/><rect x="604" y="448.2" width="1" height="7.2" fill="#089981"/><rect x="605" y="451.9" width="1" height="1.9" fill="#f23645"/><rect x="605" y="450.0" width="1" height="3.4" fill="#089981"/><rect x="606" y="450.0" width="1" height="6.0" fill="#f23645"/><rect x="607" y="450.6" width="1" height="3.5" fill="#f23645"/><rect x="608" y="450.6" width="1" height="10.4" fill="#f23645"/><rect x="608" y="454.9" width="1" height="5.6" fill="#f23645"/><rect x="609" y="457.8" width="1" height="4.3" fill="#089981"/><rect x="610" y="458.5" width="1" height="3.3" fill="#f23645"/><rect x="610" y="457.0" width="1" height="4.6" fill="#089981"/><rect x="611" y="456.6" width="1" height="3.8" fill="#089981"/><rect x="612" y="457.1" width="1" height="4.4" fill="#089981"/><rect x="612" y="456.4" width="1" height="5.7" fill="#089981"/><rect x="613" y="453.8" width="1" height="8.3" fill="#089981"/><rect x="614" y="453.2" width="1" height="5.7" fill="#f23645"/><rect x="614" y="453.2" width="1" height="6.3" fill="#089981"/><rect x="615" y="454.7" width="1" height="4.0" fill="#f23645"/><rect x="616" y="453.2" width="1" height="5.7" fill="#089981"/><rect x="616" y="456.6" width="1" height="2.5" fill="#f23645"/><rect x="617" y="453.9" width="1" height="8.9" fill="#f23645"/><rect x="618" y="459.4" width="1" height="35.3" fill="#f23645"/><rect x="618" y="475.9" width="1" height="6.4" fill="#f23645"/><rect x="619" y="477.9" width="1" height="4.8" fill="#f23645"/><rect x="620" y="480.1" width="1" height="6.7" fill="#f23645"/><rect x="621" y="480.0" width="1" height="6.7" fill="#089981"/><rect x="621" y="477.9" width="1" height="8.9" fill="#f23645"/><rect x="622" y="481.9" width="1" height="4.0" fill="#f23645"/><rect x="623" y="484.9" width="1" height="1.9" fill="#089981"/><rect x="623" y="484.2" width="1" height="1.7" fill="#089981"/><rect x="624" y="479.8" width="1" height="7.1" fill="#089981"/><rect x="625" y="475.0" width="1" height="8.5" fill="#089981"/><rect x="625" y="473.4" width="1" height="8.5" fill="#f23645"/><rect x="626" y="468.8" width="1" height="9.6" fill="#089981"/><rect x="627" y="469.7" width="1" height="6.9" fill="#f23645"/><rect x="627" y="473.4" width="1" height="9.3" fill="#f23645"/><rect x="628" y="482.1" width="1" height="4.7" fill="#f23645"/><rect x="629" y="479.9" width="1" height="7.0" fill="#089981"/><rect x="629" y="479.9" width="1" height="6.5" fill="#089981"/><rect x="630" y="482.3" width="1" height="4.4" fill="#089981"/><rect x="631" y="481.2" width="1" height="4.2" fill="#089981"/><rect x="631" y="482.8" width="1" height="4.0" fill="#f23645"/><rect x="632" y="481.2" width="1" height="5.7" fill="#089981"/><rect x="633" y="481.2" width="1" height="6.1" fill="#f23645"/><rect x="633" y="482.4" width="1" height="3.6" fill="#f23645"/><rect x="634" y="483.9" width="1" height="9.6" fill="#f23645"/><rect x="635" y="488.4" width="1" height="8.8" fill="#f23645"/><rect x="636" y="492.0" width="1" height="4.0" fill="#089981"/><rect x="636" y="489.5" width="1" height="6.5" fill="#089981"/><rect x="637" y="483.9" width="1" height="9.6" fill="#089981"/><rect x="638" y="481.2" width="1" height="6.3" fill="#089981"/><rect x="638" y="481.2" width="1" height="4.9" fill="#089981"/><rect x="639" y="481.2" width="1" height="2.1" fill="#089981"/><rect x="640" y="481.2" width="1" height="6.7" fill="#f23645"/><rect x="640" y="481.2" width="1" height="5.0" fill="#f23645"/><rect x="641" y="482.0" width="1" height="9.2" fill="#f23645"/><rect x="642" y="486.8" width="1" height="4.5" fill="#f23645"/><rect x="642" y="486.8" width="1" height="4.8" fill="#089981"/><rect x="643" y="487.0" width="1" height="2.8" fill="#089981"/><rect x="644" y="487.1" width="1" height="4.8" fill="#089981"/><rect x="644" y="486.4" width="1" height="4.1" fill="#089981"/><rect x="645" y="484.2" width="1" height="7.7" fill="#f23645"/><rect x="646" y="486.4" width="1" height="5.5" fill="#089981"/><rect x="646" y="478.5" width="1" height="13.4" fill="#089981"/><rect x="647" y="478.1" width="1" height="6.2" fill="#089981"/><rect x="648" y="477.9" width="1" height="3.6" fill="#f23645"/><rect x="649" y="468.9" width="1" height="13.0" fill="#089981"/><rect x="649" y="470.3" width="1" height="7.1" fill="#f23645"/><rect x="650" y="473.1" width="1" height="5.5" fill="#f23645"/><rect x="651" y="476.6" width="1" height="8.4" fill="#f23645"/><rect x="651" y="479.9" width="1" height="7.0" fill="#f23645"/><rect x="652" y="480.4" width="1" height="3.3" fill="#089981"/><rect x="653" y="479.9" width="1" height="3.8" fill="#089981"/><rect x="653" y="479.9" width="1" height="8.6" fill="#f23645"/><rect x="654" y="481.8" width="1" height="4.6" fill="#f23645"/><rect x="655" y="481.8" width="1" height="4.7" fill="#f23645"/><rect x="655" y="482.7" width="1" height="14.5" fill="#f23645"/><rect x="656" y="491.5" width="1" height="7.0" fill="#f23645"/><rect x="657" y="495.3" width="1" height="2.0" fill="#f23645"/><rect x="657" y="496.6" width="1" height="1.0" fill="#089981"/><rect x="658" y="493.7" width="1" height="3.6" fill="#089981"/><rect x="659" y="493.4" width="1" height="3.0" fill="#f23645"/><rect x="659" y="493.7" width="1" height="1.5" fill="#089981"/><rect x="660" y="492.6" width="1" height="3.8" fill="#089981"/><rect x="661" y="486.4" width="1" height="7.0" fill="#089981"/><rect x="661" y="481.8" width="1" height="13.3" fill="#089981"/><rect x="662" y="482.0" width="1" height="6.5" fill="#f23645"/><rect x="663" y="474.4" width="1" height="12.2" fill="#089981"/><rect x="664" y="462.5" width="1" height="18.0" fill="#089981"/><rect x="664" y="459.7" width="1" height="10.0" fill="#089981"/><rect x="665" y="460.2" width="1" height="3.3" fill="#f23645"/><rect x="666" y="457.8" width="1" height="8.4" fill="#089981"/><rect x="666" y="458.6" width="1" height="4.9" fill="#f23645"/><rect x="667" y="457.8" width="1" height="7.5" fill="#089981"/><rect x="668" y="458.5" width="1" height="3.4" fill="#089981"/><rect x="668" y="457.8" width="1" height="4.5" fill="#089981"/><rect x="669" y="457.8" width="1" height="4.2" fill="#f23645"/><rect x="670" y="457.8" width="1" height="7.5" fill="#089981"/><rect x="670" y="455.2" width="1" height="8.3" fill="#f23645"/><rect x="671" y="454.1" width="1" height="10.7" fill="#089981"/><rect x="672" y="455.5" width="1" height="4.3" fill="#089981"/><rect x="672" y="447.4" width="1" height="10.5" fill="#089981"/><rect x="673" y="448.6" width="1" height="5.0" fill="#089981"/><rect x="674" y="448.4" width="1" height="5.5" fill="#f23645"/><rect x="674" y="449.9" width="1" height="3.4" fill="#f23645"/><rect x="675" y="420.1" width="1" height="33.7" fill="#089981"/><rect x="676" y="421.4" width="1" height="8.0" fill="#f23645"/><rect x="677" y="425.6" width="1" height="8.6" fill="#f23645"/><rect x="677" y="429.8" width="1" height="4.5" fill="#f23645"/><rect x="678" y="428.0" width="1" height="11.5" fill="#f23645"/><rect x="679" y="432.1" width="1" height="11.7" fill="#f23645"/><rect x="679" y="436.3" width="1" height="4.4" fill="#f23645"/><rect x="680" y="434.9" width="1" height="10.1" fill="#f23645"/><rect x="681" y="437.1" width="1" height="5.4" fill="#f23645"/><rect x="681" y="441.9" width="1" height="3.1" fill="#f23645"/><rect x="682" y="432.4" width="1" height="12.9" fill="#089981"/><rect x="683" y="435.1" width="1" height="13.1" fill="#f23645"/><rect x="683" y="438.3" width="1" height="9.9" fill="#f23645"/><rect x="684" y="434.3" width="1" height="11.7" fill="#089981"/><rect x="685" y="423.7" width="1" height="11.0" fill="#089981"/><rect x="685" y="423.3" width="1" height="14.6" fill="#089981"/><rect x="686" y="423.3" width="1" height="5.1" fill="#f23645"/><rect x="687" y="425.7" width="1" height="6.4" fill="#f23645"/><rect x="687" y="426.5" width="1" height="10.2" fill="#f23645"/><rect x="688" y="424.9" width="1" height="11.2" fill="#089981"/><rect x="689" y="429.4" width="1" height="3.8" fill="#f23645"/><rect x="690" y="422.7" width="1" height="9.7" fill="#089981"/><rect x="690" y="424.2" width="1" height="2.2" fill="#089981"/><rect x="691" y="416.8" width="1" height="9.3" fill="#089981"/><rect x="692" y="409.5" width="1" height="17.9" fill="#089981"/><rect x="692" y="405.1" width="1" height="9.2" fill="#089981"/><rect x="693" y="402.7" width="1" height="5.9" fill="#f23645"/><rect x="694" y="399.9" width="1" height="10.9" fill="#089981"/><rect x="694" y="397.0" width="1" height="13.7" fill="#089981"/><rect x="695" y="385.4" width="1" height="20.7" fill="#089981"/><rect x="696" y="388.9" width="1" height="13.4" fill="#f23645"/><rect x="696" y="394.3" width="1" height="17.0" fill="#f23645"/><rect x="697" y="403.3" width="1" height="5.3" fill="#f23645"/><rect x="698" y="403.6" width="1" height="7.0" fill="#f23645"/><rect x="698" y="402.0" width="1" height="7.8" fill="#089981"/><rect x="699" y="401.5" width="1" height="9.2" fill="#f23645"/><rect x="700" y="404.3" width="1" height="6.5" fill="#f23645"/><rect x="700" y="399.9" width="1" height="12.7" fill="#089981"/><rect x="701" y="403.8" width="1" height="8.8" fill="#f23645"/><rect x="702" y="409.1" width="1" height="12.3" fill="#089981"/><rect x="702" y="404.7" width="1" height="7.9" fill="#089981"/><rect x="703" y="402.5" width="1" height="7.0" fill="#089981"/><rect x="704" y="403.4" width="1" height="5.2" fill="#f23645"/><rect x="705" y="401.1" width="1" height="6.3" fill="#089981"/><rect x="705" y="399.7" width="1" height="8.7" fill="#089981"/><rect x="706" y="399.7" width="1" height="7.6" fill="#f23645"/><rect x="707" y="390.7" width="1" height="15.5" fill="#089981"/><rect x="707" y="384.3" width="1" height="18.3" fill="#089981"/><rect x="708" y="385.0" width="1" height="5.9" fill="#089981"/><rect x="709" y="379.7" width="1" height="14.2" fill="#f23645"/><rect x="709" y="391.7" width="1" height="7.8" fill="#f23645"/><rect x="710" y="394.5" width="1" height="9.9" fill="#f23645"/><rect x="711" y="395.8" width="1" height="7.4" fill="#f23645"/><rect x="711" y="387.3" width="1" height="15.9" fill="#089981"/><rect x="712" y="389.8" width="1" height="11.4" fill="#f23645"/><rect x="713" y="389.9" width="1" height="34.1" fill="#f23645"/><rect x="713" y="409.1" width="1" height="1.0" fill="#089981"/><rect x="714" y="404.3" width="1" height="9.8" fill="#089981"/><rect x="715" y="404.3" width="1" height="9.8" fill="#f23645"/><rect x="715" y="403.8" width="1" height="9.9" fill="#089981"/><rect x="716" y="388.5" width="1" height="22.0" fill="#089981"/><rect x="717" y="384.7" width="1" height="11.0" fill="#089981"/><rect x="718" y="360.3" width="1" height="36.8" fill="#089981"/><rect x="718" y="358.1" width="1" height="10.0" fill="#f23645"/><rect x="719" y="345.0" width="1" height="31.2" fill="#f23645"/><rect x="720" y="364.5" width="1" height="9.8" fill="#089981"/><rect x="720" y="364.5" width="1" height="11.6" fill="#f23645"/><rect x="721" y="365.5" width="1" height="9.2" fill="#089981"/><rect x="722" y="368.6" width="1" height="5.4" fill="#089981"/><rect x="722" y="366.5" width="1" height="13.9" fill="#f23645"/><rect x="723" y="368.7" width="1" height="8.6" fill="#f23645"/><rect x="724" y="371.7" width="1" height="9.0" fill="#f23645"/><rect x="724" y="371.7" width="1" height="11.4" fill="#089981"/><rect x="725" y="372.9" width="1" height="11.4" fill="#f23645"/><rect x="726" y="373.6" width="1" height="26.8" fill="#f23645"/><rect x="726" y="392.6" width="1" height="23.1" fill="#f23645"/><rect x="727" y="398.4" width="1" height="11.9" fill="#089981"/><rect x="728" y="401.7" width="1" height="6.0" fill="#f23645"/><rect x="728" y="399.1" width="1" height="8.4" fill="#089981"/><rect x="729" y="392.8" width="1" height="14.3" fill="#089981"/><rect x="730" y="391.9" width="1" height="9.9" fill="#089981"/><rect x="730" y="391.9" width="1" height="13.5" fill="#f23645"/><rect x="731" y="391.9" width="1" height="11.7" fill="#089981"/><rect x="732" y="391.9" width="1" height="9.4" fill="#f23645"/><rect x="733" y="394.5" width="1" height="10.7" fill="#f23645"/><rect x="733" y="395.2" width="1" height="10.1" fill="#089981"/><rect x="734" y="393.6" width="1" height="6.9" fill="#f23645"/><rect x="735" y="397.8" width="1" height="5.6" fill="#089981"/><rect x="735" y="384.7" width="1" height="18.6" fill="#089981"/><rect x="736" y="377.1" width="1" height="18.0" fill="#089981"/><rect x="737" y="378.3" width="1" height="15.5" fill="#f23645"/><rect x="737" y="382.7" width="1" height="8.9" fill="#089981"/><rect x="738" y="374.4" width="1" height="19.5" fill="#089981"/><rect x="739" y="361.9" width="1" height="14.4" fill="#089981"/><rect x="739" y="348.4" width="1" height="23.2" fill="#089981"/><rect x="740" y="337.6" width="1" height="28.2" fill="#089981"/><rect x="741" y="349.9" width="1" height="2.8" fill="#f23645"/><rect x="741" y="337.5" width="1" height="15.7" fill="#089981"/><rect x="742" y="328.4" width="1" height="19.4" fill="#089981"/><rect x="743" y="322.2" width="1" height="11.3" fill="#089981"/><rect x="743" y="321.4" width="1" height="14.0" fill="#f23645"/><rect x="744" y="315.2" width="1" height="21.1" fill="#089981"/><rect x="745" y="300.6" width="1" height="28.7" fill="#089981"/><rect x="746" y="300.6" width="1" height="8.7" fill="#f23645"/><rect x="746" y="306.3" width="1" height="9.1" fill="#f23645"/><rect x="747" y="288.3" width="1" height="27.7" fill="#f23645"/><rect x="748" y="302.2" width="1" height="14.4" fill="#089981"/><rect x="748" y="293.5" width="1" height="13.9" fill="#089981"/><rect x="749" y="287.0" width="1" height="18.2" fill="#089981"/><rect x="750" y="285.7" width="1" height="12.4" fill="#f23645"/><rect x="750" y="276.1" width="1" height="20.6" fill="#089981"/><rect x="751" y="252.4" width="1" height="29.8" fill="#089981"/><rect x="752" y="241.6" width="1" height="27.2" fill="#f23645"/><rect x="752" y="256.6" width="1" height="14.5" fill="#089981"/><rect x="753" y="250.1" width="1" height="21.0" fill="#089981"/><rect x="754" y="244.0" width="1" height="16.2" fill="#089981"/><rect x="754" y="220.5" width="1" height="29.3" fill="#089981"/><rect x="755" y="203.1" width="1" height="79.6" fill="#f23645"/><rect x="756" y="209.5" width="1" height="35.1" fill="#089981"/><rect x="756" y="202.5" width="1" height="17.6" fill="#089981"/><rect x="757" y="194.1" width="1" height="19.4" fill="#089981"/><rect x="758" y="171.5" width="1" height="23.1" fill="#089981"/><rect x="758" y="171.5" width="1" height="15.1" fill="#089981"/><rect x="759" y="171.5" width="1" height="11.1" fill="#089981"/><rect x="760" y="168.4" width="1" height="21.8" fill="#f23645"/><rect x="761" y="171.6" width="1" height="17.0" fill="#089981"/><rect x="761" y="173.2" width="1" height="27.6" fill="#f23645"/><rect x="762" y="190.3" width="1" height="28.1" fill="#f23645"/><rect x="763" y="206.1" width="1" height="42.2" fill="#f23645"/><rect x="763" y="237.9" width="1" height="10.5" fill="#f23645"/><rect x="764" y="234.8" width="1" height="9.6" fill="#089981"/><rect x="765" y="236.3" width="1" height="57.7" fill="#f23645"/><rect x="765" y="242.0" width="1" height="58.7" fill="#089981"/><rect x="766" y="236.1" width="1" height="31.6" fill="#f23645"/><rect x="767" y="247.6" width="1" height="18.8" fill="#f23645"/><rect x="767" y="247.8" width="1" height="19.8" fill="#089981"/><rect x="768" y="231.0" width="1" height="25.9" fill="#089981"/><rect x="769" y="225.7" width="1" height="30.0" fill="#089981"/><rect x="769" y="225.7" width="1" height="25.2" fill="#f23645"/><rect x="770" y="236.5" width="1" height="12.6" fill="#089981"/><rect x="771" y="240.9" width="1" height="5.5" fill="#f23645"/><rect x="771" y="242.2" width="1" height="6.6" fill="#089981"/><rect x="772" y="242.2" width="1" height="6.2" fill="#f23645"/><rect x="773" y="236.1" width="1" height="14.2" fill="#089981"/><rect x="774" y="239.9" width="1" height="10.1" fill="#f23645"/><rect x="774" y="242.1" width="1" height="36.6" fill="#f23645"/><rect x="775" y="264.9" width="1" height="13.8" fill="#f23645"/><rect x="776" y="265.0" width="1" height="13.7" fill="#089981"/><rect x="776" y="250.6" width="1" height="20.9" fill="#089981"/><rect x="777" y="231.6" width="1" height="36.5" fill="#089981"/><rect x="778" y="217.5" width="1" height="37.7" fill="#089981"/><rect x="778" y="214.6" width="1" height="24.5" fill="#089981"/><rect x="779" y="217.5" width="1" height="27.7" fill="#f23645"/><rect x="780" y="217.5" width="1" height="25.5" fill="#f23645"/><rect x="780" y="231.6" width="1" height="38.7" fill="#f23645"/><rect x="781" y="254.8" width="1" height="23.4" fill="#f23645"/><rect x="782" y="277.5" width="1" height="50.1" fill="#f23645"/><rect x="782" y="299.0" width="1" height="10.9" fill="#089981"/><rect x="783" y="289.6" width="1" height="11.2" fill="#089981"/><rect x="784" y="295.3" width="1" height="12.0" fill="#f23645"/><rect x="784" y="298.9" width="1" height="16.7" fill="#f23645"/><rect x="785" y="298.8" width="1" height="17.2" fill="#089981"/><rect x="786" y="290.7" width="1" height="11.7" fill="#f23645"/><rect x="787" y="284.7" width="1" height="21.9" fill="#089981"/><rect x="787" y="293.6" width="1" height="4.7" fill="#089981"/><rect x="788" y="276.5" width="1" height="20.5" fill="#089981"/><rect x="789" y="280.3" width="1" height="16.1" fill="#f23645"/><rect x="789" y="279.7" width="1" height="16.7" fill="#f23645"/><rect x="790" y="286.7" width="1" height="7.5" fill="#089981"/><rect x="791" y="285.0" width="1" height="6.9" fill="#089981"/><rect x="791" y="272.0" width="1" height="23.0" fill="#089981"/><rect x="792" y="273.3" width="1" height="17.7" fill="#f23645"/><rect x="793" y="279.2" width="1" height="13.2" fill="#f23645"/><rect x="793" y="287.6" width="1" height="24.2" fill="#f23645"/><rect x="794" y="302.1" width="1" height="30.0" fill="#f23645"/><rect x="795" y="293.0" width="1" height="24.8" fill="#089981"/><rect x="795" y="289.6" width="1" height="14.2" fill="#089981"/><rect x="796" y="289.6" width="1" height="13.4" fill="#f23645"/><rect x="797" y="291.3" width="1" height="14.3" fill="#f23645"/><rect x="797" y="289.6" width="1" height="19.9" fill="#f23645"/><rect x="798" y="296.3" width="1" height="13.5" fill="#f23645"/><rect x="799" y="300.7" width="1" height="9.0" fill="#089981"/><rect x="799" y="294.1" width="1" height="12.9" fill="#f23645"/><rect x="800" y="298.0" width="1" height="9.8" fill="#089981"/><rect x="801" y="298.0" width="1" height="13.7" fill="#f23645"/><rect x="802" y="298.0" width="1" height="21.7" fill="#f23645"/><rect x="802" y="315.5" width="1" height="13.2" fill="#f23645"/><rect x="803" y="315.8" width="1" height="11.1" fill="#089981"/><rect x="804" y="303.1" width="1" height="26.2" fill="#089981"/><rect x="804" y="290.4" width="1" height="17.6" fill="#089981"/><rect x="805" y="292.4" width="1" height="12.1" fill="#089981"/><rect x="806" y="290.8" width="1" height="11.3" fill="#f23645"/><rect x="806" y="277.2" width="1" height="27.5" fill="#f23645"/><rect x="807" y="216.2" width="1" height="89.1" fill="#089981"/><rect x="808" y="199.6" width="1" height="25.9" fill="#089981"/><rect x="808" y="199.6" width="1" height="9.6" fill="#089981"/><rect x="809" y="186.4" width="1" height="22.9" fill="#f23645"/><rect x="810" y="202.9" width="1" height="12.1" fill="#f23645"/><rect x="810" y="201.8" width="1" height="17.4" fill="#f23645"/><rect x="811" y="189.4" width="1" height="27.1" fill="#089981"/><rect x="812" y="183.2" width="1" height="34.8" fill="#089981"/><rect x="812" y="186.6" width="1" height="24.2" fill="#f23645"/><rect x="813" y="193.4" width="1" height="24.6" fill="#f23645"/><rect x="814" y="202.9" width="1" height="15.1" fill="#089981"/><rect x="815" y="202.9" width="1" height="15.1" fill="#f23645"/><rect x="815" y="209.9" width="1" height="8.1" fill="#f23645"/><rect x="816" y="211.8" width="1" height="1.7" fill="#089981"/><rect x="817" y="204.3" width="1" height="10.6" fill="#089981"/><rect x="817" y="195.1" width="1" height="15.2" fill="#089981"/><rect x="818" y="190.1" width="1" height="21.5" fill="#089981"/><rect x="819" y="189.8" width="1" height="38.3" fill="#f23645"/><rect x="819" y="203.4" width="1" height="18.3" fill="#f23645"/><rect x="820" y="218.8" width="1" height="2.8" fill="#089981"/><rect x="821" y="214.0" width="1" height="9.2" fill="#f23645"/><rect x="821" y="214.0" width="1" height="10.5" fill="#f23645"/><rect x="822" y="221.9" width="1" height="22.7" fill="#f23645"/><rect x="823" y="237.4" width="1" height="16.0" fill="#f23645"/><rect x="823" y="237.4" width="1" height="16.0" fill="#f23645"/><rect x="824" y="241.1" width="1" height="8.1" fill="#089981"/><rect x="825" y="239.9" width="1" height="13.5" fill="#f23645"/><rect x="825" y="236.1" width="1" height="17.3" fill="#089981"/><rect x="826" y="241.0" width="1" height="12.5" fill="#089981"/><rect x="827" y="236.1" width="1" height="7.5" fill="#089981"/><rect x="827" y="236.1" width="1" height="7.4" fill="#089981"/><rect x="828" y="239.8" width="1" height="6.0" fill="#f23645"/><rect x="829" y="236.1" width="1" height="24.9" fill="#f23645"/><rect x="830" y="242.8" width="1" height="18.2" fill="#089981"/><rect x="830" y="252.7" width="1" height="6.3" fill="#f23645"/><rect x="831" y="246.6" width="1" height="30.9" fill="#f23645"/><rect x="832" y="243.9" width="1" height="25.9" fill="#089981"/><rect x="832" y="243.9" width="1" height="15.4" fill="#089981"/><rect x="833" y="247.8" width="1" height="7.7" fill="#089981"/><rect x="834" y="247.0" width="1" height="12.1" fill="#089981"/><rect x="834" y="243.9" width="1" height="15.2" fill="#f23645"/><rect x="835" y="252.4" width="1" height="6.7" fill="#089981"/><rect x="836" y="250.0" width="1" height="8.6" fill="#f23645"/><rect x="836" y="245.9" width="1" height="16.5" fill="#089981"/><rect x="837" y="249.6" width="1" height="43.2" fill="#f23645"/><rect x="838" y="276.7" width="1" height="28.3" fill="#f23645"/><rect x="838" y="294.8" width="1" height="38.0" fill="#f23645"/><rect x="839" y="308.5" width="1" height="4.1" fill="#f23645"/><rect x="840" y="307.8" width="1" height="12.0" fill="#f23645"/><rect x="840" y="305.6" width="1" height="25.9" fill="#089981"/><rect x="841" y="291.2" width="1" height="19.6" fill="#089981"/><rect x="842" y="289.6" width="1" height="8.9" fill="#089981"/><rect x="843" y="288.6" width="1" height="11.3" fill="#f23645"/><rect x="843" y="295.0" width="1" height="6.5" fill="#f23645"/><rect x="844" y="275.8" width="1" height="25.7" fill="#089981"/><rect x="845" y="268.1" width="1" height="17.5" fill="#089981"/><rect x="845" y="239.4" width="1" height="42.8" fill="#089981"/><rect x="846" y="244.8" width="1" height="13.8" fill="#f23645"/><rect x="847" y="249.4" width="1" height="10.0" fill="#089981"/><rect x="847" y="243.7" width="1" height="16.7" fill="#089981"/><rect x="848" y="237.6" width="1" height="19.6" fill="#089981"/><rect x="849" y="237.6" width="1" height="1.5" fill="#089981"/><rect x="849" y="237.6" width="1" height="7.0" fill="#f23645"/><rect x="850" y="236.5" width="1" height="22.3" fill="#f23645"/><rect x="851" y="245.2" width="1" height="26.5" fill="#f23645"/><rect x="851" y="261.0" width="1" height="8.4" fill="#089981"/><rect x="852" y="261.6" width="1" height="25.4" fill="#f23645"/><rect x="853" y="270.0" width="1" height="22.0" fill="#089981"/><rect x="853" y="268.3" width="1" height="17.1" fill="#f23645"/><rect x="854" y="267.6" width="1" height="12.9" fill="#f23645"/><rect x="855" y="265.4" width="1" height="15.0" fill="#089981"/><rect x="855" y="266.7" width="1" height="18.4" fill="#f23645"/><rect x="856" y="273.7" width="1" height="5.4" fill="#f23645"/><rect x="857" y="274.9" width="1" height="22.7" fill="#f23645"/><rect x="858" y="289.0" width="1" height="23.4" fill="#f23645"/><rect x="858" y="309.2" width="1" height="21.2" fill="#f23645"/><rect x="859" y="329.0" width="1" height="25.6" fill="#f23645"/><rect x="860" y="347.4" width="1" height="75.3" fill="#f23645"/><rect x="860" y="378.2" width="1" height="19.4" fill="#f23645"/><rect x="861" y="382.4" width="1" height="14.5" fill="#f23645"/><rect x="862" y="346.6" width="1" height="50.5" fill="#089981"/><rect x="862" y="343.7" width="1" height="21.3" fill="#f23645"/><rect x="863" y="356.1" width="1" height="8.9" fill="#f23645"/><rect x="864" y="356.5" width="1" height="12.3" fill="#f23645"/><rect x="864" y="346.9" width="1" height="19.5" fill="#089981"/><rect x="865" y="346.9" width="1" height="11.5" fill="#f23645"/><rect x="866" y="347.9" width="1" height="6.5" fill="#089981"/><rect x="866" y="348.5" width="1" height="14.4" fill="#f23645"/><rect x="867" y="357.5" width="1" height="5.4" fill="#089981"/><rect x="868" y="347.3" width="1" height="16.8" fill="#089981"/><rect x="868" y="354.5" width="1" height="10.6" fill="#f23645"/><rect x="869" y="361.3" width="1" height="3.5" fill="#089981"/><rect x="870" y="359.2" width="1" height="8.7" fill="#089981"/><rect x="871" y="334.2" width="1" height="33.7" fill="#089981"/><rect x="871" y="333.7" width="1" height="19.0" fill="#089981"/><rect x="872" y="337.5" width="1" height="7.0" fill="#089981"/><rect x="873" y="331.5" width="1" height="9.1" fill="#089981"/><rect x="873" y="333.7" width="1" height="25.7" fill="#f23645"/><rect x="874" y="348.8" width="1" height="27.2" fill="#f23645"/><rect x="875" y="362.1" width="1" height="20.3" fill="#f23645"/><rect x="875" y="375.0" width="1" height="7.5" fill="#f23645"/><rect x="876" y="369.9" width="1" height="8.9" fill="#089981"/><rect x="877" y="362.6" width="1" height="13.1" fill="#089981"/><rect x="877" y="363.7" width="1" height="10.6" fill="#f23645"/><rect x="878" y="363.8" width="1" height="10.5" fill="#089981"/><rect x="879" y="366.8" width="1" height="6.8" fill="#089981"/><rect x="879" y="362.6" width="1" height="14.7" fill="#f23645"/><rect x="880" y="369.4" width="1" height="9.7" fill="#f23645"/><rect x="881" y="374.3" width="1" height="30.7" fill="#f23645"/><rect x="881" y="391.2" width="1" height="26.3" fill="#f23645"/><rect x="882" y="387.6" width="1" height="24.6" fill="#089981"/><rect x="883" y="387.0" width="1" height="14.6" fill="#089981"/><rect x="884" y="382.6" width="1" height="10.9" fill="#089981"/><rect x="884" y="382.2" width="1" height="10.7" fill="#089981"/><rect x="885" y="385.3" width="1" height="9.8" fill="#089981"/><rect x="886" y="378.8" width="1" height="9.3" fill="#089981"/><rect x="886" y="375.6" width="1" height="13.5" fill="#089981"/><rect x="887" y="376.8" width="1" height="7.5" fill="#f23645"/><rect x="888" y="380.9" width="1" height="20.7" fill="#f23645"/><rect x="888" y="389.4" width="1" height="9.7" fill="#f23645"/><rect x="889" y="394.7" width="1" height="7.3" fill="#089981"/><rect x="890" y="381.1" width="1" height="16.3" fill="#089981"/><rect x="890" y="375.9" width="1" height="18.9" fill="#089981"/><rect x="891" y="371.7" width="1" height="10.2" fill="#089981"/><rect x="892" y="365.0" width="1" height="16.9" fill="#089981"/><rect x="892" y="356.3" width="1" height="9.2" fill="#089981"/><rect x="893" y="355.1" width="1" height="12.2" fill="#089981"/><rect x="894" y="351.4" width="1" height="15.9" fill="#089981"/><rect x="894" y="350.8" width="1" height="4.7" fill="#089981"/><rect x="895" y="352.8" width="1" height="9.9" fill="#f23645"/><rect x="896" y="343.1" width="1" height="17.2" fill="#089981"/><rect x="896" y="345.2" width="1" height="16.3" fill="#f23645"/><rect x="897" y="352.8" width="1" height="8.5" fill="#f23645"/><rect x="898" y="355.9" width="1" height="14.8" fill="#f23645"/><rect x="899" y="354.8" width="1" height="31.6" fill="#f23645"/><rect x="899" y="374.3" width="1" height="18.2" fill="#f23645"/><rect x="900" y="385.6" width="1" height="11.4" fill="#f23645"/><rect x="901" y="388.3" width="1" height="4.7" fill="#089981"/><rect x="901" y="378.9" width="1" height="11.9" fill="#089981"/><rect x="902" y="375.6" width="1" height="19.6" fill="#089981"/><rect x="903" y="378.9" width="1" height="8.7" fill="#f23645"/><rect x="903" y="382.2" width="1" height="10.4" fill="#f23645"/><rect x="904" y="386.7" width="1" height="6.0" fill="#089981"/><rect x="905" y="381.9" width="1" height="12.6" fill="#089981"/><rect x="905" y="372.0" width="1" height="20.0" fill="#089981"/><rect x="906" y="369.9" width="1" height="18.5" fill="#f23645"/><rect x="907" y="359.7" width="1" height="26.3" fill="#089981"/><rect x="907" y="349.8" width="1" height="19.6" fill="#089981"/><rect x="908" y="349.5" width="1" height="11.4" fill="#f23645"/><rect x="909" y="352.8" width="1" height="6.9" fill="#089981"/><rect x="909" y="351.3" width="1" height="9.6" fill="#089981"/><rect x="910" y="350.7" width="1" height="8.5" fill="#f23645"/><rect x="911" y="343.2" width="1" height="16.5" fill="#089981"/><rect x="912" y="339.2" width="1" height="14.0" fill="#089981"/><rect x="912" y="341.1" width="1" height="26.1" fill="#f23645"/><rect x="913" y="351.5" width="1" height="22.1" fill="#f23645"/><rect x="914" y="358.8" width="1" height="12.9" fill="#f23645"/><rect x="914" y="365.6" width="1" height="10.3" fill="#f23645"/><rect x="915" y="367.4" width="1" height="20.6" fill="#f23645"/><rect x="916" y="379.7" width="1" height="2.6" fill="#f23645"/><rect x="916" y="366.6" width="1" height="18.5" fill="#089981"/><rect x="917" y="359.6" width="1" height="22.1" fill="#089981"/><rect x="918" y="349.5" width="1" height="17.7" fill="#089981"/><rect x="918" y="351.5" width="1" height="4.5" fill="#f23645"/><rect x="919" y="351.5" width="1" height="22.4" fill="#f23645"/><rect x="920" y="367.1" width="1" height="16.0" fill="#f23645"/><rect x="920" y="373.4" width="1" height="6.6" fill="#089981"/><rect x="921" y="370.4" width="1" height="12.0" fill="#f23645"/><rect x="922" y="377.7" width="1" height="12.9" fill="#f23645"/><rect x="922" y="369.2" width="1" height="19.6" fill="#089981"/><rect x="923" y="338.1" width="1" height="39.7" fill="#089981"/><rect x="924" y="318.4" width="1" height="29.3" fill="#089981"/><rect x="924" y="305.3" width="1" height="22.2" fill="#089981"/><rect x="925" y="281.7" width="1" height="38.7" fill="#089981"/><rect x="926" y="263.2" width="1" height="35.1" fill="#089981"/><rect x="927" y="259.9" width="1" height="36.3" fill="#089981"/><rect x="927" y="251.2" width="1" height="36.1" fill="#f23645"/><rect x="928" y="275.4" width="1" height="19.7" fill="#f23645"/><rect x="929" y="289.8" width="1" height="16.8" fill="#f23645"/><rect x="929" y="296.7" width="1" height="9.9" fill="#089981"/><rect x="930" y="285.7" width="1" height="15.5" fill="#089981"/><rect x="931" y="285.7" width="1" height="15.5" fill="#f23645"/><rect x="931" y="293.2" width="1" height="11.5" fill="#089981"/><rect x="932" y="291.7" width="1" height="12.9" fill="#089981"/><rect x="933" y="270.0" width="1" height="26.6" fill="#089981"/><rect x="933" y="261.0" width="1" height="20.0" fill="#089981"/><rect x="934" y="254.8" width="1" height="13.8" fill="#089981"/><rect x="935" y="248.5" width="1" height="18.6" fill="#f23645"/><rect x="935" y="248.5" width="1" height="14.1" fill="#089981"/><rect x="936" y="254.9" width="1" height="1.0" fill="#f23645"/><rect x="937" y="252.2" width="1" height="16.4" fill="#f23645"/><rect x="937" y="217.9" width="1" height="55.2" fill="#089981"/><rect x="938" y="217.2" width="1" height="10.7" fill="#f23645"/><rect x="939" y="224.4" width="1" height="14.5" fill="#f23645"/><rect x="940" y="221.4" width="1" height="11.2" fill="#089981"/><rect x="940" y="210.0" width="1" height="17.4" fill="#089981"/><rect x="941" y="210.0" width="1" height="15.5" fill="#f23645"/><rect x="942" y="221.0" width="1" height="8.3" fill="#f23645"/><rect x="942" y="194.7" width="1" height="34.7" fill="#089981"/><rect x="943" y="185.2" width="1" height="23.9" fill="#089981"/></g>
<path d="M937.3 197.8 L940.3 195.4 M944.3 195.4 L947.2 198.6" stroke="#9598a1" stroke-opacity="0.55" stroke-width="1" fill="none"/>
<line x1="8" y1="194.5" x2="1357" y2="194.5" stroke="#089981" stroke-opacity="0.85" stroke-width="1" stroke-dasharray="1 2" shape-rendering="crispEdges"/>
</g>
<defs><filter id="sh" x="-30%" y="-30%" width="160%" height="160%"><feDropShadow dx="0" dy="2" stdDeviation="2" flood-color="#000" flood-opacity="0.4"/></filter></defs>
<circle cx="1310.5" cy="329.2" r="23" fill="#1e222d" filter="url(#sh)"/>
<path d="M1305.7 321.5 L1318.2 329.3 L1305.7 337.2 Z" fill="#2962ff"/>
</svg>
<div style="position:absolute;left:1357px;top:5px;width:56px;height:626px;overflow:hidden"><div style="position:absolute;left:-1357px;top:-5px">
<div class="t" style="left:1365.51px;top:622.27px;font-size:12.2px;color:#b2b5be;transform:scale(0.9092,1.0000);transform-origin:0 0;">500.0</div>
<div class="t" style="left:1365.39px;top:589.67px;font-size:12.2px;color:#b2b5be;transform:scale(0.9130,1.0000);transform-origin:0 0;">750.0</div>
<div class="t" style="left:1365.09px;top:557.67px;font-size:12.2px;color:#b2b5be;transform:scale(0.9404,1.0000);transform-origin:0 0;">1,000.0</div>
<div class="t" style="left:1365.09px;top:525.67px;font-size:12.2px;color:#b2b5be;transform:scale(0.9404,1.0000);transform-origin:0 0;">1,250.0</div>
<div class="t" style="left:1365.09px;top:493.67px;font-size:12.2px;color:#b2b5be;transform:scale(0.9404,1.0000);transform-origin:0 0;">1,500.0</div>
<div class="t" style="left:1365.09px;top:461.67px;font-size:12.2px;color:#b2b5be;transform:scale(0.9404,1.0000);transform-origin:0 0;">1,750.0</div>
<div class="t" style="left:1365.38px;top:429.67px;font-size:12.2px;color:#b2b5be;transform:scale(0.9332,1.0000);transform-origin:0 0;">2,000.0</div>
<div class="t" style="left:1365.38px;top:397.67px;font-size:12.2px;color:#b2b5be;transform:scale(0.9332,1.0000);transform-origin:0 0;">2,250.0</div>
<div class="t" style="left:1365.38px;top:365.67px;font-size:12.2px;color:#b2b5be;transform:scale(0.9332,1.0000);transform-origin:0 0;">2,500.0</div>
<div class="t" style="left:1365.38px;top:332.67px;font-size:12.2px;color:#b2b5be;transform:scale(0.9332,1.0000);transform-origin:0 0;">2,750.0</div>
<div class="t" style="left:1365.50px;top:300.67px;font-size:12.2px;color:#b2b5be;transform:scale(0.9303,1.0000);transform-origin:0 0;">3,000.0</div>
<div class="t" style="left:1365.50px;top:268.67px;font-size:12.2px;color:#b2b5be;transform:scale(0.9303,1.0000);transform-origin:0 0;">3,250.0</div>
<div class="t" style="left:1365.50px;top:204.67px;font-size:12.2px;color:#b2b5be;transform:scale(0.9303,1.0000);transform-origin:0 0;">3,750.0</div>
<div class="t" style="left:1365.72px;top:172.67px;font-size:12.2px;color:#b2b5be;transform:scale(0.9246,1.0000);transform-origin:0 0;">4,000.0</div>
<div class="t" style="left:1365.72px;top:140.67px;font-size:12.2px;color:#b2b5be;transform:scale(0.9246,1.0000);transform-origin:0 0;">4,250.0</div>
<div class="t" style="left:1365.72px;top:108.67px;font-size:12.2px;color:#b2b5be;transform:scale(0.9246,1.0000);transform-origin:0 0;">4,500.0</div>
<div class="t" style="left:1365.72px;top:76.67px;font-size:12.2px;color:#b2b5be;transform:scale(0.9246,1.0000);transform-origin:0 0;">4,750.0</div>
<div class="t" style="left:1365.50px;top:43.67px;font-size:12.2px;color:#b2b5be;transform:scale(0.9303,1.0000);transform-origin:0 0;">5,000.0</div>
</div></div>
<div class="lb" style="top:186px;background:#089981"></div>
<div class="t" style="left:1365.19px;top:186.67px;font-size:12.2px;color:#fff;transform:scale(0.9332,1.0000);transform-origin:0 0;">3,889.1</div>
<div class="lb" style="top:202px;background:#787b86"></div>
<div class="t" style="left:1365.20px;top:202.67px;font-size:12.2px;color:#fff;transform:scale(0.9317,1.0000);transform-origin:0 0;">3,828.5</div>
<div class="lb" style="top:238px;background:#ff0000"></div>
<div class="t" style="left:1365.20px;top:238.67px;font-size:12.2px;color:#fff;transform:scale(0.9317,1.0000);transform-origin:0 0;">3,486.6</div>
<div class="lb" style="top:273px;background:#f23645"></div>
<div class="t" style="left:1365.20px;top:273.67px;font-size:12.2px;color:#fff;transform:scale(0.9317,1.0000);transform-origin:0 0;">3,209.5</div>
<div class="lb" style="top:289px;background:#ff8000"></div>
<div class="t" style="left:1365.19px;top:289.67px;font-size:12.2px;color:#fff;transform:scale(0.9332,1.0000);transform-origin:0 0;">3,153.9</div>
<div class="lb" style="top:305px;background:#00ffff"></div>
<div class="t" style="left:1365.08px;top:305.67px;font-size:12.2px;color:#000;transform:scale(0.9317,1.0000);transform-origin:0 0;">2,971.4</div>
<div class="lb" style="top:321px;background:#0000ff"></div>
<div class="t" style="left:1365.08px;top:321.67px;font-size:12.2px;color:#fff;transform:scale(0.9375,1.0000);transform-origin:0 0;">2,912.2</div>
<div style="position:absolute;left:1360px;top:8px;width:47px;height:23px;border:1px solid #434651;border-radius:4px;background:#131722"></div>
<div class="t" style="left:1364.02px;top:14.67px;font-size:12.2px;color:#d1d4dc;transform:scale(0.9062,1.0000);transform-origin:0 0;">USD</div>
<div class="t" style="left:16.40px;top:637.67px;font-size:12.2px;color:#b2b5be;transform:scale(0.8782,1.0000);transform-origin:0 0;">Apr</div>
<div class="t" style="left:99.09px;top:637.67px;font-size:12.2px;color:#b2b5be;transform:scale(0.8507,1.0000);transform-origin:0 0;">Aug</div>
<div class="t" style="left:199.33px;top:637.67px;font-size:12.2px;color:#b2b5be;font-weight:bold;-webkit-text-stroke-width:0;transform:scale(0.9722,1.0000);transform-origin:0 0;">2022</div>
<div class="t" style="left:284.24px;top:637.67px;font-size:12.2px;color:#b2b5be;transform:scale(0.8514,1.0000);transform-origin:0 0;">May</div>
<div class="t" style="left:369.49px;top:637.67px;font-size:12.2px;color:#b2b5be;transform:scale(0.8269,1.0000);transform-origin:0 0;">Sep</div>
<div class="t" style="left:448.67px;top:637.67px;font-size:12.2px;color:#b2b5be;font-weight:bold;-webkit-text-stroke-width:0;transform:scale(0.9699,1.0000);transform-origin:0 0;">2023</div>
<div class="t" style="left:533.57px;top:637.67px;font-size:12.2px;color:#b2b5be;transform:scale(0.8514,1.0000);transform-origin:0 0;">May</div>
<div class="t" style="left:618.82px;top:637.67px;font-size:12.2px;color:#b2b5be;transform:scale(0.8269,1.0000);transform-origin:0 0;">Sep</div>
<div class="t" style="left:698.00px;top:637.67px;font-size:12.2px;color:#b2b5be;font-weight:bold;-webkit-text-stroke-width:0;transform:scale(0.9566,1.0000);transform-origin:0 0;">2024</div>
<div class="t" style="left:783.59px;top:637.67px;font-size:12.2px;color:#b2b5be;transform:scale(0.8514,1.0000);transform-origin:0 0;">May</div>
<div class="t" style="left:868.84px;top:637.67px;font-size:12.2px;color:#b2b5be;transform:scale(0.8269,1.0000);transform-origin:0 0;">Sep</div>
<div class="t" style="left:948.02px;top:637.67px;font-size:12.2px;color:#b2b5be;font-weight:bold;-webkit-text-stroke-width:0;transform:scale(0.9654,1.0000);transform-origin:0 0;">2025</div>
<div class="t" style="left:1032.92px;top:637.67px;font-size:12.2px;color:#b2b5be;transform:scale(0.8514,1.0000);transform-origin:0 0;">May</div>
<div class="t" style="left:1118.17px;top:637.67px;font-size:12.2px;color:#b2b5be;transform:scale(0.8269,1.0000);transform-origin:0 0;">Sep</div>
<div class="t" style="left:1197.34px;top:637.67px;font-size:12.2px;color:#b2b5be;font-weight:bold;-webkit-text-stroke-width:0;transform:scale(0.9699,1.0000);transform-origin:0 0;">2026</div>
<svg style="position:absolute;left:16px;top:11px" width="19" height="18" viewBox="0 0 19 18"><defs><linearGradient id="e1" x1="0" y1="0" x2="0" y2="1"><stop offset="0" stop-color="#c9b8ff"/><stop offset="1" stop-color="#3f83f8"/></linearGradient><linearGradient id="e2" x1="0" y1="0" x2="0" y2="1"><stop offset="0" stop-color="#6fe0f0"/><stop offset=".55" stop-color="#5fe5df"/><stop offset="1" stop-color="#e58cf5"/></linearGradient><linearGradient id="e3" x1="0" y1="0" x2="0" y2="1"><stop offset="0" stop-color="#3f83f8"/><stop offset="1" stop-color="#5a7cf0"/></linearGradient><linearGradient id="e4" x1="0" y1="0" x2="0" y2="1"><stop offset="0" stop-color="#d88cf5"/><stop offset="1" stop-color="#8f8cf5"/></linearGradient></defs><ellipse cx="9.55" cy="8.95" rx="8.5" ry="8.2" fill="#f0f3fa"/><path d="M9.5 3 L5.4 9.3 L9.5 9.3 Z" fill="url(#e1)"/><path d="M9.5 3 L13.6 9.3 L9.5 9.3 Z" fill="url(#e2)"/><path d="M5.4 9.3 L9.5 14.8 L9.5 9.3 Z" fill="url(#e3)"/><path d="M13.6 9.3 L9.5 14.8 L9.5 9.3 Z" fill="url(#e4)"/></svg>
<div style="position:absolute;left:195.2px;top:19.8px;width:2.3px;height:2.3px;background:#d1d4dc"></div>
<div style="position:absolute;left:223.7px;top:19.8px;width:2.3px;height:2.3px;background:#d1d4dc"></div>
<div class="t" style="left:36.73px;top:14.46px;font-size:16px;color:#d1d4dc;transform:scale(0.9498,1.0000);transform-origin:0 0;">Ethereum</div>
<div class="t" style="left:107.85px;top:14.46px;font-size:16px;color:#d1d4dc;transform:scale(1.0268,1.0000);transform-origin:0 0;">/</div>
<div class="t" style="left:118.59px;top:14.46px;font-size:16px;color:#d1d4dc;transform:scale(0.8873,1.0000);transform-origin:0 0;">U.S.</div>
<div class="t" style="left:151.28px;top:14.46px;font-size:16px;color:#d1d4dc;transform:scale(0.9120,1.0000);transform-origin:0 0;">Dollar</div>
<div class="t" style="left:203.15px;top:14.46px;font-size:16px;color:#d1d4dc;transform:scale(0.8333,1.0000);transform-origin:0 0;">1D</div>
<div class="t" style="left:230.62px;top:14.46px;font-size:16px;color:#d1d4dc;transform:scale(0.8042,1.0000);transform-origin:0 0;">BITSTAMP</div>
<div class="t" style="left:301.67px;top:13.92px;font-size:12.5px;color:#d1d4dc;transform:scale(0.8526,1.0000);transform-origin:0 0;">O</div>
<div class="t" style="left:310.97px;top:13.92px;font-size:12.5px;color:#089981;transform:scale(0.9620,1.0000);transform-origin:0 0;">3,844.0</div>
<div class="t" style="left:356.82px;top:13.92px;font-size:12.5px;color:#d1d4dc;transform:scale(1.0286,1.0000);transform-origin:0 0;">H</div>
<div class="t" style="left:366.57px;top:13.92px;font-size:12.5px;color:#089981;transform:scale(0.9600,1.0000);transform-origin:0 0;">3,958.9</div>
<div class="t" style="left:412.20px;top:13.92px;font-size:12.5px;color:#d1d4dc;transform:scale(0.9528,1.0000);transform-origin:0 0;">L</div>
<div class="t" style="left:419.97px;top:13.92px;font-size:12.5px;color:#089981;transform:scale(0.9585,1.0000);transform-origin:0 0;">3,772.6</div>
<div class="t" style="left:465.95px;top:13.92px;font-size:12.5px;color:#d1d4dc;transform:scale(0.7937,1.0000);transform-origin:0 0;">C</div>
<div class="t" style="left:474.07px;top:13.92px;font-size:12.5px;color:#089981;transform:scale(0.9625,1.0000);transform-origin:0 0;">3,889.1</div>
<div class="t" style="left:521.57px;top:13.92px;font-size:12.5px;color:#089981;transform:scale(0.9298,1.0000);transform-origin:0 0;">+44.9</div>
<div class="t" style="left:555.18px;top:13.92px;font-size:12.5px;color:#089981;transform:scale(0.8999,1.0000);transform-origin:0 0;">(+1.17%)</div>
<div class="t" style="left:16.52px;top:36.76px;font-size:12.1px;color:#d1d4dc;transform:scale(0.8562,1.0000);transform-origin:0 0;-webkit-text-stroke-width:0.45px;">EMA</div>
<div class="t" style="left:41.90px;top:36.76px;font-size:12.1px;color:#d1d4dc;transform:scale(1.0779,1.0000);transform-origin:0 0;-webkit-text-stroke-width:0.45px;">20/50/100/200</div>
<div class="t" style="left:132.27px;top:36.76px;font-size:12.1px;color:#f00000;transform:scale(0.9978,1.0000);transform-origin:0 0;">3,486.6</div>
<div class="t" style="left:178.66px;top:36.76px;font-size:12.1px;color:#f58400;transform:scale(1.0095,1.0000);transform-origin:0 0;">3,153.9</div>
<div class="t" style="left:224.72px;top:36.76px;font-size:12.1px;color:#00e5f0;font-weight:bold;-webkit-text-stroke-width:0;transform:scale(1.0208,1.0000);transform-origin:0 0;">2,971.4</div>
<div class="t" style="left:271.54px;top:36.76px;font-size:12.1px;color:#0000ff;transform:scale(1.0066,1.0000);transform-origin:0 0;">2,912.2</div>
<div style="position:absolute;left:17px;top:56px;width:25px;height:17px;border:1px solid #363a45;border-radius:3px"></div>
<svg style="position:absolute;left:24px;top:61.9px" width="12" height="8" viewBox="0 0 12 8"><path d="M2.2 6 L6 2.4 L9.8 6" fill="none" stroke="#d1d4dc" stroke-width="1.4"/></svg>
<svg style="position:absolute;left:19px;top:602.5px" width="28.4" height="22.1" viewBox="0 0 36 28"><path d="M14 22H7V11H0V4h14v18zM28 22h-8l7.5-18h8L28 22z" fill="#d1d4dc"/><circle cx="20.3" cy="6.8" r="2.8" fill="#d1d4dc"/></svg>
<div class="t" style="left:54.16px;top:603.73px;font-size:20.4px;color:#d1d4dc;font-weight:bold;-webkit-text-stroke-width:0;transform:scale(0.9403,1.0000);transform-origin:0 0;">TradingView</div>
</body></html>
